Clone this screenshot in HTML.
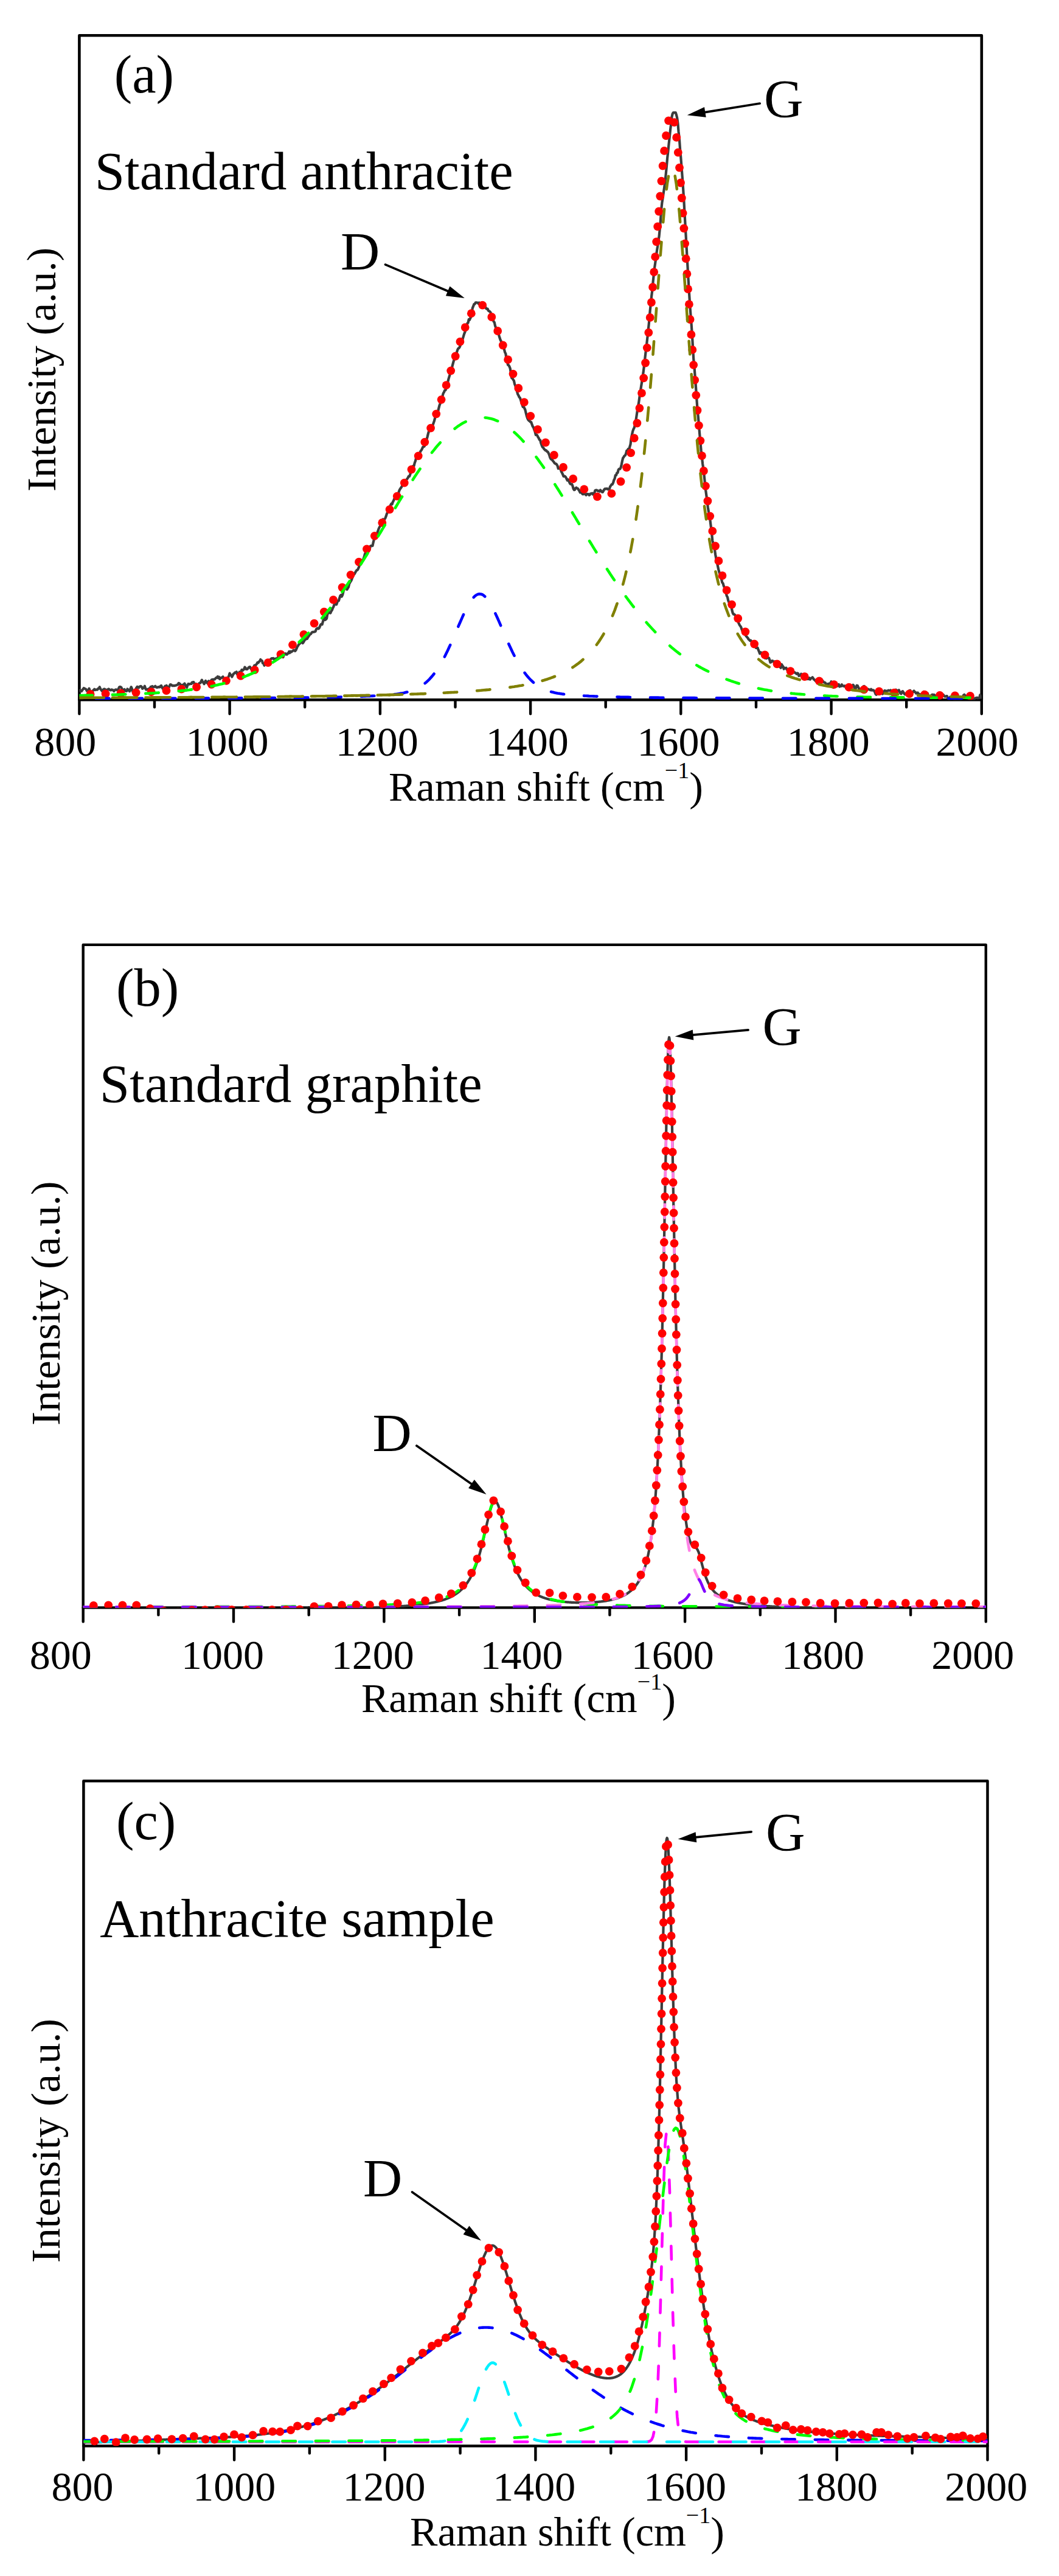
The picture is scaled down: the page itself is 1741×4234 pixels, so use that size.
<!DOCTYPE html><html><head><meta charset="utf-8"><title>Raman spectra</title>
<style>html,body{margin:0;padding:0;background:#fff}svg{display:block}text{font-family:"Liberation Serif", "Times New Roman", serif;fill:#000}</style></head><body>
<svg width="1741" height="4234" viewBox="0 0 1741 4234">
<rect width="1741" height="4234" fill="#fff"/>
<clipPath id="clip1"><rect x="130.4" y="58.3" width="1483.4" height="1092.0"/></clipPath>
<rect x="130.4" y="58.3" width="1483.4" height="1092.0" fill="none" stroke="#000" stroke-width="4.6" stroke-linejoin="round"/>
<path d="M130.4,1150.3 v23 M254.0,1150.3 v12 M377.6,1150.3 v23 M501.2,1150.3 v12 M624.9,1150.3 v23 M748.5,1150.3 v12 M872.1,1150.3 v23 M995.7,1150.3 v12 M1119.3,1150.3 v23 M1243.0,1150.3 v12 M1366.6,1150.3 v23 M1490.2,1150.3 v12 M1613.8,1150.3 v23" stroke="#000" stroke-width="4.4" stroke-linecap="round" fill="none"/>
<g clip-path="url(#clip1)" fill="none" stroke-linejoin="round">
<path d="M130.4,1134.3 L131.6,1134.3 L132.9,1136.2 L134.1,1136.1 L135.3,1134.3 L136.6,1132.5 L137.8,1130.9 L139.1,1132.0 L140.3,1132.0 L141.5,1133.0 L142.8,1135.5 L144.0,1134.8 L145.2,1134.4 L146.5,1131.6 L147.7,1134.8 L148.9,1137.7 L150.2,1139.4 L151.4,1137.8 L152.7,1135.2 L153.9,1134.1 L155.1,1132.8 L156.4,1134.0 L157.6,1133.5 L158.8,1133.6 L160.1,1133.6 L161.3,1131.8 L162.5,1131.6 L163.8,1129.2 L165.0,1132.1 L166.2,1133.7 L167.5,1135.7 L168.7,1135.0 L170.0,1133.2 L171.2,1132.4 L172.4,1132.8 L173.7,1134.8 L174.9,1135.8 L176.1,1133.6 L177.4,1133.4 L178.6,1132.4 L179.8,1133.4 L181.1,1134.2 L182.3,1134.4 L183.6,1133.3 L184.8,1133.9 L186.0,1134.3 L187.3,1136.1 L188.5,1134.5 L189.7,1133.5 L191.0,1133.4 L192.2,1134.2 L193.4,1133.7 L194.7,1132.7 L195.9,1129.6 L197.2,1128.8 L198.4,1129.2 L199.6,1130.2 L200.9,1133.6 L202.1,1133.3 L203.3,1134.1 L204.6,1133.0 L205.8,1135.4 L207.0,1135.8 L208.3,1135.8 L209.5,1132.5 L210.8,1133.9 L212.0,1135.0 L213.2,1136.3 L214.5,1131.8 L215.7,1129.2 L216.9,1131.9 L218.2,1136.8 L219.4,1137.1 L220.6,1135.5 L221.9,1133.7 L223.1,1132.9 L224.3,1130.5 L225.6,1128.8 L226.8,1129.7 L228.1,1130.5 L229.3,1128.6 L230.5,1128.1 L231.8,1127.9 L233.0,1129.2 L234.2,1131.9 L235.5,1130.9 L236.7,1130.3 L237.9,1127.6 L239.2,1131.6 L240.4,1133.6 L241.7,1133.1 L242.9,1132.9 L244.1,1132.2 L245.4,1131.9 L246.6,1131.2 L247.8,1128.9 L249.1,1129.4 L250.3,1127.9 L251.5,1129.4 L252.8,1129.2 L254.0,1128.8 L255.3,1127.7 L256.5,1129.3 L257.7,1129.9 L259.0,1129.9 L260.2,1129.0 L261.4,1129.5 L262.7,1129.5 L263.9,1127.6 L265.1,1127.0 L266.4,1129.8 L267.6,1131.8 L268.9,1131.3 L270.1,1129.8 L271.3,1127.8 L272.6,1128.8 L273.8,1126.7 L275.0,1130.0 L276.3,1129.6 L277.5,1130.3 L278.7,1127.2 L280.0,1125.0 L281.2,1125.2 L282.4,1126.4 L283.7,1127.2 L284.9,1126.8 L286.2,1127.1 L287.4,1126.8 L288.6,1126.7 L289.9,1126.3 L291.1,1125.6 L292.3,1125.5 L293.6,1122.8 L294.8,1123.2 L296.0,1124.3 L297.3,1127.2 L298.5,1127.5 L299.8,1125.7 L301.0,1125.5 L302.2,1124.8 L303.5,1123.5 L304.7,1126.2 L305.9,1128.0 L307.2,1129.8 L308.4,1125.9 L309.6,1124.0 L310.9,1124.7 L312.1,1124.2 L313.4,1124.0 L314.6,1124.0 L315.8,1121.5 L317.1,1121.3 L318.3,1121.1 L319.5,1124.2 L320.8,1124.7 L322.0,1123.9 L323.2,1127.1 L324.5,1127.2 L325.7,1125.6 L327.0,1123.5 L328.2,1122.7 L329.4,1122.6 L330.7,1119.8 L331.9,1117.6 L333.1,1120.8 L334.4,1122.1 L335.6,1124.2 L336.8,1121.0 L338.1,1119.0 L339.3,1121.7 L340.5,1120.9 L341.8,1123.8 L343.0,1119.3 L344.3,1122.4 L345.5,1120.0 L346.7,1119.1 L348.0,1117.2 L349.2,1116.9 L350.4,1117.1 L351.7,1116.5 L352.9,1116.6 L354.1,1115.3 L355.4,1113.9 L356.6,1113.9 L357.9,1112.0 L359.1,1114.5 L360.3,1112.7 L361.6,1116.2 L362.8,1114.3 L364.0,1114.2 L365.3,1113.3 L366.5,1112.3 L367.7,1114.8 L369.0,1116.6 L370.2,1116.3 L371.5,1115.3 L372.7,1114.3 L373.9,1116.6 L375.2,1113.4 L376.4,1110.8 L377.6,1106.6 L378.9,1109.1 L380.1,1109.6 L381.3,1112.5 L382.6,1110.0 L383.8,1107.5 L385.1,1106.8 L386.3,1105.3 L387.5,1105.6 L388.8,1104.3 L390.0,1108.3 L391.2,1107.3 L392.5,1106.7 L393.7,1104.5 L394.9,1105.3 L396.2,1104.1 L397.4,1101.0 L398.6,1102.3 L399.9,1100.8 L401.1,1100.3 L402.4,1096.6 L403.6,1097.8 L404.8,1100.0 L406.1,1100.0 L407.3,1099.1 L408.5,1097.4 L409.8,1096.3 L411.0,1096.2 L412.2,1098.7 L413.5,1100.4 L414.7,1101.9 L416.0,1097.3 L417.2,1095.8 L418.4,1093.6 L419.7,1094.0 L420.9,1092.8 L422.1,1091.2 L423.4,1088.9 L424.6,1089.4 L425.8,1087.5 L427.1,1086.7 L428.3,1084.0 L429.6,1085.7 L430.8,1086.0 L432.0,1090.2 L433.3,1090.4 L434.5,1093.8 L435.7,1089.9 L437.0,1090.0 L438.2,1087.4 L439.4,1088.8 L440.7,1087.1 L441.9,1087.6 L443.2,1086.8 L444.4,1084.2 L445.6,1083.0 L446.9,1082.1 L448.1,1082.5 L449.3,1082.0 L450.6,1083.5 L451.8,1084.8 L453.0,1082.5 L454.3,1082.4 L455.5,1081.9 L456.7,1081.4 L458.0,1077.8 L459.2,1076.5 L460.5,1076.2 L461.7,1076.5 L462.9,1077.4 L464.2,1079.8 L465.4,1080.2 L466.6,1076.8 L467.9,1074.8 L469.1,1074.2 L470.3,1075.5 L471.6,1075.8 L472.8,1074.0 L474.1,1073.8 L475.3,1070.8 L476.5,1073.1 L477.8,1070.7 L479.0,1071.5 L480.2,1070.6 L481.5,1069.6 L482.7,1068.7 L483.9,1068.5 L485.2,1070.0 L486.4,1068.7 L487.7,1065.7 L488.9,1062.8 L490.1,1061.3 L491.4,1058.8 L492.6,1058.2 L493.8,1056.3 L495.1,1055.2 L496.3,1054.0 L497.5,1057.2 L498.8,1055.8 L500.0,1053.7 L501.2,1050.3 L502.5,1051.0 L503.7,1049.1 L505.0,1049.9 L506.2,1047.6 L507.4,1045.9 L508.7,1043.8 L509.9,1042.4 L511.1,1042.0 L512.4,1039.8 L513.6,1038.8 L514.8,1038.9 L516.1,1038.7 L517.3,1038.3 L518.6,1037.9 L519.8,1034.4 L521.0,1033.0 L522.3,1032.3 L523.5,1033.3 L524.7,1032.3 L526.0,1029.5 L527.2,1026.6 L528.4,1025.7 L529.7,1026.3 L530.9,1021.5 L532.2,1017.4 L533.4,1013.9 L534.6,1018.9 L535.9,1017.9 L537.1,1016.4 L538.3,1009.3 L539.6,1007.8 L540.8,1006.8 L542.0,1006.5 L543.3,1007.7 L544.5,1004.6 L545.8,1003.0 L547.0,999.6 L548.2,997.5 L549.5,993.8 L550.7,992.8 L551.9,993.5 L553.2,993.6 L554.4,989.8 L555.6,987.6 L556.9,987.4 L558.1,983.1 L559.3,979.5 L560.6,978.0 L561.8,980.6 L563.1,977.9 L564.3,973.3 L565.5,967.5 L566.8,966.7 L568.0,967.1 L569.2,967.2 L570.5,968.9 L571.7,966.7 L572.9,965.1 L574.2,959.6 L575.4,957.4 L576.7,955.4 L577.9,953.3 L579.1,949.7 L580.4,946.5 L581.6,944.6 L582.8,943.3 L584.1,940.9 L585.3,938.8 L586.5,937.2 L587.8,936.7 L589.0,934.5 L590.3,931.4 L591.5,928.1 L592.7,925.8 L594.0,923.2 L595.2,921.3 L596.4,920.7 L597.7,918.2 L598.9,914.4 L600.1,910.1 L601.4,908.7 L602.6,907.3 L603.9,906.9 L605.1,907.0 L606.3,905.4 L607.6,903.3 L608.8,897.8 L610.0,897.1 L611.3,897.0 L612.5,897.1 L613.7,891.4 L615.0,886.3 L616.2,884.4 L617.4,885.0 L618.7,881.6 L619.9,876.8 L621.2,873.3 L622.4,869.7 L623.6,867.0 L624.9,864.8 L626.1,863.6 L627.3,860.0 L628.6,856.3 L629.8,853.4 L631.0,854.4 L632.3,853.5 L633.5,851.5 L634.8,848.1 L636.0,844.2 L637.2,842.0 L638.5,838.2 L639.7,837.5 L640.9,832.8 L642.2,830.1 L643.4,827.9 L644.6,828.8 L645.9,824.9 L647.1,822.8 L648.4,819.6 L649.6,819.4 L650.8,816.7 L652.1,817.1 L653.3,815.9 L654.5,813.2 L655.8,808.0 L657.0,805.0 L658.2,803.2 L659.5,801.3 L660.7,799.3 L662.0,796.8 L663.2,795.6 L664.4,794.3 L665.7,791.4 L666.9,790.5 L668.1,788.7 L669.4,787.2 L670.6,785.4 L671.8,782.8 L673.1,783.0 L674.3,779.7 L675.5,776.0 L676.8,770.4 L678.0,767.2 L679.3,765.8 L680.5,765.9 L681.7,761.0 L683.0,757.6 L684.2,752.0 L685.4,752.9 L686.7,751.3 L687.9,752.4 L689.1,747.8 L690.4,743.8 L691.6,741.3 L692.9,739.7 L694.1,737.4 L695.3,734.6 L696.6,734.1 L697.8,733.5 L699.0,729.3 L700.3,726.0 L701.5,721.8 L702.7,717.8 L704.0,712.3 L705.2,708.5 L706.5,704.0 L707.7,700.3 L708.9,699.8 L710.2,699.3 L711.4,699.0 L712.6,695.6 L713.9,691.9 L715.1,687.3 L716.3,682.0 L717.6,680.6 L718.8,678.9 L720.1,676.1 L721.3,671.0 L722.5,666.3 L723.8,662.9 L725.0,660.0 L726.2,655.2 L727.5,651.0 L728.7,646.5 L729.9,644.6 L731.2,641.6 L732.4,641.2 L733.6,637.8 L734.9,633.7 L736.1,628.4 L737.4,623.0 L738.6,619.0 L739.8,615.0 L741.1,611.6 L742.3,608.3 L743.5,602.1 L744.8,597.1 L746.0,592.8 L747.2,590.6 L748.5,587.9 L749.7,584.4 L751.0,578.9 L752.2,575.0 L753.4,572.6 L754.7,572.1 L755.9,569.9 L757.1,566.8 L758.4,563.5 L759.6,560.1 L760.8,556.8 L762.1,552.2 L763.3,548.4 L764.6,545.2 L765.8,539.2 L767.0,537.0 L768.3,531.5 L769.5,530.6 L770.7,525.0 L772.0,525.7 L773.2,523.0 L774.4,520.5 L775.7,513.2 L776.9,506.1 L778.2,503.1 L779.4,499.8 L780.6,499.7 L781.9,497.4 L783.1,497.2 L784.3,497.5 L785.6,497.5 L786.8,499.2 L788.0,497.5 L789.3,499.6 L790.5,498.3 L791.7,497.7 L793.0,497.5 L794.2,498.7 L795.5,501.0 L796.7,502.0 L797.9,504.4 L799.2,507.0 L800.4,507.8 L801.6,507.6 L802.9,510.7 L804.1,511.3 L805.3,512.2 L806.6,513.6 L807.8,517.9 L809.1,523.2 L810.3,524.2 L811.5,528.3 L812.8,529.9 L814.0,535.4 L815.2,538.6 L816.5,541.8 L817.7,542.9 L818.9,545.5 L820.2,550.8 L821.4,555.0 L822.7,558.7 L823.9,561.1 L825.1,563.9 L826.4,566.1 L827.6,571.0 L828.8,573.8 L830.1,579.0 L831.3,581.2 L832.5,588.8 L833.8,592.6 L835.0,599.7 L836.3,600.4 L837.5,602.4 L838.7,605.6 L840.0,613.5 L841.2,621.1 L842.4,621.8 L843.7,624.1 L844.9,625.8 L846.1,631.3 L847.4,634.5 L848.6,639.4 L849.8,642.4 L851.1,647.6 L852.3,649.7 L853.6,652.7 L854.8,653.6 L856.0,657.1 L857.3,661.9 L858.5,665.4 L859.7,668.9 L861.0,668.8 L862.2,671.0 L863.4,673.5 L864.7,679.0 L865.9,683.7 L867.2,687.5 L868.4,690.1 L869.6,691.4 L870.9,692.2 L872.1,693.6 L873.3,693.8 L874.6,697.8 L875.8,700.9 L877.0,702.4 L878.3,706.2 L879.5,709.2 L880.8,714.9 L882.0,714.5 L883.2,715.6 L884.5,718.3 L885.7,720.2 L886.9,722.8 L888.2,723.6 L889.4,728.5 L890.6,731.8 L891.9,734.8 L893.1,735.7 L894.4,737.9 L895.6,739.1 L896.8,740.5 L898.1,740.3 L899.3,742.1 L900.5,742.7 L901.8,744.8 L903.0,747.7 L904.2,751.7 L905.5,754.2 L906.7,755.3 L907.9,755.9 L909.2,757.8 L910.4,759.1 L911.7,761.3 L912.9,762.1 L914.1,762.4 L915.4,763.6 L916.6,765.9 L917.8,770.1 L919.1,769.1 L920.3,770.5 L921.5,770.8 L922.8,775.2 L924.0,777.2 L925.3,780.0 L926.5,782.9 L927.7,782.6 L929.0,783.0 L930.2,784.4 L931.4,786.8 L932.7,789.6 L933.9,788.3 L935.1,790.2 L936.4,793.4 L937.6,795.6 L938.9,795.6 L940.1,795.8 L941.3,798.2 L942.6,803.2 L943.8,805.3 L945.0,804.9 L946.3,802.3 L947.5,801.5 L948.7,802.7 L950.0,803.0 L951.2,805.0 L952.5,806.8 L953.7,809.5 L954.9,808.6 L956.2,809.4 L957.4,811.8 L958.6,812.4 L959.9,811.0 L961.1,811.5 L962.3,812.4 L963.6,813.7 L964.8,811.8 L966.0,812.2 L967.3,812.2 L968.5,813.9 L969.8,813.0 L971.0,811.2 L972.2,811.0 L973.5,810.7 L974.7,812.6 L975.9,811.1 L977.2,810.1 L978.4,806.1 L979.6,805.6 L980.9,805.6 L982.1,806.4 L983.4,807.2 L984.6,806.7 L985.8,807.8 L987.1,805.5 L988.3,807.0 L989.5,808.6 L990.8,808.9 L992.0,806.9 L993.2,804.8 L994.5,803.4 L995.7,803.7 L997.0,803.3 L998.2,803.2 L999.4,804.3 L1000.7,803.7 L1001.9,803.6 L1003.1,799.7 L1004.4,798.0 L1005.6,796.1 L1006.8,796.2 L1008.1,793.4 L1009.3,789.2 L1010.6,786.6 L1011.8,781.1 L1013.0,781.1 L1014.3,777.3 L1015.5,777.0 L1016.7,772.0 L1018.0,770.7 L1019.2,770.9 L1020.4,769.0 L1021.7,764.0 L1022.9,758.1 L1024.1,753.1 L1025.4,751.3 L1026.6,749.1 L1027.9,748.6 L1029.1,745.5 L1030.3,740.7 L1031.6,740.3 L1032.8,737.9 L1034.0,740.8 L1035.3,734.4 L1036.5,730.4 L1037.7,720.6 L1039.0,714.3 L1040.2,708.9 L1041.5,705.2 L1042.7,703.0 L1043.9,698.2 L1045.2,692.3 L1046.4,684.2 L1047.6,676.3 L1048.9,668.3 L1050.1,662.0 L1051.3,653.3 L1052.6,644.9 L1053.8,636.8 L1055.1,628.6 L1056.3,620.7 L1057.5,612.9 L1058.8,602.4 L1060.0,591.9 L1061.2,581.5 L1062.5,571.5 L1063.7,560.8 L1064.9,550.3 L1066.2,538.0 L1067.4,526.0 L1068.7,510.5 L1069.9,499.6 L1071.1,487.1 L1072.4,476.7 L1073.6,463.0 L1074.8,451.6 L1076.1,440.0 L1077.3,431.7 L1078.5,423.1 L1079.8,413.3 L1081.0,405.5 L1082.2,396.1 L1083.5,389.0 L1084.7,376.9 L1086.0,361.8 L1087.2,343.9 L1088.4,333.0 L1089.7,325.0 L1090.9,316.5 L1092.1,308.3 L1093.4,298.2 L1094.6,287.6 L1095.8,274.5 L1097.1,260.0 L1098.3,249.4 L1099.6,236.1 L1100.8,225.6 L1102.0,213.6 L1103.3,202.9 L1104.5,192.0 L1105.7,187.0 L1107.0,185.0 L1108.2,185.1 L1109.4,185.1 L1110.7,185.0 L1111.9,188.4 L1113.2,193.7 L1114.4,202.6 L1115.6,216.7 L1116.9,228.6 L1118.1,245.6 L1119.3,258.9 L1120.6,275.8 L1121.8,291.6 L1123.0,308.7 L1124.3,328.5 L1125.5,350.3 L1126.8,373.3 L1128.0,394.2 L1129.2,416.4 L1130.5,438.8 L1131.7,460.4 L1132.9,480.1 L1134.2,500.7 L1135.4,516.9 L1136.6,532.2 L1137.9,550.8 L1139.1,571.7 L1140.3,591.3 L1141.6,604.6 L1142.8,620.4 L1144.1,637.5 L1145.3,655.7 L1146.5,671.6 L1147.8,684.6 L1149.0,698.6 L1150.2,713.4 L1151.5,727.5 L1152.7,740.7 L1153.9,751.2 L1155.2,762.8 L1156.4,770.8 L1157.7,782.3 L1158.9,793.6 L1160.1,805.2 L1161.4,814.7 L1162.6,824.4 L1163.8,833.6 L1165.1,842.0 L1166.3,848.7 L1167.5,855.3 L1168.8,865.7 L1170.0,875.8 L1171.3,888.8 L1172.5,892.8 L1173.7,900.2 L1175.0,903.8 L1176.2,911.9 L1177.4,918.7 L1178.7,923.8 L1179.9,929.8 L1181.1,935.5 L1182.4,940.5 L1183.6,943.7 L1184.9,948.2 L1186.1,952.0 L1187.3,957.5 L1188.6,958.7 L1189.8,963.2 L1191.0,965.7 L1192.3,970.3 L1193.5,973.5 L1194.7,979.2 L1196.0,981.5 L1197.2,987.0 L1198.4,989.9 L1199.7,991.8 L1200.9,993.3 L1202.2,996.4 L1203.4,1002.9 L1204.6,1007.4 L1205.9,1009.7 L1207.1,1009.7 L1208.3,1010.8 L1209.6,1012.9 L1210.8,1016.7 L1212.0,1017.9 L1213.3,1021.5 L1214.5,1024.4 L1215.8,1027.2 L1217.0,1028.9 L1218.2,1030.6 L1219.5,1034.6 L1220.7,1037.0 L1221.9,1037.9 L1223.2,1038.6 L1224.4,1041.7 L1225.6,1043.8 L1226.9,1045.8 L1228.1,1047.3 L1229.4,1048.6 L1230.6,1050.8 L1231.8,1051.6 L1233.1,1053.2 L1234.3,1052.7 L1235.5,1054.7 L1236.8,1056.6 L1238.0,1060.9 L1239.2,1058.5 L1240.5,1061.1 L1241.7,1059.8 L1243.0,1064.9 L1244.2,1064.5 L1245.4,1064.5 L1246.7,1068.1 L1247.9,1070.9 L1249.1,1074.3 L1250.4,1072.3 L1251.6,1073.7 L1252.8,1072.7 L1254.1,1073.6 L1255.3,1075.9 L1256.5,1078.5 L1257.8,1081.8 L1259.0,1079.2 L1260.3,1082.0 L1261.5,1080.6 L1262.7,1081.3 L1264.0,1081.3 L1265.2,1084.2 L1266.4,1088.8 L1267.7,1088.3 L1268.9,1086.4 L1270.1,1086.1 L1271.4,1087.3 L1272.6,1088.4 L1273.9,1087.3 L1275.1,1092.0 L1276.3,1093.7 L1277.6,1094.1 L1278.8,1091.0 L1280.0,1090.2 L1281.3,1095.1 L1282.5,1096.5 L1283.7,1097.7 L1285.0,1092.0 L1286.2,1094.0 L1287.5,1095.7 L1288.7,1099.5 L1289.9,1097.8 L1291.2,1098.5 L1292.4,1097.7 L1293.6,1100.4 L1294.9,1100.0 L1296.1,1102.7 L1297.3,1102.1 L1298.6,1103.8 L1299.8,1105.7 L1301.0,1105.1 L1302.3,1104.3 L1303.5,1103.5 L1304.8,1105.1 L1306.0,1104.8 L1307.2,1105.8 L1308.5,1106.7 L1309.7,1107.7 L1310.9,1106.3 L1312.2,1107.0 L1313.4,1110.9 L1314.6,1110.4 L1315.9,1110.0 L1317.1,1107.7 L1318.4,1110.1 L1319.6,1110.6 L1320.8,1111.6 L1322.1,1113.0 L1323.3,1114.6 L1324.5,1115.3 L1325.8,1115.1 L1327.0,1116.1 L1328.2,1114.9 L1329.5,1116.1 L1330.7,1114.2 L1332.0,1116.7 L1333.2,1114.9 L1334.4,1114.4 L1335.7,1113.2 L1336.9,1114.9 L1338.1,1116.9 L1339.4,1117.4 L1340.6,1119.0 L1341.8,1120.1 L1343.1,1120.5 L1344.3,1119.2 L1345.6,1118.6 L1346.8,1118.2 L1348.0,1117.0 L1349.3,1116.2 L1350.5,1116.7 L1351.7,1118.4 L1353.0,1119.9 L1354.2,1121.3 L1355.4,1121.6 L1356.7,1122.1 L1357.9,1124.2 L1359.1,1124.5 L1360.4,1124.6 L1361.6,1123.9 L1362.9,1123.8 L1364.1,1123.4 L1365.3,1122.7 L1366.6,1120.3 L1367.8,1124.5 L1369.0,1124.8 L1370.3,1130.0 L1371.5,1125.7 L1372.7,1122.4 L1374.0,1123.5 L1375.2,1124.8 L1376.5,1127.7 L1377.7,1125.2 L1378.9,1124.9 L1380.2,1128.6 L1381.4,1127.4 L1382.6,1127.9 L1383.9,1125.2 L1385.1,1127.3 L1386.3,1127.2 L1387.6,1128.0 L1388.8,1127.2 L1390.1,1128.9 L1391.3,1131.3 L1392.5,1131.9 L1393.8,1131.2 L1395.0,1127.6 L1396.2,1128.9 L1397.5,1129.4 L1398.7,1129.7 L1399.9,1128.6 L1401.2,1127.2 L1402.4,1125.7 L1403.7,1127.2 L1404.9,1131.4 L1406.1,1133.0 L1407.4,1130.1 L1408.6,1126.7 L1409.8,1126.9 L1411.1,1129.8 L1412.3,1132.1 L1413.5,1132.1 L1414.8,1132.7 L1416.0,1134.3 L1417.2,1136.8 L1418.5,1132.7 L1419.7,1128.1 L1421.0,1127.8 L1422.2,1132.1 L1423.4,1134.4 L1424.7,1134.6 L1425.9,1132.2 L1427.1,1132.8 L1428.4,1133.3 L1429.6,1133.5 L1430.8,1134.3 L1432.1,1132.8 L1433.3,1134.6 L1434.6,1134.4 L1435.8,1134.4 L1437.0,1135.4 L1438.3,1137.5 L1439.5,1140.8 L1440.7,1141.7 L1442.0,1140.4 L1443.2,1137.8 L1444.4,1136.2 L1445.7,1134.7 L1446.9,1134.6 L1448.2,1135.8 L1449.4,1137.6 L1450.6,1140.5 L1451.9,1139.9 L1453.1,1138.5 L1454.3,1135.2 L1455.6,1135.3 L1456.8,1136.2 L1458.0,1135.8 L1459.3,1135.7 L1460.5,1134.7 L1461.8,1135.2 L1463.0,1135.1 L1464.2,1134.5 L1465.5,1136.1 L1466.7,1136.9 L1467.9,1139.7 L1469.2,1140.0 L1470.4,1137.7 L1471.6,1134.5 L1472.9,1133.6 L1474.1,1134.9 L1475.3,1135.8 L1476.6,1134.9 L1477.8,1134.2 L1479.1,1137.3 L1480.3,1139.3 L1481.5,1140.3 L1482.8,1137.0 L1484.0,1136.1 L1485.2,1137.9 L1486.5,1140.2 L1487.7,1141.3 L1488.9,1141.4 L1490.2,1139.1 L1491.4,1139.1 L1492.7,1138.1 L1493.9,1137.3 L1495.1,1135.1 L1496.4,1134.8 L1497.6,1138.4 L1498.8,1139.5 L1500.1,1138.0 L1501.3,1136.5 L1502.5,1135.5 L1503.8,1137.5 L1505.0,1137.8 L1506.3,1139.7 L1507.5,1139.4 L1508.7,1138.5 L1510.0,1140.2 L1511.2,1140.9 L1512.4,1142.4 L1513.7,1141.4 L1514.9,1141.8 L1516.1,1141.2 L1517.4,1138.1 L1518.6,1137.0 L1519.9,1137.7 L1521.1,1142.3 L1522.3,1140.8 L1523.6,1141.2 L1524.8,1139.4 L1526.0,1143.4 L1527.3,1143.7 L1528.5,1145.1 L1529.7,1143.7 L1531.0,1143.2 L1532.2,1141.9 L1533.4,1141.7 L1534.7,1143.5 L1535.9,1141.9 L1537.2,1143.2 L1538.4,1144.5 L1539.6,1146.7 L1540.9,1147.0 L1542.1,1146.1 L1543.3,1146.4 L1544.6,1145.2 L1545.8,1145.5 L1547.0,1145.3 L1548.3,1144.0 L1549.5,1141.8 L1550.8,1141.9 L1552.0,1143.7 L1553.2,1144.8 L1554.5,1144.8 L1555.7,1144.1 L1556.9,1144.2 L1558.2,1147.3 L1559.4,1148.4 L1560.6,1149.5 L1561.9,1145.7 L1563.1,1146.6 L1564.4,1145.4 L1565.6,1143.5 L1566.8,1144.2 L1568.1,1145.9 L1569.3,1150.6 L1570.5,1152.4 L1571.8,1153.4 L1573.0,1151.3 L1574.2,1149.1 L1575.5,1149.2 L1576.7,1151.7 L1578.0,1150.1 L1579.2,1148.8 L1580.4,1147.5 L1581.7,1148.0 L1582.9,1145.3 L1584.1,1142.5 L1585.4,1141.7 L1586.6,1143.3 L1587.8,1145.6 L1589.1,1144.7 L1590.3,1143.1 L1591.5,1143.8 L1592.8,1145.6 L1594.0,1147.1 L1595.3,1146.7 L1596.5,1148.0 L1597.7,1150.1 L1599.0,1150.9 L1600.2,1152.2 L1601.4,1149.1 L1602.7,1147.7 L1603.9,1147.3 L1605.1,1147.2 L1606.4,1146.7 L1607.6,1147.7 L1608.9,1147.1 L1610.1,1147.3 L1611.3,1142.2 L1612.6,1146.2 L1613.8,1146.5" stroke="#3c3c3c" stroke-width="4.2" stroke-linecap="round"/>
<g fill="#ff0000" stroke="none"><circle cx="148.6" cy="1140.9" r="6.9"/><circle cx="173.6" cy="1140.3" r="6.9"/><circle cx="198.6" cy="1139.5" r="6.9"/><circle cx="223.6" cy="1138.4" r="6.9"/><circle cx="248.6" cy="1137.1" r="6.9"/><circle cx="273.5" cy="1135.2" r="6.9"/><circle cx="298.4" cy="1132.7" r="6.9"/><circle cx="323.1" cy="1129.4" r="6.9"/><circle cx="347.7" cy="1124.8" r="6.9"/><circle cx="372.0" cy="1118.8" r="6.9"/><circle cx="395.7" cy="1110.9" r="6.9"/><circle cx="418.7" cy="1101.1" r="6.9"/><circle cx="440.7" cy="1089.2" r="6.9"/><circle cx="461.5" cy="1075.4" r="6.9"/><circle cx="481.0" cy="1059.8" r="6.9"/><circle cx="499.4" cy="1042.8" r="6.9"/><circle cx="516.6" cy="1024.7" r="6.9"/><circle cx="532.8" cy="1005.6" r="6.9"/><circle cx="548.0" cy="985.9" r="6.9"/><circle cx="562.6" cy="965.5" r="6.9"/><circle cx="576.5" cy="944.8" r="6.9"/><circle cx="590.0" cy="923.7" r="6.9"/><circle cx="603.0" cy="902.4" r="6.9"/><circle cx="615.8" cy="880.8" r="6.9"/><circle cx="628.3" cy="859.2" r="6.9"/><circle cx="640.6" cy="837.4" r="6.9"/><circle cx="652.8" cy="815.6" r="6.9"/><circle cx="664.8" cy="793.7" r="6.9"/><circle cx="676.5" cy="771.6" r="6.9"/><circle cx="687.7" cy="749.3" r="6.9"/><circle cx="698.3" cy="726.6" r="6.9"/><circle cx="708.1" cy="703.6" r="6.9"/><circle cx="717.2" cy="680.3" r="6.9"/><circle cx="725.6" cy="656.8" r="6.9"/><circle cx="733.6" cy="633.1" r="6.9"/><circle cx="741.2" cy="609.3" r="6.9"/><circle cx="748.7" cy="585.5" r="6.9"/><circle cx="756.4" cy="561.7" r="6.9"/><circle cx="764.7" cy="538.1" r="6.9"/><circle cx="774.8" cy="515.2" r="6.9"/><circle cx="793.2" cy="501.7" r="6.9"/><circle cx="808.3" cy="521.0" r="6.9"/><circle cx="818.2" cy="544.0" r="6.9"/><circle cx="826.8" cy="567.5" r="6.9"/><circle cx="835.1" cy="591.1" r="6.9"/><circle cx="843.5" cy="614.6" r="6.9"/><circle cx="852.3" cy="638.0" r="6.9"/><circle cx="861.8" cy="661.1" r="6.9"/><circle cx="872.3" cy="683.8" r="6.9"/><circle cx="884.0" cy="705.9" r="6.9"/><circle cx="896.9" cy="727.3" r="6.9"/><circle cx="910.9" cy="748.0" r="6.9"/><circle cx="926.0" cy="768.0" r="6.9"/><circle cx="942.2" cy="787.0" r="6.9"/><circle cx="960.3" cy="804.2" r="6.9"/><circle cx="981.9" cy="816.3" r="6.9"/><circle cx="1005.4" cy="811.2" r="6.9"/><circle cx="1020.5" cy="791.5" r="6.9"/><circle cx="1030.1" cy="768.4" r="6.9"/><circle cx="1037.1" cy="744.4" r="6.9"/><circle cx="1042.7" cy="720.1" r="6.9"/><circle cx="1047.4" cy="695.5" r="6.9"/><circle cx="1051.4" cy="670.8" r="6.9"/><circle cx="1055.0" cy="646.1" r="6.9"/><circle cx="1058.2" cy="621.3" r="6.9"/><circle cx="1061.1" cy="596.5" r="6.9"/><circle cx="1063.8" cy="571.6" r="6.9"/><circle cx="1066.3" cy="546.7" r="6.9"/><circle cx="1068.7" cy="521.9" r="6.9"/><circle cx="1070.9" cy="497.0" r="6.9"/><circle cx="1073.1" cy="472.0" r="6.9"/><circle cx="1075.2" cy="447.1" r="6.9"/><circle cx="1077.2" cy="422.2" r="6.9"/><circle cx="1079.2" cy="397.3" r="6.9"/><circle cx="1081.2" cy="372.4" r="6.9"/><circle cx="1083.2" cy="347.5" r="6.9"/><circle cx="1085.3" cy="322.5" r="6.9"/><circle cx="1087.4" cy="297.6" r="6.9"/><circle cx="1089.6" cy="272.7" r="6.9"/><circle cx="1092.1" cy="247.9" r="6.9"/><circle cx="1095.0" cy="223.0" r="6.9"/><circle cx="1099.1" cy="198.4" r="6.9"/><circle cx="1108.5" cy="201.1" r="6.9"/><circle cx="1112.2" cy="225.9" r="6.9"/><circle cx="1114.8" cy="250.7" r="6.9"/><circle cx="1117.0" cy="275.6" r="6.9"/><circle cx="1119.0" cy="300.5" r="6.9"/><circle cx="1120.8" cy="325.5" r="6.9"/><circle cx="1122.6" cy="350.4" r="6.9"/><circle cx="1124.4" cy="375.3" r="6.9"/><circle cx="1126.1" cy="400.3" r="6.9"/><circle cx="1127.7" cy="425.2" r="6.9"/><circle cx="1129.4" cy="450.2" r="6.9"/><circle cx="1131.1" cy="475.1" r="6.9"/><circle cx="1132.9" cy="500.1" r="6.9"/><circle cx="1134.6" cy="525.0" r="6.9"/><circle cx="1136.4" cy="549.9" r="6.9"/><circle cx="1138.3" cy="574.9" r="6.9"/><circle cx="1140.2" cy="599.8" r="6.9"/><circle cx="1142.2" cy="624.7" r="6.9"/><circle cx="1144.3" cy="649.6" r="6.9"/><circle cx="1146.5" cy="674.5" r="6.9"/><circle cx="1148.9" cy="699.4" r="6.9"/><circle cx="1151.4" cy="724.3" r="6.9"/><circle cx="1154.0" cy="749.1" r="6.9"/><circle cx="1156.9" cy="774.0" r="6.9"/><circle cx="1160.0" cy="798.8" r="6.9"/><circle cx="1163.4" cy="823.5" r="6.9"/><circle cx="1167.2" cy="848.3" r="6.9"/><circle cx="1171.3" cy="872.9" r="6.9"/><circle cx="1176.0" cy="897.5" r="6.9"/><circle cx="1181.4" cy="921.9" r="6.9"/><circle cx="1187.5" cy="946.1" r="6.9"/><circle cx="1194.6" cy="970.1" r="6.9"/><circle cx="1203.1" cy="993.6" r="6.9"/><circle cx="1213.2" cy="1016.5" r="6.9"/><circle cx="1225.4" cy="1038.3" r="6.9"/><circle cx="1240.1" cy="1058.5" r="6.9"/><circle cx="1257.5" cy="1076.3" r="6.9"/><circle cx="1277.5" cy="1091.3" r="6.9"/><circle cx="1299.5" cy="1103.1" r="6.9"/><circle cx="1322.8" cy="1112.2" r="6.9"/><circle cx="1346.8" cy="1119.3" r="6.9"/><circle cx="1371.1" cy="1125.1" r="6.9"/><circle cx="1395.7" cy="1129.7" r="6.9"/><circle cx="1420.4" cy="1133.4" r="6.9"/><circle cx="1445.2" cy="1136.3" r="6.9"/><circle cx="1470.1" cy="1138.6" r="6.9"/><circle cx="1495.0" cy="1140.4" r="6.9"/><circle cx="1520.0" cy="1141.7" r="6.9"/><circle cx="1545.0" cy="1142.8" r="6.9"/><circle cx="1570.0" cy="1143.5" r="6.9"/><circle cx="1595.0" cy="1144.0" r="6.9"/></g>
<path d="M130.4,1143.1 L132.9,1143.1 L135.3,1143.0 L137.8,1143.0 L140.3,1142.9 L142.8,1142.9 L145.2,1142.8 L147.7,1142.8 L150.2,1142.7 L152.7,1142.7 L155.1,1142.6 L157.6,1142.6 L160.1,1142.5 L162.5,1142.5 L165.0,1142.4 L167.5,1142.4 L170.0,1142.3 L172.4,1142.3 L174.9,1142.2 L177.4,1142.1 L179.8,1142.1 L182.3,1142.0 L184.8,1141.9 L187.3,1141.9 L189.7,1141.8 L192.2,1141.7 L194.7,1141.7 L197.2,1141.6 L199.6,1141.5 L202.1,1141.4 L204.6,1141.3 L207.0,1141.3 L209.5,1141.2 L212.0,1141.1 L214.5,1141.0 L216.9,1140.9 L219.4,1140.8 L221.9,1140.7 L224.3,1140.6 L226.8,1140.5 L229.3,1140.4 L231.8,1140.3 L234.2,1140.2 L236.7,1140.0 L239.2,1139.9 L241.7,1139.8 L244.1,1139.7 L246.6,1139.5 L249.1,1139.4 L251.5,1139.2 L254.0,1139.1 L256.5,1138.9 L259.0,1138.8 L261.4,1138.6 L263.9,1138.4 L266.4,1138.3 L268.9,1138.1 L271.3,1137.9 L273.8,1137.7 L276.3,1137.5 L278.7,1137.3 L281.2,1137.1 L283.7,1136.9 L286.2,1136.7 L288.6,1136.4 L291.1,1136.2 L293.6,1135.9 L296.0,1135.7 L298.5,1135.4 L301.0,1135.1 L303.5,1134.9 L305.9,1134.6 L308.4,1134.3 L310.9,1134.0 L313.4,1133.6 L315.8,1133.3 L318.3,1133.0 L320.8,1132.6 L323.2,1132.2 L325.7,1131.9 L328.2,1131.5 L330.7,1131.1 L333.1,1130.7 L335.6,1130.2 L338.1,1129.8 L340.5,1129.3 L343.0,1128.9 L345.5,1128.4 L348.0,1127.9 L350.4,1127.4 L352.9,1126.8 L355.4,1126.3 L357.9,1125.7 L360.3,1125.1 L362.8,1124.5 L365.3,1123.9 L367.7,1123.3 L370.2,1122.6 L372.7,1121.9 L375.2,1121.2 L377.6,1120.5 L380.1,1119.8 L382.6,1119.0 L385.1,1118.2 L387.5,1117.4 L390.0,1116.6 L392.5,1115.7 L394.9,1114.8 L397.4,1113.9 L399.9,1113.0 L402.4,1112.0 L404.8,1111.0 L407.3,1110.0 L409.8,1109.0 L412.2,1107.9 L414.7,1106.8 L417.2,1105.7 L419.7,1104.5 L422.1,1103.3 L424.6,1102.1 L427.1,1100.9 L429.6,1099.6 L432.0,1098.3 L434.5,1096.9 L437.0,1095.6 L439.4,1094.1 L441.9,1092.7 L444.4,1091.2 L446.9,1089.7 L449.3,1088.1 L451.8,1086.6 L454.3,1084.9 L456.7,1083.3 L459.2,1081.6 L461.7,1079.8 L464.2,1078.0 L466.6,1076.2 L469.1,1074.3 L471.6,1072.4 L474.1,1070.5 L476.5,1068.5 L479.0,1066.5 L481.5,1064.4 L483.9,1062.3 L486.4,1060.2 L488.9,1058.0 L491.4,1055.8 L493.8,1053.5 L496.3,1051.2 L498.8,1048.8 L501.2,1046.4 L503.7,1043.9 L506.2,1041.5 L508.7,1038.9 L511.1,1036.3 L513.6,1033.7 L516.1,1031.0 L518.6,1028.3 L521.0,1025.6 L523.5,1022.8 L526.0,1019.9 L528.4,1017.1 L530.9,1014.1 L533.4,1011.1 L535.9,1008.1 L538.3,1005.1 L540.8,1002.0 L543.3,998.8 L545.8,995.6 L548.2,992.4 L550.7,989.2 L553.2,985.9 L555.6,982.5 L558.1,979.1 L560.6,975.7 L563.1,972.2 L565.5,968.7 L568.0,965.2 L570.5,961.6 L572.9,958.0 L575.4,954.4 L577.9,950.7 L580.4,947.0 L582.8,943.3 L585.3,939.5 L587.8,935.7 L590.3,931.9 L592.7,928.0 L595.2,924.1 L597.7,920.2 L600.1,916.3 L602.6,912.4 L605.1,908.4 L607.6,904.4 L610.0,900.4 L612.5,896.4 L615.0,892.3 L617.4,888.3 L619.9,884.2 L622.4,880.1 L624.9,876.0 L627.3,872.0 L629.8,867.9 L632.3,863.8 L634.8,859.6 L637.2,855.5 L639.7,851.4 L642.2,847.3 L644.6,843.2 L647.1,839.1 L649.6,835.1 L652.1,831.0 L654.5,826.9 L657.0,822.9 L659.5,818.9 L662.0,814.9 L664.4,810.9 L666.9,806.9 L669.4,803.0 L671.8,799.1 L674.3,795.2 L676.8,791.4 L679.3,787.5 L681.7,783.8 L684.2,780.0 L686.7,776.3 L689.1,772.7 L691.6,769.1 L694.1,765.5 L696.6,762.0 L699.0,758.6 L701.5,755.2 L704.0,751.8 L706.5,748.5 L708.9,745.3 L711.4,742.1 L713.9,739.1 L716.3,736.0 L718.8,733.1 L721.3,730.2 L723.8,727.4 L726.2,724.7 L728.7,722.0 L731.2,719.4 L733.6,716.9 L736.1,714.5 L738.6,712.2 L741.1,710.0 L743.5,707.9 L746.0,705.8 L748.5,703.9 L751.0,702.0 L753.4,700.2 L755.9,698.6 L758.4,697.0 L760.8,695.6 L763.3,694.2 L765.8,693.0 L768.3,691.8 L770.7,690.8 L773.2,689.8 L775.7,689.0 L778.2,688.3 L780.6,687.7 L783.1,687.2 L785.6,686.8 L788.0,686.5 L790.5,686.4 L793.0,686.3 L795.5,686.4 L797.9,686.5 L800.4,686.8 L802.9,687.2 L805.3,687.7 L807.8,688.3 L810.3,689.0 L812.8,689.8 L815.2,690.8 L817.7,691.8 L820.2,693.0 L822.7,694.2 L825.1,695.6 L827.6,697.0 L830.1,698.6 L832.5,700.2 L835.0,702.0 L837.5,703.9 L840.0,705.8 L842.4,707.9 L844.9,710.0 L847.4,712.2 L849.8,714.5 L852.3,716.9 L854.8,719.4 L857.3,722.0 L859.7,724.7 L862.2,727.4 L864.7,730.2 L867.2,733.1 L869.6,736.0 L872.1,739.1 L874.6,742.1 L877.0,745.3 L879.5,748.5 L882.0,751.8 L884.5,755.2 L886.9,758.6 L889.4,762.0 L891.9,765.5 L894.4,769.1 L896.8,772.7 L899.3,776.3 L901.8,780.0 L904.2,783.8 L906.7,787.5 L909.2,791.4 L911.7,795.2 L914.1,799.1 L916.6,803.0 L919.1,806.9 L921.5,810.9 L924.0,814.9 L926.5,818.9 L929.0,822.9 L931.4,826.9 L933.9,831.0 L936.4,835.1 L938.9,839.1 L941.3,843.2 L943.8,847.3 L946.3,851.4 L948.7,855.5 L951.2,859.6 L953.7,863.8 L956.2,867.9 L958.6,872.0 L961.1,876.0 L963.6,880.1 L966.0,884.2 L968.5,888.3 L971.0,892.3 L973.5,896.4 L975.9,900.4 L978.4,904.4 L980.9,908.4 L983.4,912.4 L985.8,916.3 L988.3,920.2 L990.8,924.1 L993.2,928.0 L995.7,931.9 L998.2,935.7 L1000.7,939.5 L1003.1,943.3 L1005.6,947.0 L1008.1,950.7 L1010.6,954.4 L1013.0,958.0 L1015.5,961.6 L1018.0,965.2 L1020.4,968.7 L1022.9,972.2 L1025.4,975.7 L1027.9,979.1 L1030.3,982.5 L1032.8,985.9 L1035.3,989.2 L1037.7,992.4 L1040.2,995.6 L1042.7,998.8 L1045.2,1002.0 L1047.6,1005.1 L1050.1,1008.1 L1052.6,1011.1 L1055.1,1014.1 L1057.5,1017.1 L1060.0,1019.9 L1062.5,1022.8 L1064.9,1025.6 L1067.4,1028.3 L1069.9,1031.0 L1072.4,1033.7 L1074.8,1036.3 L1077.3,1038.9 L1079.8,1041.5 L1082.2,1043.9 L1084.7,1046.4 L1087.2,1048.8 L1089.7,1051.2 L1092.1,1053.5 L1094.6,1055.8 L1097.1,1058.0 L1099.6,1060.2 L1102.0,1062.3 L1104.5,1064.4 L1107.0,1066.5 L1109.4,1068.5 L1111.9,1070.5 L1114.4,1072.4 L1116.9,1074.3 L1119.3,1076.2 L1121.8,1078.0 L1124.3,1079.8 L1126.8,1081.6 L1129.2,1083.3 L1131.7,1084.9 L1134.2,1086.6 L1136.6,1088.1 L1139.1,1089.7 L1141.6,1091.2 L1144.1,1092.7 L1146.5,1094.1 L1149.0,1095.6 L1151.5,1096.9 L1153.9,1098.3 L1156.4,1099.6 L1158.9,1100.9 L1161.4,1102.1 L1163.8,1103.3 L1166.3,1104.5 L1168.8,1105.7 L1171.3,1106.9 L1173.7,1108.0 L1176.2,1109.1 L1178.7,1110.2 L1181.1,1111.2 L1183.6,1112.3 L1186.1,1113.3 L1188.6,1114.3 L1191.0,1115.3 L1193.5,1116.2 L1196.0,1117.1 L1198.4,1118.0 L1200.9,1118.9 L1203.4,1119.8 L1205.9,1120.6 L1208.3,1121.4 L1210.8,1122.2 L1213.3,1123.0 L1215.8,1123.8 L1218.2,1124.5 L1220.7,1125.2 L1223.2,1125.9 L1225.6,1126.6 L1228.1,1127.2 L1230.6,1127.9 L1233.1,1128.5 L1235.5,1129.1 L1238.0,1129.7 L1240.5,1130.2 L1243.0,1130.8 L1245.4,1131.3 L1247.9,1131.8 L1250.4,1132.3 L1252.8,1132.8 L1255.3,1133.3 L1257.8,1133.7 L1260.3,1134.1 L1262.7,1134.6 L1265.2,1135.0 L1267.7,1135.4 L1270.1,1135.8 L1272.6,1136.1 L1275.1,1136.5 L1277.6,1136.9 L1280.0,1137.2 L1282.5,1137.5 L1285.0,1137.8 L1287.5,1138.1 L1289.9,1138.4 L1292.4,1138.7 L1294.9,1139.0 L1297.3,1139.3 L1299.8,1139.5 L1302.3,1139.8 L1304.8,1140.0 L1307.2,1140.3 L1309.7,1140.5 L1312.2,1140.7 L1314.6,1140.9 L1317.1,1141.1 L1319.6,1141.3 L1322.1,1141.5 L1324.5,1141.7 L1327.0,1141.9 L1329.5,1142.0 L1332.0,1142.2 L1334.4,1142.4 L1336.9,1142.5 L1339.4,1142.7 L1341.8,1142.8 L1344.3,1143.0 L1346.8,1143.1 L1349.3,1143.2 L1351.7,1143.4 L1354.2,1143.5 L1356.7,1143.6 L1359.1,1143.7 L1361.6,1143.9 L1364.1,1144.0 L1366.6,1144.1 L1369.0,1144.2 L1371.5,1144.3 L1374.0,1144.4 L1376.5,1144.5 L1378.9,1144.5 L1381.4,1144.6 L1383.9,1144.7 L1386.3,1144.8 L1388.8,1144.9 L1391.3,1145.0 L1393.8,1145.0 L1396.2,1145.1 L1398.7,1145.2 L1401.2,1145.2 L1403.7,1145.3 L1406.1,1145.4 L1408.6,1145.4 L1411.1,1145.5 L1413.5,1145.5 L1416.0,1145.6 L1418.5,1145.6 L1421.0,1145.7 L1423.4,1145.7 L1425.9,1145.8 L1428.4,1145.8 L1430.8,1145.9 L1433.3,1145.9 L1435.8,1145.9 L1438.3,1146.0 L1440.7,1146.0 L1443.2,1146.0 L1445.7,1146.1 L1448.2,1146.1 L1450.6,1146.1 L1453.1,1146.2 L1455.6,1146.2 L1458.0,1146.2 L1460.5,1146.2 L1463.0,1146.3 L1465.5,1146.3 L1467.9,1146.3 L1470.4,1146.3 L1472.9,1146.3 L1475.3,1146.3 L1477.8,1146.4 L1480.3,1146.4 L1482.8,1146.4 L1485.2,1146.4 L1487.7,1146.4 L1490.2,1146.4 L1492.7,1146.4 L1495.1,1146.5 L1497.6,1146.5 L1500.1,1146.5 L1502.5,1146.5 L1505.0,1146.5 L1507.5,1146.5 L1510.0,1146.5 L1512.4,1146.5 L1514.9,1146.6 L1517.4,1146.6 L1519.9,1146.6 L1522.3,1146.6 L1524.8,1146.6 L1527.3,1146.6 L1529.7,1146.6 L1532.2,1146.6 L1534.7,1146.6 L1537.2,1146.7 L1539.6,1146.7 L1542.1,1146.7 L1544.6,1146.7 L1547.0,1146.7 L1549.5,1146.7 L1552.0,1146.7 L1554.5,1146.7 L1556.9,1146.7 L1559.4,1146.7 L1561.9,1146.8 L1564.4,1146.8 L1566.8,1146.8 L1569.3,1146.8 L1571.8,1146.8 L1574.2,1146.8 L1576.7,1146.8 L1579.2,1146.8 L1581.7,1146.8 L1584.1,1146.8 L1586.6,1146.8 L1589.1,1146.9 L1591.5,1146.9 L1594.0,1146.9 L1596.5,1146.9 L1599.0,1146.9 L1601.4,1146.9 L1603.9,1146.9 L1606.4,1146.9 L1608.9,1146.9 L1611.3,1146.9 L1613.8,1146.9" stroke="#00ff00" stroke-width="4.6" stroke-dasharray="21.5 33" stroke-linecap="round" stroke-dashoffset="0"/>
<path d="M130.4,1148.0 L132.9,1148.0 L135.3,1148.0 L137.8,1148.0 L140.3,1148.0 L142.8,1147.9 L145.2,1147.9 L147.7,1147.9 L150.2,1147.9 L152.7,1147.9 L155.1,1147.9 L157.6,1147.9 L160.1,1147.9 L162.5,1147.9 L165.0,1147.9 L167.5,1147.9 L170.0,1147.9 L172.4,1147.9 L174.9,1147.9 L177.4,1147.9 L179.8,1147.9 L182.3,1147.9 L184.8,1147.9 L187.3,1147.9 L189.7,1147.9 L192.2,1147.9 L194.7,1147.9 L197.2,1147.9 L199.6,1147.9 L202.1,1147.9 L204.6,1147.9 L207.0,1147.9 L209.5,1147.9 L212.0,1147.9 L214.5,1147.9 L216.9,1147.9 L219.4,1147.8 L221.9,1147.8 L224.3,1147.8 L226.8,1147.8 L229.3,1147.8 L231.8,1147.8 L234.2,1147.8 L236.7,1147.8 L239.2,1147.8 L241.7,1147.8 L244.1,1147.8 L246.6,1147.8 L249.1,1147.8 L251.5,1147.8 L254.0,1147.8 L256.5,1147.8 L259.0,1147.8 L261.4,1147.8 L263.9,1147.8 L266.4,1147.8 L268.9,1147.8 L271.3,1147.8 L273.8,1147.7 L276.3,1147.7 L278.7,1147.7 L281.2,1147.7 L283.7,1147.7 L286.2,1147.7 L288.6,1147.7 L291.1,1147.7 L293.6,1147.7 L296.0,1147.7 L298.5,1147.7 L301.0,1147.7 L303.5,1147.7 L305.9,1147.7 L308.4,1147.7 L310.9,1147.7 L313.4,1147.7 L315.8,1147.6 L318.3,1147.6 L320.8,1147.6 L323.2,1147.6 L325.7,1147.6 L328.2,1147.6 L330.7,1147.6 L333.1,1147.6 L335.6,1147.6 L338.1,1147.6 L340.5,1147.6 L343.0,1147.6 L345.5,1147.6 L348.0,1147.6 L350.4,1147.5 L352.9,1147.5 L355.4,1147.5 L357.9,1147.5 L360.3,1147.5 L362.8,1147.5 L365.3,1147.5 L367.7,1147.5 L370.2,1147.5 L372.7,1147.5 L375.2,1147.5 L377.6,1147.4 L380.1,1147.4 L382.6,1147.4 L385.1,1147.4 L387.5,1147.4 L390.0,1147.4 L392.5,1147.4 L394.9,1147.4 L397.4,1147.4 L399.9,1147.3 L402.4,1147.3 L404.8,1147.3 L407.3,1147.3 L409.8,1147.3 L412.2,1147.3 L414.7,1147.3 L417.2,1147.3 L419.7,1147.2 L422.1,1147.2 L424.6,1147.2 L427.1,1147.2 L429.6,1147.2 L432.0,1147.2 L434.5,1147.1 L437.0,1147.1 L439.4,1147.1 L441.9,1147.1 L444.4,1147.1 L446.9,1147.1 L449.3,1147.0 L451.8,1147.0 L454.3,1147.0 L456.7,1147.0 L459.2,1147.0 L461.7,1147.0 L464.2,1146.9 L466.6,1146.9 L469.1,1146.9 L471.6,1146.9 L474.1,1146.8 L476.5,1146.8 L479.0,1146.8 L481.5,1146.8 L483.9,1146.8 L486.4,1146.7 L488.9,1146.7 L491.4,1146.7 L493.8,1146.7 L496.3,1146.6 L498.8,1146.6 L501.2,1146.6 L503.7,1146.5 L506.2,1146.5 L508.7,1146.5 L511.1,1146.4 L513.6,1146.4 L516.1,1146.4 L518.6,1146.3 L521.0,1146.3 L523.5,1146.3 L526.0,1146.2 L528.4,1146.2 L530.9,1146.2 L533.4,1146.1 L535.9,1146.1 L538.3,1146.0 L540.8,1146.0 L543.3,1146.0 L545.8,1145.9 L548.2,1145.9 L550.7,1145.8 L553.2,1145.8 L555.6,1145.7 L558.1,1145.7 L560.6,1145.6 L563.1,1145.5 L565.5,1145.5 L568.0,1145.4 L570.5,1145.4 L572.9,1145.3 L575.4,1145.2 L577.9,1145.2 L580.4,1145.1 L582.8,1145.0 L585.3,1144.9 L587.8,1144.9 L590.3,1144.8 L592.7,1144.7 L595.2,1144.6 L597.7,1144.5 L600.1,1144.4 L602.6,1144.3 L605.1,1144.2 L607.6,1144.1 L610.0,1144.0 L612.5,1143.9 L615.0,1143.8 L617.4,1143.6 L619.9,1143.5 L622.4,1143.4 L624.9,1143.2 L627.3,1143.1 L629.8,1142.9 L632.3,1142.7 L634.8,1142.5 L637.2,1142.3 L639.7,1142.1 L642.2,1141.9 L644.6,1141.6 L647.1,1141.4 L649.6,1141.1 L652.1,1140.8 L654.5,1140.4 L657.0,1140.0 L659.5,1139.6 L662.0,1139.2 L664.4,1138.7 L666.9,1138.1 L669.4,1137.5 L671.8,1136.8 L674.3,1136.1 L676.8,1135.2 L679.3,1134.3 L681.7,1133.3 L684.2,1132.2 L686.7,1131.0 L689.1,1129.6 L691.6,1128.1 L694.1,1126.5 L696.6,1124.7 L699.0,1122.8 L701.5,1120.7 L704.0,1118.3 L706.5,1115.8 L708.9,1113.1 L711.4,1110.2 L713.9,1107.1 L716.3,1103.7 L718.8,1100.2 L721.3,1096.3 L723.8,1092.3 L726.2,1088.1 L728.7,1083.6 L731.2,1078.9 L733.6,1074.0 L736.1,1068.9 L738.6,1063.6 L741.1,1058.2 L743.5,1052.7 L746.0,1047.0 L748.5,1041.3 L751.0,1035.5 L753.4,1029.7 L755.9,1024.0 L758.4,1018.3 L760.8,1012.8 L763.3,1007.4 L765.8,1002.3 L768.3,997.5 L770.7,993.0 L773.2,989.0 L775.7,985.4 L778.2,982.3 L780.6,979.9 L783.1,978.0 L785.6,976.8 L788.0,976.3 L790.5,976.5 L793.0,977.3 L795.5,978.9 L797.9,981.0 L800.4,983.8 L802.9,987.1 L805.3,990.9 L807.8,995.2 L810.3,999.9 L812.8,1004.8 L815.2,1010.1 L817.7,1015.5 L820.2,1021.1 L822.7,1026.9 L825.1,1032.6 L827.6,1038.4 L830.1,1044.2 L832.5,1049.9 L835.0,1055.5 L837.5,1061.0 L840.0,1066.3 L842.4,1071.5 L844.9,1076.5 L847.4,1081.3 L849.8,1085.8 L852.3,1090.2 L854.8,1094.4 L857.3,1098.3 L859.7,1102.0 L862.2,1105.4 L864.7,1108.7 L867.2,1111.7 L869.6,1114.5 L872.1,1117.1 L874.6,1119.5 L877.0,1121.7 L879.5,1123.8 L882.0,1125.6 L884.5,1127.3 L886.9,1128.9 L889.4,1130.3 L891.9,1131.6 L894.4,1132.8 L896.8,1133.8 L899.3,1134.8 L901.8,1135.7 L904.2,1136.5 L906.7,1137.2 L909.2,1137.8 L911.7,1138.4 L914.1,1138.9 L916.6,1139.4 L919.1,1139.8 L921.5,1140.2 L924.0,1140.6 L926.5,1140.9 L929.0,1141.2 L931.4,1141.5 L933.9,1141.8 L936.4,1142.0 L938.9,1142.2 L941.3,1142.4 L943.8,1142.6 L946.3,1142.8 L948.7,1143.0 L951.2,1143.1 L953.7,1143.3 L956.2,1143.4 L958.6,1143.6 L961.1,1143.7 L963.6,1143.8 L966.0,1143.9 L968.5,1144.1 L971.0,1144.2 L973.5,1144.3 L975.9,1144.4 L978.4,1144.5 L980.9,1144.6 L983.4,1144.6 L985.8,1144.7 L988.3,1144.8 L990.8,1144.9 L993.2,1145.0 L995.7,1145.1 L998.2,1145.1 L1000.7,1145.2 L1003.1,1145.3 L1005.6,1145.3 L1008.1,1145.4 L1010.6,1145.5 L1013.0,1145.5 L1015.5,1145.6 L1018.0,1145.6 L1020.4,1145.7 L1022.9,1145.7 L1025.4,1145.8 L1027.9,1145.8 L1030.3,1145.9 L1032.8,1145.9 L1035.3,1146.0 L1037.7,1146.0 L1040.2,1146.1 L1042.7,1146.1 L1045.2,1146.1 L1047.6,1146.2 L1050.1,1146.2 L1052.6,1146.3 L1055.1,1146.3 L1057.5,1146.3 L1060.0,1146.4 L1062.5,1146.4 L1064.9,1146.4 L1067.4,1146.5 L1069.9,1146.5 L1072.4,1146.5 L1074.8,1146.6 L1077.3,1146.6 L1079.8,1146.6 L1082.2,1146.6 L1084.7,1146.7 L1087.2,1146.7 L1089.7,1146.7 L1092.1,1146.7 L1094.6,1146.8 L1097.1,1146.8 L1099.6,1146.8 L1102.0,1146.8 L1104.5,1146.9 L1107.0,1146.9 L1109.4,1146.9 L1111.9,1146.9 L1114.4,1146.9 L1116.9,1147.0 L1119.3,1147.0 L1121.8,1147.0 L1124.3,1147.0 L1126.8,1147.0 L1129.2,1147.1 L1131.7,1147.1 L1134.2,1147.1 L1136.6,1147.1 L1139.1,1147.1 L1141.6,1147.1 L1144.1,1147.2 L1146.5,1147.2 L1149.0,1147.2 L1151.5,1147.2 L1153.9,1147.2 L1156.4,1147.2 L1158.9,1147.2 L1161.4,1147.3 L1163.8,1147.3 L1166.3,1147.3 L1168.8,1147.3 L1171.3,1147.3 L1173.7,1147.3 L1176.2,1147.3 L1178.7,1147.3 L1181.1,1147.4 L1183.6,1147.4 L1186.1,1147.4 L1188.6,1147.4 L1191.0,1147.4 L1193.5,1147.4 L1196.0,1147.4 L1198.4,1147.4 L1200.9,1147.4 L1203.4,1147.5 L1205.9,1147.5 L1208.3,1147.5 L1210.8,1147.5 L1213.3,1147.5 L1215.8,1147.5 L1218.2,1147.5 L1220.7,1147.5 L1223.2,1147.5 L1225.6,1147.5 L1228.1,1147.5 L1230.6,1147.6 L1233.1,1147.6 L1235.5,1147.6 L1238.0,1147.6 L1240.5,1147.6 L1243.0,1147.6 L1245.4,1147.6 L1247.9,1147.6 L1250.4,1147.6 L1252.8,1147.6 L1255.3,1147.6 L1257.8,1147.6 L1260.3,1147.6 L1262.7,1147.7 L1265.2,1147.7 L1267.7,1147.7 L1270.1,1147.7 L1272.6,1147.7 L1275.1,1147.7 L1277.6,1147.7 L1280.0,1147.7 L1282.5,1147.7 L1285.0,1147.7 L1287.5,1147.7 L1289.9,1147.7 L1292.4,1147.7 L1294.9,1147.7 L1297.3,1147.7 L1299.8,1147.7 L1302.3,1147.7 L1304.8,1147.8 L1307.2,1147.8 L1309.7,1147.8 L1312.2,1147.8 L1314.6,1147.8 L1317.1,1147.8 L1319.6,1147.8 L1322.1,1147.8 L1324.5,1147.8 L1327.0,1147.8 L1329.5,1147.8 L1332.0,1147.8 L1334.4,1147.8 L1336.9,1147.8 L1339.4,1147.8 L1341.8,1147.8 L1344.3,1147.8 L1346.8,1147.8 L1349.3,1147.8 L1351.7,1147.8 L1354.2,1147.8 L1356.7,1147.8 L1359.1,1147.9 L1361.6,1147.9 L1364.1,1147.9 L1366.6,1147.9 L1369.0,1147.9 L1371.5,1147.9 L1374.0,1147.9 L1376.5,1147.9 L1378.9,1147.9 L1381.4,1147.9 L1383.9,1147.9 L1386.3,1147.9 L1388.8,1147.9 L1391.3,1147.9 L1393.8,1147.9 L1396.2,1147.9 L1398.7,1147.9 L1401.2,1147.9 L1403.7,1147.9 L1406.1,1147.9 L1408.6,1147.9 L1411.1,1147.9 L1413.5,1147.9 L1416.0,1147.9 L1418.5,1147.9 L1421.0,1147.9 L1423.4,1147.9 L1425.9,1147.9 L1428.4,1147.9 L1430.8,1147.9 L1433.3,1147.9 L1435.8,1148.0 L1438.3,1148.0 L1440.7,1148.0 L1443.2,1148.0 L1445.7,1148.0 L1448.2,1148.0 L1450.6,1148.0 L1453.1,1148.0 L1455.6,1148.0 L1458.0,1148.0 L1460.5,1148.0 L1463.0,1148.0 L1465.5,1148.0 L1467.9,1148.0 L1470.4,1148.0 L1472.9,1148.0 L1475.3,1148.0 L1477.8,1148.0 L1480.3,1148.0 L1482.8,1148.0 L1485.2,1148.0 L1487.7,1148.0 L1490.2,1148.0 L1492.7,1148.0 L1495.1,1148.0 L1497.6,1148.0 L1500.1,1148.0 L1502.5,1148.0 L1505.0,1148.0 L1507.5,1148.0 L1510.0,1148.0 L1512.4,1148.0 L1514.9,1148.0 L1517.4,1148.0 L1519.9,1148.0 L1522.3,1148.0 L1524.8,1148.0 L1527.3,1148.0 L1529.7,1148.0 L1532.2,1148.0 L1534.7,1148.0 L1537.2,1148.0 L1539.6,1148.0 L1542.1,1148.0 L1544.6,1148.0 L1547.0,1148.0 L1549.5,1148.0 L1552.0,1148.0 L1554.5,1148.1 L1556.9,1148.1 L1559.4,1148.1 L1561.9,1148.1 L1564.4,1148.1 L1566.8,1148.1 L1569.3,1148.1 L1571.8,1148.1 L1574.2,1148.1 L1576.7,1148.1 L1579.2,1148.1 L1581.7,1148.1 L1584.1,1148.1 L1586.6,1148.1 L1589.1,1148.1 L1591.5,1148.1 L1594.0,1148.1 L1596.5,1148.1 L1599.0,1148.1 L1601.4,1148.1 L1603.9,1148.1 L1606.4,1148.1 L1608.9,1148.1 L1611.3,1148.1 L1613.8,1148.1" stroke="#0000ff" stroke-width="4.6" stroke-dasharray="21.5 33" stroke-linecap="round" stroke-dashoffset="27"/>
<path d="M130.4,1146.9 L132.9,1146.9 L135.3,1146.9 L137.8,1146.8 L140.3,1146.8 L142.8,1146.8 L145.2,1146.8 L147.7,1146.8 L150.2,1146.8 L152.7,1146.8 L155.1,1146.8 L157.6,1146.8 L160.1,1146.8 L162.5,1146.8 L165.0,1146.8 L167.5,1146.8 L170.0,1146.7 L172.4,1146.7 L174.9,1146.7 L177.4,1146.7 L179.8,1146.7 L182.3,1146.7 L184.8,1146.7 L187.3,1146.7 L189.7,1146.7 L192.2,1146.7 L194.7,1146.7 L197.2,1146.7 L199.6,1146.6 L202.1,1146.6 L204.6,1146.6 L207.0,1146.6 L209.5,1146.6 L212.0,1146.6 L214.5,1146.6 L216.9,1146.6 L219.4,1146.6 L221.9,1146.6 L224.3,1146.6 L226.8,1146.5 L229.3,1146.5 L231.8,1146.5 L234.2,1146.5 L236.7,1146.5 L239.2,1146.5 L241.7,1146.5 L244.1,1146.5 L246.6,1146.5 L249.1,1146.4 L251.5,1146.4 L254.0,1146.4 L256.5,1146.4 L259.0,1146.4 L261.4,1146.4 L263.9,1146.4 L266.4,1146.4 L268.9,1146.4 L271.3,1146.3 L273.8,1146.3 L276.3,1146.3 L278.7,1146.3 L281.2,1146.3 L283.7,1146.3 L286.2,1146.3 L288.6,1146.3 L291.1,1146.3 L293.6,1146.2 L296.0,1146.2 L298.5,1146.2 L301.0,1146.2 L303.5,1146.2 L305.9,1146.2 L308.4,1146.2 L310.9,1146.1 L313.4,1146.1 L315.8,1146.1 L318.3,1146.1 L320.8,1146.1 L323.2,1146.1 L325.7,1146.1 L328.2,1146.1 L330.7,1146.0 L333.1,1146.0 L335.6,1146.0 L338.1,1146.0 L340.5,1146.0 L343.0,1146.0 L345.5,1145.9 L348.0,1145.9 L350.4,1145.9 L352.9,1145.9 L355.4,1145.9 L357.9,1145.9 L360.3,1145.9 L362.8,1145.8 L365.3,1145.8 L367.7,1145.8 L370.2,1145.8 L372.7,1145.8 L375.2,1145.8 L377.6,1145.7 L380.1,1145.7 L382.6,1145.7 L385.1,1145.7 L387.5,1145.7 L390.0,1145.6 L392.5,1145.6 L394.9,1145.6 L397.4,1145.6 L399.9,1145.6 L402.4,1145.6 L404.8,1145.5 L407.3,1145.5 L409.8,1145.5 L412.2,1145.5 L414.7,1145.5 L417.2,1145.4 L419.7,1145.4 L422.1,1145.4 L424.6,1145.4 L427.1,1145.4 L429.6,1145.3 L432.0,1145.3 L434.5,1145.3 L437.0,1145.3 L439.4,1145.2 L441.9,1145.2 L444.4,1145.2 L446.9,1145.2 L449.3,1145.1 L451.8,1145.1 L454.3,1145.1 L456.7,1145.1 L459.2,1145.1 L461.7,1145.0 L464.2,1145.0 L466.6,1145.0 L469.1,1144.9 L471.6,1144.9 L474.1,1144.9 L476.5,1144.9 L479.0,1144.8 L481.5,1144.8 L483.9,1144.8 L486.4,1144.8 L488.9,1144.7 L491.4,1144.7 L493.8,1144.7 L496.3,1144.6 L498.8,1144.6 L501.2,1144.6 L503.7,1144.6 L506.2,1144.5 L508.7,1144.5 L511.1,1144.5 L513.6,1144.4 L516.1,1144.4 L518.6,1144.4 L521.0,1144.3 L523.5,1144.3 L526.0,1144.3 L528.4,1144.2 L530.9,1144.2 L533.4,1144.2 L535.9,1144.1 L538.3,1144.1 L540.8,1144.0 L543.3,1144.0 L545.8,1144.0 L548.2,1143.9 L550.7,1143.9 L553.2,1143.9 L555.6,1143.8 L558.1,1143.8 L560.6,1143.7 L563.1,1143.7 L565.5,1143.7 L568.0,1143.6 L570.5,1143.6 L572.9,1143.5 L575.4,1143.5 L577.9,1143.4 L580.4,1143.4 L582.8,1143.3 L585.3,1143.3 L587.8,1143.2 L590.3,1143.2 L592.7,1143.1 L595.2,1143.1 L597.7,1143.0 L600.1,1143.0 L602.6,1142.9 L605.1,1142.9 L607.6,1142.8 L610.0,1142.8 L612.5,1142.7 L615.0,1142.7 L617.4,1142.6 L619.9,1142.6 L622.4,1142.5 L624.9,1142.4 L627.3,1142.4 L629.8,1142.3 L632.3,1142.3 L634.8,1142.2 L637.2,1142.1 L639.7,1142.1 L642.2,1142.0 L644.6,1141.9 L647.1,1141.9 L649.6,1141.8 L652.1,1141.7 L654.5,1141.6 L657.0,1141.6 L659.5,1141.5 L662.0,1141.4 L664.4,1141.3 L666.9,1141.3 L669.4,1141.2 L671.8,1141.1 L674.3,1141.0 L676.8,1140.9 L679.3,1140.9 L681.7,1140.8 L684.2,1140.7 L686.7,1140.6 L689.1,1140.5 L691.6,1140.4 L694.1,1140.3 L696.6,1140.2 L699.0,1140.1 L701.5,1140.0 L704.0,1139.9 L706.5,1139.8 L708.9,1139.7 L711.4,1139.6 L713.9,1139.5 L716.3,1139.4 L718.8,1139.3 L721.3,1139.2 L723.8,1139.0 L726.2,1138.9 L728.7,1138.8 L731.2,1138.7 L733.6,1138.5 L736.1,1138.4 L738.6,1138.3 L741.1,1138.1 L743.5,1138.0 L746.0,1137.9 L748.5,1137.7 L751.0,1137.6 L753.4,1137.4 L755.9,1137.3 L758.4,1137.1 L760.8,1137.0 L763.3,1136.8 L765.8,1136.6 L768.3,1136.5 L770.7,1136.3 L773.2,1136.1 L775.7,1135.9 L778.2,1135.8 L780.6,1135.6 L783.1,1135.4 L785.6,1135.2 L788.0,1135.0 L790.5,1134.8 L793.0,1134.5 L795.5,1134.3 L797.9,1134.1 L800.4,1133.9 L802.9,1133.7 L805.3,1133.4 L807.8,1133.2 L810.3,1132.9 L812.8,1132.7 L815.2,1132.4 L817.7,1132.1 L820.2,1131.9 L822.7,1131.6 L825.1,1131.3 L827.6,1131.0 L830.1,1130.7 L832.5,1130.4 L835.0,1130.0 L837.5,1129.7 L840.0,1129.4 L842.4,1129.0 L844.9,1128.7 L847.4,1128.3 L849.8,1127.9 L852.3,1127.5 L854.8,1127.1 L857.3,1126.7 L859.7,1126.2 L862.2,1125.8 L864.7,1125.3 L867.2,1124.8 L869.6,1124.3 L872.1,1123.7 L874.6,1123.2 L877.0,1122.6 L879.5,1122.0 L882.0,1121.4 L884.5,1120.8 L886.9,1120.1 L889.4,1119.5 L891.9,1118.7 L894.4,1118.0 L896.8,1117.2 L899.3,1116.5 L901.8,1115.6 L904.2,1114.8 L906.7,1113.9 L909.2,1113.0 L911.7,1112.0 L914.1,1111.0 L916.6,1110.0 L919.1,1108.9 L921.5,1107.8 L924.0,1106.6 L926.5,1105.4 L929.0,1104.2 L931.4,1102.8 L933.9,1101.5 L936.4,1100.0 L938.9,1098.5 L941.3,1097.0 L943.8,1095.4 L946.3,1093.7 L948.7,1091.9 L951.2,1090.1 L953.7,1088.1 L956.2,1086.1 L958.6,1084.0 L961.1,1081.8 L963.6,1079.4 L966.0,1077.0 L968.5,1074.5 L971.0,1071.8 L973.5,1069.0 L975.9,1066.0 L978.4,1062.9 L980.9,1059.6 L983.4,1056.2 L985.8,1052.6 L988.3,1048.8 L990.8,1044.8 L993.2,1040.5 L995.7,1036.0 L998.2,1031.3 L1000.7,1026.3 L1003.1,1021.0 L1005.6,1015.4 L1008.1,1009.4 L1010.6,1003.1 L1013.0,996.4 L1015.5,989.3 L1018.0,981.7 L1020.4,973.7 L1022.9,965.1 L1025.4,956.0 L1027.9,946.2 L1030.3,935.9 L1032.8,924.8 L1035.3,912.9 L1037.7,900.2 L1040.2,886.6 L1042.7,871.9 L1045.2,856.3 L1047.6,839.5 L1050.1,821.5 L1052.6,802.3 L1055.1,781.7 L1057.5,759.7 L1060.0,736.3 L1062.5,711.3 L1064.9,684.8 L1067.4,656.9 L1069.9,627.5 L1072.4,596.8 L1074.8,565.0 L1077.3,532.2 L1079.8,499.0 L1082.2,465.6 L1084.7,432.8 L1087.2,401.0 L1089.7,371.1 L1092.1,343.9 L1094.6,320.1 L1097.1,300.7 L1099.6,286.2 L1102.0,277.3 L1104.5,274.3 L1107.0,277.6 L1109.4,287.3 L1111.9,302.9 L1114.4,323.9 L1116.9,349.5 L1119.3,378.6 L1121.8,410.4 L1124.3,444.0 L1126.8,478.5 L1129.2,513.3 L1131.7,547.8 L1134.2,581.5 L1136.6,614.1 L1139.1,645.3 L1141.6,675.1 L1144.1,703.2 L1146.5,729.7 L1149.0,754.5 L1151.5,777.8 L1153.9,799.5 L1156.4,819.7 L1158.9,838.6 L1161.4,856.1 L1163.8,872.4 L1166.3,887.6 L1168.8,901.7 L1171.3,914.8 L1173.7,927.1 L1176.2,938.5 L1178.7,949.1 L1181.1,959.0 L1183.6,968.2 L1186.1,976.9 L1188.6,985.0 L1191.0,992.5 L1193.5,999.6 L1196.0,1006.2 L1198.4,1012.5 L1200.9,1018.3 L1203.4,1023.8 L1205.9,1029.0 L1208.3,1033.9 L1210.8,1038.5 L1213.3,1042.8 L1215.8,1046.9 L1218.2,1050.8 L1220.7,1054.5 L1223.2,1057.9 L1225.6,1061.2 L1228.1,1064.3 L1230.6,1067.3 L1233.1,1070.1 L1235.5,1072.8 L1238.0,1075.3 L1240.5,1077.7 L1243.0,1080.0 L1245.4,1082.2 L1247.9,1084.3 L1250.4,1086.3 L1252.8,1088.2 L1255.3,1090.1 L1257.8,1091.8 L1260.3,1093.5 L1262.7,1095.1 L1265.2,1096.6 L1267.7,1098.1 L1270.1,1099.5 L1272.6,1100.8 L1275.1,1102.1 L1277.6,1103.3 L1280.0,1104.5 L1282.5,1105.7 L1285.0,1106.8 L1287.5,1107.9 L1289.9,1108.9 L1292.4,1109.9 L1294.9,1110.8 L1297.3,1111.7 L1299.8,1112.6 L1302.3,1113.5 L1304.8,1114.3 L1307.2,1115.1 L1309.7,1115.8 L1312.2,1116.6 L1314.6,1117.3 L1317.1,1118.0 L1319.6,1118.7 L1322.1,1119.3 L1324.5,1119.9 L1327.0,1120.5 L1329.5,1121.1 L1332.0,1121.7 L1334.4,1122.3 L1336.9,1122.8 L1339.4,1123.4 L1341.8,1123.9 L1344.3,1124.5 L1346.8,1125.0 L1349.3,1125.5 L1351.7,1126.0 L1354.2,1126.5 L1356.7,1126.9 L1359.1,1127.4 L1361.6,1127.9 L1364.1,1128.3 L1366.6,1128.7 L1369.0,1129.2 L1371.5,1129.6 L1374.0,1130.0 L1376.5,1130.4 L1378.9,1130.8 L1381.4,1131.2 L1383.9,1131.6 L1386.3,1132.0 L1388.8,1132.3 L1391.3,1132.7 L1393.8,1133.0 L1396.2,1133.4 L1398.7,1133.7 L1401.2,1134.1 L1403.7,1134.4 L1406.1,1134.7 L1408.6,1135.0 L1411.1,1135.3 L1413.5,1135.6 L1416.0,1135.9 L1418.5,1136.2 L1421.0,1136.5 L1423.4,1136.7 L1425.9,1137.0 L1428.4,1137.3 L1430.8,1137.5 L1433.3,1137.8 L1435.8,1138.0 L1438.3,1138.3 L1440.7,1138.5 L1443.2,1138.7 L1445.7,1139.0 L1448.2,1139.2 L1450.6,1139.4 L1453.1,1139.6 L1455.6,1139.8 L1458.0,1140.0 L1460.5,1140.2 L1463.0,1140.4 L1465.5,1140.6 L1467.9,1140.8 L1470.4,1140.9 L1472.9,1141.1 L1475.3,1141.3 L1477.8,1141.5 L1480.3,1141.6 L1482.8,1141.8 L1485.2,1141.9 L1487.7,1142.1 L1490.2,1142.2 L1492.7,1142.4 L1495.1,1142.5 L1497.6,1142.6 L1500.1,1142.8 L1502.5,1142.9 L1505.0,1143.0 L1507.5,1143.2 L1510.0,1143.3 L1512.4,1143.4 L1514.9,1143.5 L1517.4,1143.6 L1519.9,1143.7 L1522.3,1143.8 L1524.8,1143.9 L1527.3,1144.0 L1529.7,1144.1 L1532.2,1144.2 L1534.7,1144.3 L1537.2,1144.4 L1539.6,1144.5 L1542.1,1144.5 L1544.6,1144.6 L1547.0,1144.7 L1549.5,1144.8 L1552.0,1144.8 L1554.5,1144.9 L1556.9,1145.0 L1559.4,1145.0 L1561.9,1145.1 L1564.4,1145.1 L1566.8,1145.2 L1569.3,1145.2 L1571.8,1145.3 L1574.2,1145.3 L1576.7,1145.4 L1579.2,1145.4 L1581.7,1145.5 L1584.1,1145.5 L1586.6,1145.6 L1589.1,1145.6 L1591.5,1145.6 L1594.0,1145.6 L1596.5,1145.7 L1599.0,1145.7 L1601.4,1145.7 L1603.9,1145.8 L1606.4,1145.8 L1608.9,1145.8 L1611.3,1145.8 L1613.8,1145.9" stroke="#808000" stroke-width="4.6" stroke-dasharray="21.5 33" stroke-linecap="round" stroke-dashoffset="0"/>
<path d="M130.4,1146.9 L132.9,1146.9 L135.3,1146.9 L137.8,1146.8 L140.3,1146.8 L142.8,1146.8 L145.2,1146.8 L147.7,1146.8 L150.2,1146.8 L152.7,1146.8 L155.1,1146.8 L157.6,1146.8 L160.1,1146.8 L162.5,1146.8 L165.0,1146.8 L167.5,1146.8 L170.0,1146.7 L172.4,1146.7 L174.9,1146.7 L177.4,1146.7 L179.8,1146.7 L182.3,1146.7 L184.8,1146.7 L187.3,1146.7 L189.7,1146.7 L192.2,1146.7 L194.7,1146.7 L197.2,1146.7 L199.6,1146.6 L202.1,1146.6 L204.6,1146.6 L207.0,1146.6 L209.5,1146.6 L212.0,1146.6 L214.5,1146.6 L216.9,1146.6 L219.4,1146.6 L221.9,1146.6 L224.3,1146.6 L226.8,1146.5 L229.3,1146.5 L231.8,1146.5 L234.2,1146.5 L236.7,1146.5 L239.2,1146.5 L241.7,1146.5 L244.1,1146.5 L246.6,1146.5 L249.1,1146.4 L251.5,1146.4 L254.0,1146.4 L256.5,1146.4 L259.0,1146.4 L261.4,1146.4 L263.9,1146.4 L266.4,1146.4 L268.9,1146.4 L271.3,1146.3 L273.8,1146.3 L276.3,1146.3 L278.7,1146.3 L281.2,1146.3 L283.7,1146.3 L286.2,1146.3 L288.6,1146.3 L291.1,1146.3 L293.6,1146.2 L296.0,1146.2 L298.5,1146.2 L301.0,1146.2 L303.5,1146.2 L305.9,1146.2 L308.4,1146.2 L310.9,1146.1 L313.4,1146.1 L315.8,1146.1 L318.3,1146.1 L320.8,1146.1 L323.2,1146.1 L325.7,1146.1 L328.2,1146.1 L330.7,1146.0 L333.1,1146.0 L335.6,1146.0 L338.1,1146.0 L340.5,1146.0 L343.0,1146.0 L345.5,1145.9 L348.0,1145.9 L350.4,1145.9 L352.9,1145.9 L355.4,1145.9 L357.9,1145.9 L360.3,1145.9 L362.8,1145.8 L365.3,1145.8 L367.7,1145.8 L370.2,1145.8 L372.7,1145.8 L375.2,1145.8 L377.6,1145.7 L380.1,1145.7 L382.6,1145.7 L385.1,1145.7 L387.5,1145.7 L390.0,1145.6 L392.5,1145.6 L394.9,1145.6 L397.4,1145.6 L399.9,1145.6 L402.4,1145.6 L404.8,1145.5 L407.3,1145.5 L409.8,1145.5 L412.2,1145.5 L414.7,1145.5 L417.2,1145.4 L419.7,1145.4 L422.1,1145.4 L424.6,1145.4 L427.1,1145.4 L429.6,1145.3 L432.0,1145.3 L434.5,1145.3 L437.0,1145.3 L439.4,1145.2 L441.9,1145.2 L444.4,1145.2 L446.9,1145.2 L449.3,1145.1 L451.8,1145.1 L454.3,1145.1 L456.7,1145.1 L459.2,1145.1 L461.7,1145.0 L464.2,1145.0 L466.6,1145.0 L469.1,1144.9 L471.6,1144.9 L474.1,1144.9 L476.5,1144.9 L479.0,1144.8 L481.5,1144.8 L483.9,1144.8 L486.4,1144.8 L488.9,1144.7 L491.4,1144.7 L493.8,1144.7 L496.3,1144.6 L498.8,1144.6 L501.2,1144.6 L503.7,1144.6 L506.2,1144.5 L508.7,1144.5 L511.1,1144.5 L513.6,1144.4 L516.1,1144.4 L518.6,1144.4 L521.0,1144.3 L523.5,1144.3 L526.0,1144.3 L528.4,1144.2 L530.9,1144.2 L533.4,1144.2 L535.9,1144.1 L538.3,1144.1 L540.8,1144.0 L543.3,1144.0 L545.8,1144.0 L548.2,1143.9 L550.7,1143.9 L553.2,1143.9 L555.6,1143.8 L558.1,1143.8 L560.6,1143.7 L563.1,1143.7 L565.5,1143.7 L568.0,1143.6 L570.5,1143.6 L572.9,1143.5 L575.4,1143.5 L577.9,1143.4 L580.4,1143.4 L582.8,1143.3 L585.3,1143.3 L587.8,1143.2 L590.3,1143.2 L592.7,1143.1 L595.2,1143.1 L597.7,1143.0 L600.1,1143.0 L602.6,1142.9 L605.1,1142.9 L607.6,1142.8 L610.0,1142.8 L612.5,1142.7 L615.0,1142.7 L617.4,1142.6 L619.9,1142.6 L622.4,1142.5 L624.9,1142.4 L627.3,1142.4 L629.8,1142.3 L632.3,1142.3 L634.8,1142.2 L637.2,1142.1 L639.7,1142.1 L642.2,1142.0 L644.6,1141.9 L647.1,1141.9 L649.6,1141.8 L652.1,1141.7 L654.5,1141.6 L657.0,1141.6 L659.5,1141.5 L662.0,1141.4 L664.4,1141.3 L666.9,1141.3 L669.4,1141.2 L671.8,1141.1 L674.3,1141.0 L676.8,1140.9 L679.3,1140.9 L681.7,1140.8 L684.2,1140.7 L686.7,1140.6 L689.1,1140.5 L691.6,1140.4 L694.1,1140.3 L696.6,1140.2 L699.0,1140.1" stroke="#808000" stroke-width="4.6" stroke-dasharray="21.5 33" stroke-linecap="round" stroke-dashoffset="-19"/>
</g>
<text x="187.7" y="152.3" font-size="88.6" text-anchor="start" >(a)</text>
<text x="155.7" y="311.0" font-size="88.8" text-anchor="start" >Standard anthracite</text>
<text x="560.0" y="443.4" font-size="89.0" text-anchor="start" >D</text>
<text x="1256.0" y="192.0" font-size="89.5" text-anchor="start" >G</text>
<line x1="633.5" y1="434.9" x2="739.9" y2="480.0" stroke="#000" stroke-width="3.7" stroke-linecap="round"/><polygon points="763.8,490.1 732.9,486.2 739.5,470.6" fill="#000"/>
<line x1="1249.2" y1="170.0" x2="1155.4" y2="185.1" stroke="#000" stroke-width="3.7" stroke-linecap="round"/><polygon points="1129.7,189.2 1158.0,176.0 1160.7,192.8" fill="#000"/>
<clipPath id="clip2"><rect x="136.7" y="1552.9" width="1484.1" height="1089.5"/></clipPath>
<rect x="136.7" y="1552.9" width="1484.1" height="1089.5" fill="none" stroke="#000" stroke-width="4.4" stroke-linejoin="round"/>
<path d="M136.7,2642.4 v23 M260.4,2642.4 v12 M384.0,2642.4 v23 M507.7,2642.4 v12 M631.4,2642.4 v23 M755.1,2642.4 v12 M878.8,2642.4 v23 M1002.4,2642.4 v12 M1126.1,2642.4 v23 M1249.8,2642.4 v12 M1373.5,2642.4 v23 M1497.1,2642.4 v12 M1620.8,2642.4 v23" stroke="#000" stroke-width="4.4" stroke-linecap="round" fill="none"/>
<g clip-path="url(#clip2)" fill="none" stroke-linejoin="round">
<path d="M136.7,2645.1 L137.3,2645.1 L137.9,2645.1 L138.6,2645.1 L139.2,2645.1 L139.8,2645.1 L140.4,2645.1 L141.0,2645.1 L141.6,2645.1 L142.3,2645.1 L142.9,2645.1 L143.5,2645.1 L144.1,2645.1 L144.7,2645.1 L145.4,2645.1 L146.0,2645.1 L146.6,2645.1 L147.2,2645.1 L147.8,2645.1 L148.4,2645.1 L149.1,2645.1 L149.7,2645.1 L150.3,2645.1 L150.9,2645.1 L151.5,2645.1 L152.2,2645.1 L152.8,2645.1 L153.4,2645.1 L154.0,2645.1 L154.6,2645.1 L155.3,2645.1 L155.9,2645.1 L156.5,2645.1 L157.1,2645.1 L157.7,2645.1 L158.3,2645.1 L159.0,2645.1 L159.6,2645.1 L160.2,2645.1 L160.8,2645.1 L161.4,2645.1 L162.1,2645.1 L162.7,2645.1 L163.3,2645.1 L163.9,2645.1 L164.5,2645.1 L165.1,2645.1 L165.8,2645.1 L166.4,2645.1 L167.0,2645.1 L167.6,2645.1 L168.2,2645.1 L168.9,2645.1 L169.5,2645.1 L170.1,2645.1 L170.7,2645.1 L171.3,2645.1 L171.9,2645.1 L172.6,2645.1 L173.2,2645.1 L173.8,2645.1 L174.4,2645.1 L175.0,2645.1 L175.7,2645.1 L176.3,2645.1 L176.9,2645.1 L177.5,2645.1 L178.1,2645.1 L178.7,2645.1 L179.4,2645.1 L180.0,2645.1 L180.6,2645.1 L181.2,2645.1 L181.8,2645.1 L182.5,2645.1 L183.1,2645.1 L183.7,2645.1 L184.3,2645.1 L184.9,2645.1 L185.6,2645.1 L186.2,2645.1 L186.8,2645.1 L187.4,2645.1 L188.0,2645.1 L188.6,2645.1 L189.3,2645.1 L189.9,2645.1 L190.5,2645.1 L191.1,2645.1 L191.7,2645.0 L192.4,2645.0 L193.0,2645.0 L193.6,2645.0 L194.2,2645.0 L194.8,2645.0 L195.4,2645.0 L196.1,2645.0 L196.7,2645.0 L197.3,2645.0 L197.9,2645.0 L198.5,2645.0 L199.2,2645.0 L199.8,2645.0 L200.4,2645.0 L201.0,2645.0 L201.6,2645.0 L202.2,2645.0 L202.9,2645.0 L203.5,2645.0 L204.1,2645.0 L204.7,2645.0 L205.3,2645.0 L206.0,2645.0 L206.6,2645.0 L207.2,2645.0 L207.8,2645.0 L208.4,2645.0 L209.0,2645.0 L209.7,2645.0 L210.3,2645.0 L210.9,2645.0 L211.5,2645.0 L212.1,2645.0 L212.8,2645.0 L213.4,2645.0 L214.0,2645.0 L214.6,2645.0 L215.2,2645.0 L215.9,2645.0 L216.5,2645.0 L217.1,2645.0 L217.7,2645.0 L218.3,2645.0 L218.9,2645.0 L219.6,2645.0 L220.2,2645.0 L220.8,2645.0 L221.4,2645.0 L222.0,2645.0 L222.7,2645.0 L223.3,2645.0 L223.9,2645.0 L224.5,2645.0 L225.1,2645.0 L225.7,2645.0 L226.4,2645.0 L227.0,2645.0 L227.6,2645.0 L228.2,2645.0 L228.8,2645.0 L229.5,2645.0 L230.1,2645.0 L230.7,2645.0 L231.3,2645.0 L231.9,2645.0 L232.5,2645.0 L233.2,2645.0 L233.8,2645.0 L234.4,2645.0 L235.0,2645.0 L235.6,2645.0 L236.3,2645.0 L236.9,2645.0 L237.5,2645.0 L238.1,2645.0 L238.7,2645.0 L239.4,2645.0 L240.0,2645.0 L240.6,2645.0 L241.2,2645.0 L241.8,2645.0 L242.4,2645.0 L243.1,2645.0 L243.7,2645.0 L244.3,2645.0 L244.9,2645.0 L245.5,2645.0 L246.2,2645.0 L246.8,2645.0 L247.4,2645.0 L248.0,2645.0 L248.6,2645.0 L249.2,2645.0 L249.9,2645.0 L250.5,2645.0 L251.1,2645.0 L251.7,2645.0 L252.3,2645.0 L253.0,2645.0 L253.6,2645.0 L254.2,2645.0 L254.8,2645.0 L255.4,2645.0 L256.0,2645.0 L256.7,2645.0 L257.3,2645.0 L257.9,2644.9 L258.5,2644.9 L259.1,2644.9 L259.8,2644.9 L260.4,2644.9 L261.0,2644.9 L261.6,2644.9 L262.2,2644.9 L262.8,2644.9 L263.5,2644.9 L264.1,2644.9 L264.7,2644.9 L265.3,2644.9 L265.9,2644.9 L266.6,2644.9 L267.2,2644.9 L267.8,2644.9 L268.4,2644.9 L269.0,2644.9 L269.7,2644.9 L270.3,2644.9 L270.9,2644.9 L271.5,2644.9 L272.1,2644.9 L272.7,2644.9 L273.4,2644.9 L274.0,2644.9 L274.6,2644.9 L275.2,2644.9 L275.8,2644.9 L276.5,2644.9 L277.1,2644.9 L277.7,2644.9 L278.3,2644.9 L278.9,2644.9 L279.5,2644.9 L280.2,2644.9 L280.8,2644.9 L281.4,2644.9 L282.0,2644.9 L282.6,2644.9 L283.3,2644.9 L283.9,2644.9 L284.5,2644.9 L285.1,2644.9 L285.7,2644.9 L286.3,2644.9 L287.0,2644.9 L287.6,2644.9 L288.2,2644.9 L288.8,2644.9 L289.4,2644.9 L290.1,2644.9 L290.7,2644.9 L291.3,2644.9 L291.9,2644.9 L292.5,2644.9 L293.1,2644.9 L293.8,2644.9 L294.4,2644.9 L295.0,2644.9 L295.6,2644.9 L296.2,2644.9 L296.9,2644.9 L297.5,2644.9 L298.1,2644.9 L298.7,2644.9 L299.3,2644.9 L300.0,2644.9 L300.6,2644.9 L301.2,2644.9 L301.8,2644.9 L302.4,2644.9 L303.0,2644.9 L303.7,2644.9 L304.3,2644.9 L304.9,2644.9 L305.5,2644.9 L306.1,2644.9 L306.8,2644.9 L307.4,2644.8 L308.0,2644.8 L308.6,2644.8 L309.2,2644.8 L309.8,2644.8 L310.5,2644.8 L311.1,2644.8 L311.7,2644.8 L312.3,2644.8 L312.9,2644.8 L313.6,2644.8 L314.2,2644.8 L314.8,2644.8 L315.4,2644.8 L316.0,2644.8 L316.6,2644.8 L317.3,2644.8 L317.9,2644.8 L318.5,2644.8 L319.1,2644.8 L319.7,2644.8 L320.4,2644.8 L321.0,2644.8 L321.6,2644.8 L322.2,2644.8 L322.8,2644.8 L323.4,2644.8 L324.1,2644.8 L324.7,2644.8 L325.3,2644.8 L325.9,2644.8 L326.5,2644.8 L327.2,2644.8 L327.8,2644.8 L328.4,2644.8 L329.0,2644.8 L329.6,2644.8 L330.3,2644.8 L330.9,2644.8 L331.5,2644.8 L332.1,2644.8 L332.7,2644.8 L333.3,2644.8 L334.0,2644.8 L334.6,2644.8 L335.2,2644.8 L335.8,2644.8 L336.4,2644.8 L337.1,2644.8 L337.7,2644.8 L338.3,2644.8 L338.9,2644.8 L339.5,2644.8 L340.1,2644.8 L340.8,2644.8 L341.4,2644.8 L342.0,2644.8 L342.6,2644.8 L343.2,2644.8 L343.9,2644.8 L344.5,2644.8 L345.1,2644.8 L345.7,2644.8 L346.3,2644.7 L346.9,2644.7 L347.6,2644.7 L348.2,2644.7 L348.8,2644.7 L349.4,2644.7 L350.0,2644.7 L350.7,2644.7 L351.3,2644.7 L351.9,2644.7 L352.5,2644.7 L353.1,2644.7 L353.7,2644.7 L354.4,2644.7 L355.0,2644.7 L355.6,2644.7 L356.2,2644.7 L356.8,2644.7 L357.5,2644.7 L358.1,2644.7 L358.7,2644.7 L359.3,2644.7 L359.9,2644.7 L360.6,2644.7 L361.2,2644.7 L361.8,2644.7 L362.4,2644.7 L363.0,2644.7 L363.6,2644.7 L364.3,2644.7 L364.9,2644.7 L365.5,2644.7 L366.1,2644.7 L366.7,2644.7 L367.4,2644.7 L368.0,2644.7 L368.6,2644.7 L369.2,2644.7 L369.8,2644.7 L370.4,2644.7 L371.1,2644.7 L371.7,2644.7 L372.3,2644.7 L372.9,2644.7 L373.5,2644.7 L374.2,2644.7 L374.8,2644.7 L375.4,2644.7 L376.0,2644.7 L376.6,2644.7 L377.2,2644.7 L377.9,2644.7 L378.5,2644.6 L379.1,2644.6 L379.7,2644.6 L380.3,2644.6 L381.0,2644.6 L381.6,2644.6 L382.2,2644.6 L382.8,2644.6 L383.4,2644.6 L384.0,2644.6 L384.7,2644.6 L385.3,2644.6 L385.9,2644.6 L386.5,2644.6 L387.1,2644.6 L387.8,2644.6 L388.4,2644.6 L389.0,2644.6 L389.6,2644.6 L390.2,2644.6 L390.9,2644.6 L391.5,2644.6 L392.1,2644.6 L392.7,2644.6 L393.3,2644.6 L393.9,2644.6 L394.6,2644.6 L395.2,2644.6 L395.8,2644.6 L396.4,2644.6 L397.0,2644.6 L397.7,2644.6 L398.3,2644.6 L398.9,2644.6 L399.5,2644.6 L400.1,2644.6 L400.7,2644.6 L401.4,2644.6 L402.0,2644.6 L402.6,2644.6 L403.2,2644.6 L403.8,2644.6 L404.5,2644.5 L405.1,2644.5 L405.7,2644.5 L406.3,2644.5 L406.9,2644.5 L407.5,2644.5 L408.2,2644.5 L408.8,2644.5 L409.4,2644.5 L410.0,2644.5 L410.6,2644.5 L411.3,2644.5 L411.9,2644.5 L412.5,2644.5 L413.1,2644.5 L413.7,2644.5 L414.4,2644.5 L415.0,2644.5 L415.6,2644.5 L416.2,2644.5 L416.8,2644.5 L417.4,2644.5 L418.1,2644.5 L418.7,2644.5 L419.3,2644.5 L419.9,2644.5 L420.5,2644.5 L421.2,2644.5 L421.8,2644.5 L422.4,2644.5 L423.0,2644.5 L423.6,2644.5 L424.2,2644.5 L424.9,2644.5 L425.5,2644.5 L426.1,2644.5 L426.7,2644.5 L427.3,2644.4 L428.0,2644.4 L428.6,2644.4 L429.2,2644.4 L429.8,2644.4 L430.4,2644.4 L431.0,2644.4 L431.7,2644.4 L432.3,2644.4 L432.9,2644.4 L433.5,2644.4 L434.1,2644.4 L434.8,2644.4 L435.4,2644.4 L436.0,2644.4 L436.6,2644.4 L437.2,2644.4 L437.8,2644.4 L438.5,2644.4 L439.1,2644.4 L439.7,2644.4 L440.3,2644.4 L440.9,2644.4 L441.6,2644.4 L442.2,2644.4 L442.8,2644.4 L443.4,2644.4 L444.0,2644.4 L444.7,2644.4 L445.3,2644.4 L445.9,2644.4 L446.5,2644.3 L447.1,2644.3 L447.7,2644.3 L448.4,2644.3 L449.0,2644.3 L449.6,2644.3 L450.2,2644.3 L450.8,2644.3 L451.5,2644.3 L452.1,2644.3 L452.7,2644.3 L453.3,2644.3 L453.9,2644.3 L454.5,2644.3 L455.2,2644.3 L455.8,2644.3 L456.4,2644.3 L457.0,2644.3 L457.6,2644.3 L458.3,2644.3 L458.9,2644.3 L459.5,2644.3 L460.1,2644.3 L460.7,2644.3 L461.3,2644.3 L462.0,2644.3 L462.6,2644.3 L463.2,2644.2 L463.8,2644.2 L464.4,2644.2 L465.1,2644.2 L465.7,2644.2 L466.3,2644.2 L466.9,2644.2 L467.5,2644.2 L468.1,2644.2 L468.8,2644.2 L469.4,2644.2 L470.0,2644.2 L470.6,2644.2 L471.2,2644.2 L471.9,2644.2 L472.5,2644.2 L473.1,2644.2 L473.7,2644.2 L474.3,2644.2 L475.0,2644.2 L475.6,2644.2 L476.2,2644.2 L476.8,2644.2 L477.4,2644.2 L478.0,2644.1 L478.7,2644.1 L479.3,2644.1 L479.9,2644.1 L480.5,2644.1 L481.1,2644.1 L481.8,2644.1 L482.4,2644.1 L483.0,2644.1 L483.6,2644.1 L484.2,2644.1 L484.8,2644.1 L485.5,2644.1 L486.1,2644.1 L486.7,2644.1 L487.3,2644.1 L487.9,2644.1 L488.6,2644.1 L489.2,2644.1 L489.8,2644.1 L490.4,2644.1 L491.0,2644.1 L491.6,2644.0 L492.3,2644.0 L492.9,2644.0 L493.5,2644.0 L494.1,2644.0 L494.7,2644.0 L495.4,2644.0 L496.0,2644.0 L496.6,2644.0 L497.2,2644.0 L497.8,2644.0 L498.4,2644.0 L499.1,2644.0 L499.7,2644.0 L500.3,2644.0 L500.9,2644.0 L501.5,2644.0 L502.2,2644.0 L502.8,2644.0 L503.4,2643.9 L504.0,2643.9 L504.6,2643.9 L505.3,2643.9 L505.9,2643.9 L506.5,2643.9 L507.1,2643.9 L507.7,2643.9 L508.3,2643.9 L509.0,2643.9 L509.6,2643.9 L510.2,2643.9 L510.8,2643.9 L511.4,2643.9 L512.1,2643.9 L512.7,2643.9 L513.3,2643.9 L513.9,2643.8 L514.5,2643.8 L515.1,2643.8 L515.8,2643.8 L516.4,2643.8 L517.0,2643.8 L517.6,2643.8 L518.2,2643.8 L518.9,2643.8 L519.5,2643.8 L520.1,2643.8 L520.7,2643.8 L521.3,2643.8 L521.9,2643.8 L522.6,2643.8 L523.2,2643.8 L523.8,2643.7 L524.4,2643.7 L525.0,2643.7 L525.7,2643.7 L526.3,2643.7 L526.9,2643.7 L527.5,2643.7 L528.1,2643.7 L528.7,2643.7 L529.4,2643.7 L530.0,2643.7 L530.6,2643.7 L531.2,2643.7 L531.8,2643.7 L532.5,2643.6 L533.1,2643.6 L533.7,2643.6 L534.3,2643.6 L534.9,2643.6 L535.6,2643.6 L536.2,2643.6 L536.8,2643.6 L537.4,2643.6 L538.0,2643.6 L538.6,2643.6 L539.3,2643.6 L539.9,2643.6 L540.5,2643.6 L541.1,2643.5 L541.7,2643.5 L542.4,2643.5 L543.0,2643.5 L543.6,2643.5 L544.2,2643.5 L544.8,2643.5 L545.4,2643.5 L546.1,2643.5 L546.7,2643.5 L547.3,2643.5 L547.9,2643.5 L548.5,2643.4 L549.2,2643.4 L549.8,2643.4 L550.4,2643.4 L551.0,2643.4 L551.6,2643.4 L552.2,2643.4 L552.9,2643.4 L553.5,2643.4 L554.1,2643.4 L554.7,2643.4 L555.3,2643.3 L556.0,2643.3 L556.6,2643.3 L557.2,2643.3 L557.8,2643.3 L558.4,2643.3 L559.1,2643.3 L559.7,2643.3 L560.3,2643.3 L560.9,2643.3 L561.5,2643.3 L562.1,2643.2 L562.8,2643.2 L563.4,2643.2 L564.0,2643.2 L564.6,2643.2 L565.2,2643.2 L565.9,2643.2 L566.5,2643.2 L567.1,2643.2 L567.7,2643.1 L568.3,2643.1 L568.9,2643.1 L569.6,2643.1 L570.2,2643.1 L570.8,2643.1 L571.4,2643.1 L572.0,2643.1 L572.7,2643.1 L573.3,2643.1 L573.9,2643.0 L574.5,2643.0 L575.1,2643.0 L575.7,2643.0 L576.4,2643.0 L577.0,2643.0 L577.6,2643.0 L578.2,2643.0 L578.8,2642.9 L579.5,2642.9 L580.1,2642.9 L580.7,2642.9 L581.3,2642.9 L581.9,2642.9 L582.5,2642.9 L583.2,2642.9 L583.8,2642.8 L584.4,2642.8 L585.0,2642.8 L585.6,2642.8 L586.3,2642.8 L586.9,2642.8 L587.5,2642.8 L588.1,2642.8 L588.7,2642.7 L589.4,2642.7 L590.0,2642.7 L590.6,2642.7 L591.2,2642.7 L591.8,2642.7 L592.4,2642.7 L593.1,2642.6 L593.7,2642.6 L594.3,2642.6 L594.9,2642.6 L595.5,2642.6 L596.2,2642.6 L596.8,2642.6 L597.4,2642.5 L598.0,2642.5 L598.6,2642.5 L599.2,2642.5 L599.9,2642.5 L600.5,2642.5 L601.1,2642.4 L601.7,2642.4 L602.3,2642.4 L603.0,2642.4 L603.6,2642.4 L604.2,2642.4 L604.8,2642.3 L605.4,2642.3 L606.0,2642.3 L606.7,2642.3 L607.3,2642.3 L607.9,2642.3 L608.5,2642.2 L609.1,2642.2 L609.8,2642.2 L610.4,2642.2 L611.0,2642.2 L611.6,2642.2 L612.2,2642.1 L612.8,2642.1 L613.5,2642.1 L614.1,2642.1 L614.7,2642.1 L615.3,2642.0 L615.9,2642.0 L616.6,2642.0 L617.2,2642.0 L617.8,2642.0 L618.4,2641.9 L619.0,2641.9 L619.7,2641.9 L620.3,2641.9 L620.9,2641.9 L621.5,2641.8 L622.1,2641.8 L622.7,2641.8 L623.4,2641.8 L624.0,2641.8 L624.6,2641.7 L625.2,2641.7 L625.8,2641.7 L626.5,2641.7 L627.1,2641.6 L627.7,2641.6 L628.3,2641.6 L628.9,2641.6 L629.5,2641.5 L630.2,2641.5 L630.8,2641.5 L631.4,2641.5 L632.0,2641.5 L632.6,2641.4 L633.3,2641.4 L633.9,2641.4 L634.5,2641.4 L635.1,2641.3 L635.7,2641.3 L636.3,2641.3 L637.0,2641.2 L637.6,2641.2 L638.2,2641.2 L638.8,2641.2 L639.4,2641.1 L640.1,2641.1 L640.7,2641.1 L641.3,2641.1 L641.9,2641.0 L642.5,2641.0 L643.1,2641.0 L643.8,2640.9 L644.4,2640.9 L645.0,2640.9 L645.6,2640.8 L646.2,2640.8 L646.9,2640.8 L647.5,2640.7 L648.1,2640.7 L648.7,2640.7 L649.3,2640.7 L650.0,2640.6 L650.6,2640.6 L651.2,2640.6 L651.8,2640.5 L652.4,2640.5 L653.0,2640.4 L653.7,2640.4 L654.3,2640.4 L654.9,2640.3 L655.5,2640.3 L656.1,2640.3 L656.8,2640.2 L657.4,2640.2 L658.0,2640.2 L658.6,2640.1 L659.2,2640.1 L659.8,2640.0 L660.5,2640.0 L661.1,2640.0 L661.7,2639.9 L662.3,2639.9 L662.9,2639.8 L663.6,2639.8 L664.2,2639.8 L664.8,2639.7 L665.4,2639.7 L666.0,2639.6 L666.6,2639.6 L667.3,2639.5 L667.9,2639.5 L668.5,2639.4 L669.1,2639.4 L669.7,2639.3 L670.4,2639.3 L671.0,2639.2 L671.6,2639.2 L672.2,2639.1 L672.8,2639.1 L673.4,2639.0 L674.1,2639.0 L674.7,2638.9 L675.3,2638.9 L675.9,2638.8 L676.5,2638.8 L677.2,2638.7 L677.8,2638.7 L678.4,2638.6 L679.0,2638.6 L679.6,2638.5 L680.3,2638.4 L680.9,2638.4 L681.5,2638.3 L682.1,2638.3 L682.7,2638.2 L683.3,2638.1 L684.0,2638.1 L684.6,2638.0 L685.2,2637.9 L685.8,2637.9 L686.4,2637.8 L687.1,2637.7 L687.7,2637.7 L688.3,2637.6 L688.9,2637.5 L689.5,2637.5 L690.1,2637.4 L690.8,2637.3 L691.4,2637.2 L692.0,2637.2 L692.6,2637.1 L693.2,2637.0 L693.9,2636.9 L694.5,2636.9 L695.1,2636.8 L695.7,2636.7 L696.3,2636.6 L696.9,2636.5 L697.6,2636.4 L698.2,2636.3 L698.8,2636.3 L699.4,2636.2 L700.0,2636.1 L700.7,2636.0 L701.3,2635.9 L701.9,2635.8 L702.5,2635.7 L703.1,2635.6 L703.7,2635.5 L704.4,2635.4 L705.0,2635.3 L705.6,2635.2 L706.2,2635.1 L706.8,2635.0 L707.5,2634.9 L708.1,2634.8 L708.7,2634.6 L709.3,2634.5 L709.9,2634.4 L710.6,2634.3 L711.2,2634.2 L711.8,2634.0 L712.4,2633.9 L713.0,2633.8 L713.6,2633.7 L714.3,2633.5 L714.9,2633.4 L715.5,2633.3 L716.1,2633.1 L716.7,2633.0 L717.4,2632.8 L718.0,2632.7 L718.6,2632.6 L719.2,2632.4 L719.8,2632.2 L720.4,2632.1 L721.1,2631.9 L721.7,2631.8 L722.3,2631.6 L722.9,2631.4 L723.5,2631.3 L724.2,2631.1 L724.8,2630.9 L725.4,2630.7 L726.0,2630.6 L726.6,2630.4 L727.2,2630.2 L727.9,2630.0 L728.5,2629.8 L729.1,2629.6 L729.7,2629.4 L730.3,2629.2 L731.0,2628.9 L731.6,2628.7 L732.2,2628.5 L732.8,2628.3 L733.4,2628.0 L734.1,2627.8 L734.7,2627.6 L735.3,2627.3 L735.9,2627.1 L736.5,2626.8 L737.1,2626.6 L737.8,2626.3 L738.4,2626.0 L739.0,2625.7 L739.6,2625.5 L740.2,2625.2 L740.9,2624.9 L741.5,2624.6 L742.1,2624.3 L742.7,2623.9 L743.3,2623.6 L743.9,2623.3 L744.6,2622.9 L745.2,2622.6 L745.8,2622.2 L746.4,2621.9 L747.0,2621.5 L747.7,2621.1 L748.3,2620.7 L748.9,2620.3 L749.5,2619.9 L750.1,2619.5 L750.7,2619.1 L751.4,2618.7 L752.0,2618.2 L752.6,2617.8 L753.2,2617.3 L753.8,2616.8 L754.5,2616.3 L755.1,2615.8 L755.7,2615.3 L756.3,2614.8 L756.9,2614.2 L757.5,2613.7 L758.2,2613.1 L758.8,2612.5 L759.4,2611.9 L760.0,2611.3 L760.6,2610.7 L761.3,2610.0 L761.9,2609.4 L762.5,2608.7 L763.1,2608.0 L763.7,2607.3 L764.4,2606.5 L765.0,2605.8 L765.6,2605.0 L766.2,2604.2 L766.8,2603.4 L767.4,2602.5 L768.1,2601.6 L768.7,2600.8 L769.3,2599.8 L769.9,2598.9 L770.5,2597.9 L771.2,2596.9 L771.8,2595.9 L772.4,2594.8 L773.0,2593.8 L773.6,2592.6 L774.2,2591.5 L774.9,2590.3 L775.5,2589.1 L776.1,2587.9 L776.7,2586.6 L777.3,2585.3 L778.0,2583.9 L778.6,2582.5 L779.2,2581.1 L779.8,2579.6 L780.4,2578.1 L781.0,2576.5 L781.7,2574.9 L782.3,2573.3 L782.9,2571.6 L783.5,2569.8 L784.1,2568.0 L784.8,2566.2 L785.4,2564.3 L786.0,2562.4 L786.6,2560.4 L787.2,2558.4 L787.8,2556.3 L788.5,2554.1 L789.1,2552.0 L789.7,2549.7 L790.3,2547.4 L790.9,2545.1 L791.6,2542.7 L792.2,2540.3 L792.8,2537.8 L793.4,2535.3 L794.0,2532.7 L794.7,2530.1 L795.3,2527.5 L795.9,2524.8 L796.5,2522.2 L797.1,2519.4 L797.7,2516.7 L798.4,2514.0 L799.0,2511.2 L799.6,2508.5 L800.2,2505.7 L800.8,2503.0 L801.5,2500.3 L802.1,2497.7 L802.7,2495.1 L803.3,2492.5 L803.9,2490.0 L804.5,2487.6 L805.2,2485.2 L805.8,2483.0 L806.4,2480.9 L807.0,2478.9 L807.6,2477.0 L808.3,2475.3 L808.9,2473.7 L809.5,2472.2 L810.1,2471.0 L810.7,2469.9 L811.3,2469.0 L812.0,2468.3 L812.6,2467.8 L813.2,2467.5 L813.8,2467.4 L814.4,2467.5 L815.1,2467.8 L815.7,2468.3 L816.3,2469.0 L816.9,2469.8 L817.5,2470.9 L818.1,2472.2 L818.8,2473.6 L819.4,2475.1 L820.0,2476.9 L820.6,2478.7 L821.2,2480.7 L821.9,2482.8 L822.5,2485.1 L823.1,2487.4 L823.7,2489.8 L824.3,2492.3 L825.0,2494.8 L825.6,2497.4 L826.2,2500.1 L826.8,2502.8 L827.4,2505.5 L828.0,2508.2 L828.7,2510.9 L829.3,2513.7 L829.9,2516.4 L830.5,2519.1 L831.1,2521.8 L831.8,2524.5 L832.4,2527.1 L833.0,2529.7 L833.6,2532.3 L834.2,2534.9 L834.8,2537.4 L835.5,2539.8 L836.1,2542.3 L836.7,2544.6 L837.3,2546.9 L837.9,2549.2 L838.6,2551.4 L839.2,2553.6 L839.8,2555.7 L840.4,2557.8 L841.0,2559.8 L841.6,2561.8 L842.3,2563.7 L842.9,2565.6 L843.5,2567.4 L844.1,2569.2 L844.7,2570.9 L845.4,2572.6 L846.0,2574.2 L846.6,2575.8 L847.2,2577.4 L847.8,2578.9 L848.4,2580.3 L849.1,2581.8 L849.7,2583.1 L850.3,2584.5 L850.9,2585.8 L851.5,2587.1 L852.2,2588.3 L852.8,2589.5 L853.4,2590.7 L854.0,2591.8 L854.6,2592.9 L855.3,2594.0 L855.9,2595.0 L856.5,2596.0 L857.1,2597.0 L857.7,2598.0 L858.3,2598.9 L859.0,2599.8 L859.6,2600.7 L860.2,2601.5 L860.8,2602.4 L861.4,2603.2 L862.1,2604.0 L862.7,2604.7 L863.3,2605.5 L863.9,2606.2 L864.5,2606.9 L865.1,2607.6 L865.8,2608.2 L866.4,2608.9 L867.0,2609.5 L867.6,2610.1 L868.2,2610.7 L868.9,2611.3 L869.5,2611.9 L870.1,2612.4 L870.7,2613.0 L871.3,2613.5 L871.9,2614.0 L872.6,2614.5 L873.2,2615.0 L873.8,2615.5 L874.4,2616.0 L875.0,2616.4 L875.7,2616.8 L876.3,2617.3 L876.9,2617.7 L877.5,2618.1 L878.1,2618.5 L878.8,2618.9 L879.4,2619.3 L880.0,2619.6 L880.6,2620.0 L881.2,2620.4 L881.8,2620.7 L882.5,2621.0 L883.1,2621.4 L883.7,2621.7 L884.3,2622.0 L884.9,2622.3 L885.6,2622.6 L886.2,2622.9 L886.8,2623.2 L887.4,2623.5 L888.0,2623.7 L888.6,2624.0 L889.3,2624.3 L889.9,2624.5 L890.5,2624.8 L891.1,2625.0 L891.7,2625.2 L892.4,2625.5 L893.0,2625.7 L893.6,2625.9 L894.2,2626.1 L894.8,2626.4 L895.4,2626.6 L896.1,2626.8 L896.7,2627.0 L897.3,2627.2 L897.9,2627.3 L898.5,2627.5 L899.2,2627.7 L899.8,2627.9 L900.4,2628.1 L901.0,2628.2 L901.6,2628.4 L902.2,2628.6 L902.9,2628.7 L903.5,2628.9 L904.1,2629.0 L904.7,2629.2 L905.3,2629.3 L906.0,2629.5 L906.6,2629.6 L907.2,2629.7 L907.8,2629.9 L908.4,2630.0 L909.1,2630.1 L909.7,2630.3 L910.3,2630.4 L910.9,2630.5 L911.5,2630.6 L912.1,2630.7 L912.8,2630.8 L913.4,2630.9 L914.0,2631.1 L914.6,2631.2 L915.2,2631.3 L915.9,2631.4 L916.5,2631.5 L917.1,2631.6 L917.7,2631.6 L918.3,2631.7 L918.9,2631.8 L919.6,2631.9 L920.2,2632.0 L920.8,2632.1 L921.4,2632.2 L922.0,2632.2 L922.7,2632.3 L923.3,2632.4 L923.9,2632.5 L924.5,2632.5 L925.1,2632.6 L925.7,2632.7 L926.4,2632.7 L927.0,2632.8 L927.6,2632.9 L928.2,2632.9 L928.8,2633.0 L929.5,2633.0 L930.1,2633.1 L930.7,2633.1 L931.3,2633.2 L931.9,2633.3 L932.5,2633.3 L933.2,2633.4 L933.8,2633.4 L934.4,2633.4 L935.0,2633.5 L935.6,2633.5 L936.3,2633.6 L936.9,2633.6 L937.5,2633.6 L938.1,2633.7 L938.7,2633.7 L939.4,2633.8 L940.0,2633.8 L940.6,2633.8 L941.2,2633.8 L941.8,2633.9 L942.4,2633.9 L943.1,2633.9 L943.7,2634.0 L944.3,2634.0 L944.9,2634.0 L945.5,2634.0 L946.2,2634.0 L946.8,2634.1 L947.4,2634.1 L948.0,2634.1 L948.6,2634.1 L949.2,2634.1 L949.9,2634.1 L950.5,2634.1 L951.1,2634.2 L951.7,2634.2 L952.3,2634.2 L953.0,2634.2 L953.6,2634.2 L954.2,2634.2 L954.8,2634.2 L955.4,2634.2 L956.0,2634.2 L956.7,2634.2 L957.3,2634.2 L957.9,2634.2 L958.5,2634.2 L959.1,2634.2 L959.8,2634.2 L960.4,2634.2 L961.0,2634.2 L961.6,2634.1 L962.2,2634.1 L962.8,2634.1 L963.5,2634.1 L964.1,2634.1 L964.7,2634.1 L965.3,2634.1 L965.9,2634.0 L966.6,2634.0 L967.2,2634.0 L967.8,2634.0 L968.4,2633.9 L969.0,2633.9 L969.7,2633.9 L970.3,2633.9 L970.9,2633.8 L971.5,2633.8 L972.1,2633.8 L972.7,2633.7 L973.4,2633.7 L974.0,2633.7 L974.6,2633.6 L975.2,2633.6 L975.8,2633.5 L976.5,2633.5 L977.1,2633.5 L977.7,2633.4 L978.3,2633.4 L978.9,2633.3 L979.5,2633.3 L980.2,2633.2 L980.8,2633.2 L981.4,2633.1 L982.0,2633.1 L982.6,2633.0 L983.3,2632.9 L983.9,2632.9 L984.5,2632.8 L985.1,2632.7 L985.7,2632.7 L986.3,2632.6 L987.0,2632.5 L987.6,2632.5 L988.2,2632.4 L988.8,2632.3 L989.4,2632.2 L990.1,2632.2 L990.7,2632.1 L991.3,2632.0 L991.9,2631.9 L992.5,2631.8 L993.1,2631.7 L993.8,2631.6 L994.4,2631.6 L995.0,2631.5 L995.6,2631.4 L996.2,2631.3 L996.9,2631.2 L997.5,2631.0 L998.1,2630.9 L998.7,2630.8 L999.3,2630.7 L1000.0,2630.6 L1000.6,2630.5 L1001.2,2630.4 L1001.8,2630.2 L1002.4,2630.1 L1003.0,2630.0 L1003.7,2629.8 L1004.3,2629.7 L1004.9,2629.6 L1005.5,2629.4 L1006.1,2629.3 L1006.8,2629.1 L1007.4,2629.0 L1008.0,2628.8 L1008.6,2628.6 L1009.2,2628.5 L1009.8,2628.3 L1010.5,2628.1 L1011.1,2628.0 L1011.7,2627.8 L1012.3,2627.6 L1012.9,2627.4 L1013.6,2627.2 L1014.2,2627.0 L1014.8,2626.8 L1015.4,2626.6 L1016.0,2626.4 L1016.6,2626.2 L1017.3,2625.9 L1017.9,2625.7 L1018.5,2625.5 L1019.1,2625.2 L1019.7,2625.0 L1020.4,2624.7 L1021.0,2624.5 L1021.6,2624.2 L1022.2,2623.9 L1022.8,2623.7 L1023.4,2623.4 L1024.1,2623.1 L1024.7,2622.8 L1025.3,2622.5 L1025.9,2622.1 L1026.5,2621.8 L1027.2,2621.5 L1027.8,2621.1 L1028.4,2620.8 L1029.0,2620.4 L1029.6,2620.1 L1030.3,2619.7 L1030.9,2619.3 L1031.5,2618.9 L1032.1,2618.5 L1032.7,2618.1 L1033.3,2617.6 L1034.0,2617.2 L1034.6,2616.7 L1035.2,2616.2 L1035.8,2615.7 L1036.4,2615.2 L1037.1,2614.7 L1037.7,2614.2 L1038.3,2613.6 L1038.9,2613.1 L1039.5,2612.5 L1040.1,2611.9 L1040.8,2611.3 L1041.4,2610.6 L1042.0,2610.0 L1042.6,2609.3 L1043.2,2608.6 L1043.9,2607.9 L1044.5,2607.1 L1045.1,2606.4 L1045.7,2605.6 L1046.3,2604.8 L1046.9,2603.9 L1047.6,2603.0 L1048.2,2602.1 L1048.8,2601.2 L1049.4,2600.2 L1050.0,2599.2 L1050.7,2598.2 L1051.3,2597.1 L1051.9,2596.0 L1052.5,2594.8 L1053.1,2593.6 L1053.8,2592.3 L1054.4,2591.1 L1055.0,2589.7 L1055.6,2588.3 L1056.2,2586.8 L1056.8,2585.3 L1057.5,2583.8 L1058.1,2582.1 L1058.7,2580.4 L1059.3,2578.6 L1059.9,2576.8 L1060.6,2574.8 L1061.2,2572.8 L1061.8,2570.7 L1062.4,2568.5 L1063.0,2566.2 L1063.6,2563.8 L1064.3,2561.3 L1064.9,2558.6 L1065.5,2555.9 L1066.1,2553.0 L1066.7,2549.9 L1067.4,2546.7 L1068.0,2543.4 L1068.6,2539.9 L1069.2,2536.2 L1069.8,2532.3 L1070.4,2528.2 L1071.1,2523.8 L1071.7,2519.3 L1072.3,2514.4 L1072.9,2509.3 L1073.5,2504.0 L1074.2,2498.3 L1074.8,2492.2 L1075.4,2485.8 L1076.0,2479.1 L1076.6,2471.9 L1077.2,2464.3 L1077.9,2456.1 L1078.5,2447.5 L1079.1,2438.4 L1079.7,2428.6 L1080.3,2418.2 L1081.0,2407.1 L1081.6,2395.3 L1082.2,2382.7 L1082.8,2369.2 L1083.4,2354.8 L1084.1,2339.5 L1084.7,2323.2 L1085.3,2305.7 L1085.9,2287.1 L1086.5,2267.4 L1087.1,2246.3 L1087.8,2224.0 L1088.4,2200.2 L1089.0,2175.0 L1089.6,2148.4 L1090.2,2120.3 L1090.9,2090.8 L1091.5,2060.0 L1092.1,2028.0 L1092.7,1995.1 L1093.3,1961.5 L1093.9,1927.7 L1094.6,1894.0 L1095.2,1861.0 L1095.8,1829.3 L1096.4,1799.7 L1097.0,1772.9 L1097.7,1749.7 L1098.3,1730.7 L1098.9,1716.7 L1099.5,1708.0 L1100.1,1705.0 L1100.7,1707.9 L1101.4,1716.4 L1102.0,1730.3 L1102.6,1749.2 L1103.2,1772.2 L1103.8,1798.9 L1104.5,1828.3 L1105.1,1859.8 L1105.7,1892.7 L1106.3,1926.2 L1106.9,1960.0 L1107.5,1993.4 L1108.2,2026.1 L1108.8,2057.9 L1109.4,2088.6 L1110.0,2117.9 L1110.6,2145.8 L1111.3,2172.3 L1111.9,2197.3 L1112.5,2220.9 L1113.1,2243.0 L1113.7,2263.8 L1114.4,2283.4 L1115.0,2301.7 L1115.6,2318.9 L1116.2,2335.0 L1116.8,2350.1 L1117.4,2364.2 L1118.1,2377.4 L1118.7,2389.7 L1119.3,2401.2 L1119.9,2412.0 L1120.5,2422.1 L1121.2,2431.5 L1121.8,2440.3 L1122.4,2448.5 L1123.0,2456.2 L1123.6,2463.4 L1124.2,2470.2 L1124.9,2476.5 L1125.5,2482.4 L1126.1,2487.9 L1126.7,2493.0 L1127.3,2497.8 L1128.0,2502.3 L1128.6,2506.4 L1129.2,2510.3 L1129.8,2513.9 L1130.4,2517.2 L1131.0,2520.3 L1131.7,2523.1 L1132.3,2525.7 L1132.9,2528.1 L1133.5,2530.2 L1134.1,2532.1 L1134.8,2533.9 L1135.4,2535.4 L1136.0,2536.8 L1136.6,2538.0 L1137.2,2539.0 L1137.8,2539.9 L1138.5,2540.6 L1139.1,2541.2 L1139.7,2541.7 L1140.3,2542.1 L1140.9,2542.4 L1141.6,2542.7 L1142.2,2543.0 L1142.8,2543.3 L1143.4,2543.6 L1144.0,2544.0 L1144.7,2544.5 L1145.3,2545.1 L1145.9,2545.9 L1146.5,2546.8 L1147.1,2548.0 L1147.7,2549.3 L1148.4,2550.8 L1149.0,2552.5 L1149.6,2554.4 L1150.2,2556.4 L1150.8,2558.6 L1151.5,2560.8 L1152.1,2563.1 L1152.7,2565.5 L1153.3,2567.9 L1153.9,2570.3 L1154.5,2572.6 L1155.2,2575.0 L1155.8,2577.3 L1156.4,2579.5 L1157.0,2581.7 L1157.6,2583.7 L1158.3,2585.8 L1158.9,2587.7 L1159.5,2589.6 L1160.1,2591.3 L1160.7,2593.0 L1161.3,2594.7 L1162.0,2596.2 L1162.6,2597.7 L1163.2,2599.1 L1163.8,2600.5 L1164.4,2601.8 L1165.1,2603.0 L1165.7,2604.2 L1166.3,2605.3 L1166.9,2606.4 L1167.5,2607.4 L1168.1,2608.4 L1168.8,2609.3 L1169.4,2610.2 L1170.0,2611.1 L1170.6,2611.9 L1171.2,2612.7 L1171.9,2613.5 L1172.5,2614.2 L1173.1,2614.9 L1173.7,2615.6 L1174.3,2616.2 L1175.0,2616.9 L1175.6,2617.5 L1176.2,2618.1 L1176.8,2618.6 L1177.4,2619.2 L1178.0,2619.7 L1178.7,2620.2 L1179.3,2620.7 L1179.9,2621.2 L1180.5,2621.6 L1181.1,2622.1 L1181.8,2622.5 L1182.4,2622.9 L1183.0,2623.3 L1183.6,2623.7 L1184.2,2624.1 L1184.8,2624.4 L1185.5,2624.8 L1186.1,2625.1 L1186.7,2625.5 L1187.3,2625.8 L1187.9,2626.1 L1188.6,2626.4 L1189.2,2626.7 L1189.8,2627.0 L1190.4,2627.3 L1191.0,2627.6 L1191.6,2627.9 L1192.3,2628.1 L1192.9,2628.4 L1193.5,2628.7 L1194.1,2628.9 L1194.7,2629.1 L1195.4,2629.4 L1196.0,2629.6 L1196.6,2629.8 L1197.2,2630.0 L1197.8,2630.3 L1198.4,2630.5 L1199.1,2630.7 L1199.7,2630.9 L1200.3,2631.1 L1200.9,2631.3 L1201.5,2631.4 L1202.2,2631.6 L1202.8,2631.8 L1203.4,2632.0 L1204.0,2632.2 L1204.6,2632.3 L1205.3,2632.5 L1205.9,2632.6 L1206.5,2632.8 L1207.1,2633.0 L1207.7,2633.1 L1208.3,2633.3 L1209.0,2633.4 L1209.6,2633.6 L1210.2,2633.7 L1210.8,2633.8 L1211.4,2634.0 L1212.1,2634.1 L1212.7,2634.2 L1213.3,2634.4 L1213.9,2634.5 L1214.5,2634.6 L1215.1,2634.7 L1215.8,2634.8 L1216.4,2635.0 L1217.0,2635.1 L1217.6,2635.2 L1218.2,2635.3 L1218.9,2635.4 L1219.5,2635.5 L1220.1,2635.6 L1220.7,2635.7 L1221.3,2635.8 L1221.9,2635.9 L1222.6,2636.0 L1223.2,2636.1 L1223.8,2636.2 L1224.4,2636.3 L1225.0,2636.4 L1225.7,2636.5 L1226.3,2636.6 L1226.9,2636.7 L1227.5,2636.8 L1228.1,2636.8 L1228.8,2636.9 L1229.4,2637.0 L1230.0,2637.1 L1230.6,2637.2 L1231.2,2637.2 L1231.8,2637.3 L1232.5,2637.4 L1233.1,2637.5 L1233.7,2637.5 L1234.3,2637.6 L1234.9,2637.7 L1235.6,2637.8 L1236.2,2637.8 L1236.8,2637.9 L1237.4,2638.0 L1238.0,2638.0 L1238.6,2638.1 L1239.3,2638.2 L1239.9,2638.2 L1240.5,2638.3 L1241.1,2638.4 L1241.7,2638.4 L1242.4,2638.5 L1243.0,2638.5 L1243.6,2638.6 L1244.2,2638.7 L1244.8,2638.7 L1245.4,2638.8 L1246.1,2638.8 L1246.7,2638.9 L1247.3,2638.9 L1247.9,2639.0 L1248.5,2639.0 L1249.2,2639.1 L1249.8,2639.1 L1250.4,2639.2 L1251.0,2639.2 L1251.6,2639.3 L1252.2,2639.3 L1252.9,2639.4 L1253.5,2639.4 L1254.1,2639.5 L1254.7,2639.5 L1255.3,2639.6 L1256.0,2639.6 L1256.6,2639.7 L1257.2,2639.7 L1257.8,2639.8 L1258.4,2639.8 L1259.1,2639.8 L1259.7,2639.9 L1260.3,2639.9 L1260.9,2640.0 L1261.5,2640.0 L1262.1,2640.1 L1262.8,2640.1 L1263.4,2640.1 L1264.0,2640.2 L1264.6,2640.2 L1265.2,2640.2 L1265.9,2640.3 L1266.5,2640.3 L1267.1,2640.4 L1267.7,2640.4 L1268.3,2640.4 L1268.9,2640.5 L1269.6,2640.5 L1270.2,2640.5 L1270.8,2640.6 L1271.4,2640.6 L1272.0,2640.6 L1272.7,2640.7 L1273.3,2640.7 L1273.9,2640.7 L1274.5,2640.8 L1275.1,2640.8 L1275.7,2640.8 L1276.4,2640.9 L1277.0,2640.9 L1277.6,2640.9 L1278.2,2641.0 L1278.8,2641.0 L1279.5,2641.0 L1280.1,2641.0 L1280.7,2641.1 L1281.3,2641.1 L1281.9,2641.1 L1282.5,2641.2 L1283.2,2641.2 L1283.8,2641.2 L1284.4,2641.2 L1285.0,2641.3 L1285.6,2641.3 L1286.3,2641.3 L1286.9,2641.4 L1287.5,2641.4 L1288.1,2641.4 L1288.7,2641.4 L1289.4,2641.5 L1290.0,2641.5 L1290.6,2641.5 L1291.2,2641.5 L1291.8,2641.6 L1292.4,2641.6 L1293.1,2641.6 L1293.7,2641.6 L1294.3,2641.6 L1294.9,2641.7 L1295.5,2641.7 L1296.2,2641.7 L1296.8,2641.7 L1297.4,2641.8 L1298.0,2641.8 L1298.6,2641.8 L1299.2,2641.8 L1299.9,2641.8 L1300.5,2641.9 L1301.1,2641.9 L1301.7,2641.9 L1302.3,2641.9 L1303.0,2642.0 L1303.6,2642.0 L1304.2,2642.0 L1304.8,2642.0 L1305.4,2642.0 L1306.0,2642.1 L1306.7,2642.1 L1307.3,2642.1 L1307.9,2642.1 L1308.5,2642.1 L1309.1,2642.1 L1309.8,2642.2 L1310.4,2642.2 L1311.0,2642.2 L1311.6,2642.2 L1312.2,2642.2 L1312.8,2642.3 L1313.5,2642.3 L1314.1,2642.3 L1314.7,2642.3 L1315.3,2642.3 L1315.9,2642.3 L1316.6,2642.4 L1317.2,2642.4 L1317.8,2642.4 L1318.4,2642.4 L1319.0,2642.4 L1319.7,2642.4 L1320.3,2642.5 L1320.9,2642.5 L1321.5,2642.5 L1322.1,2642.5 L1322.7,2642.5 L1323.4,2642.5 L1324.0,2642.6 L1324.6,2642.6 L1325.2,2642.6 L1325.8,2642.6 L1326.5,2642.6 L1327.1,2642.6 L1327.7,2642.6 L1328.3,2642.7 L1328.9,2642.7 L1329.5,2642.7 L1330.2,2642.7 L1330.8,2642.7 L1331.4,2642.7 L1332.0,2642.7 L1332.6,2642.8 L1333.3,2642.8 L1333.9,2642.8 L1334.5,2642.8 L1335.1,2642.8 L1335.7,2642.8 L1336.3,2642.8 L1337.0,2642.8 L1337.6,2642.9 L1338.2,2642.9 L1338.8,2642.9 L1339.4,2642.9 L1340.1,2642.9 L1340.7,2642.9 L1341.3,2642.9 L1341.9,2642.9 L1342.5,2643.0 L1343.1,2643.0 L1343.8,2643.0 L1344.4,2643.0 L1345.0,2643.0 L1345.6,2643.0 L1346.2,2643.0 L1346.9,2643.0 L1347.5,2643.0 L1348.1,2643.1 L1348.7,2643.1 L1349.3,2643.1 L1350.0,2643.1 L1350.6,2643.1 L1351.2,2643.1 L1351.8,2643.1 L1352.4,2643.1 L1353.0,2643.1 L1353.7,2643.2 L1354.3,2643.2 L1354.9,2643.2 L1355.5,2643.2 L1356.1,2643.2 L1356.8,2643.2 L1357.4,2643.2 L1358.0,2643.2 L1358.6,2643.2 L1359.2,2643.3 L1359.8,2643.3 L1360.5,2643.3 L1361.1,2643.3 L1361.7,2643.3 L1362.3,2643.3 L1362.9,2643.3 L1363.6,2643.3 L1364.2,2643.3 L1364.8,2643.3 L1365.4,2643.3 L1366.0,2643.4 L1366.6,2643.4 L1367.3,2643.4 L1367.9,2643.4 L1368.5,2643.4 L1369.1,2643.4 L1369.7,2643.4 L1370.4,2643.4 L1371.0,2643.4 L1371.6,2643.4 L1372.2,2643.4 L1372.8,2643.5 L1373.5,2643.5 L1374.1,2643.5 L1374.7,2643.5 L1375.3,2643.5 L1375.9,2643.5 L1376.5,2643.5 L1377.2,2643.5 L1377.8,2643.5 L1378.4,2643.5 L1379.0,2643.5 L1379.6,2643.5 L1380.3,2643.6 L1380.9,2643.6 L1381.5,2643.6 L1382.1,2643.6 L1382.7,2643.6 L1383.3,2643.6 L1384.0,2643.6 L1384.6,2643.6 L1385.2,2643.6 L1385.8,2643.6 L1386.4,2643.6 L1387.1,2643.6 L1387.7,2643.6 L1388.3,2643.6 L1388.9,2643.7 L1389.5,2643.7 L1390.1,2643.7 L1390.8,2643.7 L1391.4,2643.7 L1392.0,2643.7 L1392.6,2643.7 L1393.2,2643.7 L1393.9,2643.7 L1394.5,2643.7 L1395.1,2643.7 L1395.7,2643.7 L1396.3,2643.7 L1396.9,2643.7 L1397.6,2643.8 L1398.2,2643.8 L1398.8,2643.8 L1399.4,2643.8 L1400.0,2643.8 L1400.7,2643.8 L1401.3,2643.8 L1401.9,2643.8 L1402.5,2643.8 L1403.1,2643.8 L1403.8,2643.8 L1404.4,2643.8 L1405.0,2643.8 L1405.6,2643.8 L1406.2,2643.8 L1406.8,2643.8 L1407.5,2643.9 L1408.1,2643.9 L1408.7,2643.9 L1409.3,2643.9 L1409.9,2643.9 L1410.6,2643.9 L1411.2,2643.9 L1411.8,2643.9 L1412.4,2643.9 L1413.0,2643.9 L1413.6,2643.9 L1414.3,2643.9 L1414.9,2643.9 L1415.5,2643.9 L1416.1,2643.9 L1416.7,2643.9 L1417.4,2643.9 L1418.0,2644.0 L1418.6,2644.0 L1419.2,2644.0 L1419.8,2644.0 L1420.4,2644.0 L1421.1,2644.0 L1421.7,2644.0 L1422.3,2644.0 L1422.9,2644.0 L1423.5,2644.0 L1424.2,2644.0 L1424.8,2644.0 L1425.4,2644.0 L1426.0,2644.0 L1426.6,2644.0 L1427.2,2644.0 L1427.9,2644.0 L1428.5,2644.0 L1429.1,2644.0 L1429.7,2644.1 L1430.3,2644.1 L1431.0,2644.1 L1431.6,2644.1 L1432.2,2644.1 L1432.8,2644.1 L1433.4,2644.1 L1434.1,2644.1 L1434.7,2644.1 L1435.3,2644.1 L1435.9,2644.1 L1436.5,2644.1 L1437.1,2644.1 L1437.8,2644.1 L1438.4,2644.1 L1439.0,2644.1 L1439.6,2644.1 L1440.2,2644.1 L1440.9,2644.1 L1441.5,2644.1 L1442.1,2644.1 L1442.7,2644.1 L1443.3,2644.2 L1443.9,2644.2 L1444.6,2644.2 L1445.2,2644.2 L1445.8,2644.2 L1446.4,2644.2 L1447.0,2644.2 L1447.7,2644.2 L1448.3,2644.2 L1448.9,2644.2 L1449.5,2644.2 L1450.1,2644.2 L1450.7,2644.2 L1451.4,2644.2 L1452.0,2644.2 L1452.6,2644.2 L1453.2,2644.2 L1453.8,2644.2 L1454.5,2644.2 L1455.1,2644.2 L1455.7,2644.2 L1456.3,2644.2 L1456.9,2644.2 L1457.5,2644.2 L1458.2,2644.3 L1458.8,2644.3 L1459.4,2644.3 L1460.0,2644.3 L1460.6,2644.3 L1461.3,2644.3 L1461.9,2644.3 L1462.5,2644.3 L1463.1,2644.3 L1463.7,2644.3 L1464.4,2644.3 L1465.0,2644.3 L1465.6,2644.3 L1466.2,2644.3 L1466.8,2644.3 L1467.4,2644.3 L1468.1,2644.3 L1468.7,2644.3 L1469.3,2644.3 L1469.9,2644.3 L1470.5,2644.3 L1471.2,2644.3 L1471.8,2644.3 L1472.4,2644.3 L1473.0,2644.3 L1473.6,2644.3 L1474.2,2644.3 L1474.9,2644.4 L1475.5,2644.4 L1476.1,2644.4 L1476.7,2644.4 L1477.3,2644.4 L1478.0,2644.4 L1478.6,2644.4 L1479.2,2644.4 L1479.8,2644.4 L1480.4,2644.4 L1481.0,2644.4 L1481.7,2644.4 L1482.3,2644.4 L1482.9,2644.4 L1483.5,2644.4 L1484.1,2644.4 L1484.8,2644.4 L1485.4,2644.4 L1486.0,2644.4 L1486.6,2644.4 L1487.2,2644.4 L1487.8,2644.4 L1488.5,2644.4 L1489.1,2644.4 L1489.7,2644.4 L1490.3,2644.4 L1490.9,2644.4 L1491.6,2644.4 L1492.2,2644.4 L1492.8,2644.4 L1493.4,2644.4 L1494.0,2644.5 L1494.7,2644.5 L1495.3,2644.5 L1495.9,2644.5 L1496.5,2644.5 L1497.1,2644.5 L1497.7,2644.5 L1498.4,2644.5 L1499.0,2644.5 L1499.6,2644.5 L1500.2,2644.5 L1500.8,2644.5 L1501.5,2644.5 L1502.1,2644.5 L1502.7,2644.5 L1503.3,2644.5 L1503.9,2644.5 L1504.5,2644.5 L1505.2,2644.5 L1505.8,2644.5 L1506.4,2644.5 L1507.0,2644.5 L1507.6,2644.5 L1508.3,2644.5 L1508.9,2644.5 L1509.5,2644.5 L1510.1,2644.5 L1510.7,2644.5 L1511.3,2644.5 L1512.0,2644.5 L1512.6,2644.5 L1513.2,2644.5 L1513.8,2644.5 L1514.4,2644.5 L1515.1,2644.5 L1515.7,2644.5 L1516.3,2644.6 L1516.9,2644.6 L1517.5,2644.6 L1518.1,2644.6 L1518.8,2644.6 L1519.4,2644.6 L1520.0,2644.6 L1520.6,2644.6 L1521.2,2644.6 L1521.9,2644.6 L1522.5,2644.6 L1523.1,2644.6 L1523.7,2644.6 L1524.3,2644.6 L1525.0,2644.6 L1525.6,2644.6 L1526.2,2644.6 L1526.8,2644.6 L1527.4,2644.6 L1528.0,2644.6 L1528.7,2644.6 L1529.3,2644.6 L1529.9,2644.6 L1530.5,2644.6 L1531.1,2644.6 L1531.8,2644.6 L1532.4,2644.6 L1533.0,2644.6 L1533.6,2644.6 L1534.2,2644.6 L1534.8,2644.6 L1535.5,2644.6 L1536.1,2644.6 L1536.7,2644.6 L1537.3,2644.6 L1537.9,2644.6 L1538.6,2644.6 L1539.2,2644.6 L1539.8,2644.6 L1540.4,2644.6 L1541.0,2644.6 L1541.6,2644.6 L1542.3,2644.6 L1542.9,2644.7 L1543.5,2644.7 L1544.1,2644.7 L1544.7,2644.7 L1545.4,2644.7 L1546.0,2644.7 L1546.6,2644.7 L1547.2,2644.7 L1547.8,2644.7 L1548.5,2644.7 L1549.1,2644.7 L1549.7,2644.7 L1550.3,2644.7 L1550.9,2644.7 L1551.5,2644.7 L1552.2,2644.7 L1552.8,2644.7 L1553.4,2644.7 L1554.0,2644.7 L1554.6,2644.7 L1555.3,2644.7 L1555.9,2644.7 L1556.5,2644.7 L1557.1,2644.7 L1557.7,2644.7 L1558.3,2644.7 L1559.0,2644.7 L1559.6,2644.7 L1560.2,2644.7 L1560.8,2644.7 L1561.4,2644.7 L1562.1,2644.7 L1562.7,2644.7 L1563.3,2644.7 L1563.9,2644.7 L1564.5,2644.7 L1565.1,2644.7 L1565.8,2644.7 L1566.4,2644.7 L1567.0,2644.7 L1567.6,2644.7 L1568.2,2644.7 L1568.9,2644.7 L1569.5,2644.7 L1570.1,2644.7 L1570.7,2644.7 L1571.3,2644.7 L1571.9,2644.7 L1572.6,2644.7 L1573.2,2644.7 L1573.8,2644.7 L1574.4,2644.8 L1575.0,2644.8 L1575.7,2644.8 L1576.3,2644.8 L1576.9,2644.8 L1577.5,2644.8 L1578.1,2644.8 L1578.8,2644.8 L1579.4,2644.8 L1580.0,2644.8 L1580.6,2644.8 L1581.2,2644.8 L1581.8,2644.8 L1582.5,2644.8 L1583.1,2644.8 L1583.7,2644.8 L1584.3,2644.8 L1584.9,2644.8 L1585.6,2644.8 L1586.2,2644.8 L1586.8,2644.8 L1587.4,2644.8 L1588.0,2644.8 L1588.6,2644.8 L1589.3,2644.8 L1589.9,2644.8 L1590.5,2644.8 L1591.1,2644.8 L1591.7,2644.8 L1592.4,2644.8 L1593.0,2644.8 L1593.6,2644.8 L1594.2,2644.8 L1594.8,2644.8 L1595.4,2644.8 L1596.1,2644.8 L1596.7,2644.8 L1597.3,2644.8 L1597.9,2644.8 L1598.5,2644.8 L1599.2,2644.8 L1599.8,2644.8 L1600.4,2644.8 L1601.0,2644.8 L1601.6,2644.8 L1602.2,2644.8 L1602.9,2644.8 L1603.5,2644.8 L1604.1,2644.8 L1604.7,2644.8 L1605.3,2644.8 L1606.0,2644.8 L1606.6,2644.8 L1607.2,2644.8 L1607.8,2644.8 L1608.4,2644.8 L1609.1,2644.8 L1609.7,2644.8 L1610.3,2644.8 L1610.9,2644.8 L1611.5,2644.8 L1612.1,2644.8 L1612.8,2644.8 L1613.4,2644.9 L1614.0,2644.9 L1614.6,2644.9 L1615.2,2644.9 L1615.9,2644.9 L1616.5,2644.9 L1617.1,2644.9 L1617.7,2644.9 L1618.3,2644.9 L1618.9,2644.9 L1619.6,2644.9 L1620.2,2644.9 L1620.8,2644.9" stroke="#3c3c3c" stroke-width="4.2" stroke-linecap="round"/>
<path d="M136.7,2641.2 L139.2,2641.2 L141.6,2641.2 L144.1,2641.2 L146.6,2641.2 L149.1,2641.2 L151.5,2641.2 L154.0,2641.2 L156.5,2641.2 L159.0,2641.2 L161.4,2641.2 L163.9,2641.2 L166.4,2641.2 L168.9,2641.2 L171.3,2641.2 L173.8,2641.2 L176.3,2641.2 L178.7,2641.2 L181.2,2641.2 L183.7,2641.2 L186.2,2641.2 L188.6,2641.2 L191.1,2641.2 L193.6,2641.2 L196.1,2641.2 L198.5,2641.2 L201.0,2641.2 L203.5,2641.2 L206.0,2641.2 L208.4,2641.2 L210.9,2641.2 L213.4,2641.2 L215.9,2641.2 L218.3,2641.2 L220.8,2641.2 L223.3,2641.2 L225.7,2641.2 L228.2,2641.2 L230.7,2641.2 L233.2,2641.2 L235.6,2641.1 L238.1,2641.1 L240.6,2641.1 L243.1,2641.1 L245.5,2641.1 L248.0,2641.1 L250.5,2641.1 L253.0,2641.1 L255.4,2641.1 L257.9,2641.1 L260.4,2641.1 L262.8,2641.1 L265.3,2641.1 L267.8,2641.1 L270.3,2641.1 L272.7,2641.1 L275.2,2641.1 L277.7,2641.1 L280.2,2641.1 L282.6,2641.1 L285.1,2641.1 L287.6,2641.1 L290.1,2641.1 L292.5,2641.1 L295.0,2641.1 L297.5,2641.1 L300.0,2641.1 L302.4,2641.0 L304.9,2641.0 L307.4,2641.0 L309.8,2641.0 L312.3,2641.0 L314.8,2641.0 L317.3,2641.0 L319.7,2641.0 L322.2,2641.0 L324.7,2641.0 L327.2,2641.0 L329.6,2641.0 L332.1,2641.0 L334.6,2641.0 L337.1,2641.0 L339.5,2641.0 L342.0,2641.0 L344.5,2641.0 L346.9,2641.0 L349.4,2641.0 L351.9,2640.9 L354.4,2640.9 L356.8,2640.9 L359.3,2640.9 L361.8,2640.9 L364.3,2640.9 L366.7,2640.9 L369.2,2640.9 L371.7,2640.9 L374.2,2640.9 L376.6,2640.9 L379.1,2640.9 L381.6,2640.9 L384.0,2640.9 L386.5,2640.9 L389.0,2640.8 L391.5,2640.8 L393.9,2640.8 L396.4,2640.8 L398.9,2640.8 L401.4,2640.8 L403.8,2640.8 L406.3,2640.8 L408.8,2640.8 L411.3,2640.8 L413.7,2640.8 L416.2,2640.8 L418.7,2640.7 L421.2,2640.7 L423.6,2640.7 L426.1,2640.7 L428.6,2640.7 L431.0,2640.7 L433.5,2640.7 L436.0,2640.7 L438.5,2640.7 L440.9,2640.7 L443.4,2640.6 L445.9,2640.6 L448.4,2640.6 L450.8,2640.6 L453.3,2640.6 L455.8,2640.6 L458.3,2640.6 L460.7,2640.6 L463.2,2640.5 L465.7,2640.5 L468.1,2640.5 L470.6,2640.5 L473.1,2640.5 L475.6,2640.5 L478.0,2640.5 L480.5,2640.4 L483.0,2640.4 L485.5,2640.4 L487.9,2640.4 L490.4,2640.4 L492.9,2640.4 L495.4,2640.3 L497.8,2640.3 L500.3,2640.3 L502.8,2640.3 L505.3,2640.3 L507.7,2640.2 L510.2,2640.2 L512.7,2640.2 L515.1,2640.2 L517.6,2640.2 L520.1,2640.1 L522.6,2640.1 L525.0,2640.1 L527.5,2640.1 L530.0,2640.0 L532.5,2640.0 L534.9,2640.0 L537.4,2640.0 L539.9,2639.9 L542.4,2639.9 L544.8,2639.9 L547.3,2639.9 L549.8,2639.8 L552.2,2639.8 L554.7,2639.8 L557.2,2639.7 L559.7,2639.7 L562.1,2639.7 L564.6,2639.6 L567.1,2639.6 L569.6,2639.5 L572.0,2639.5 L574.5,2639.5 L577.0,2639.4 L579.5,2639.4 L581.9,2639.3 L584.4,2639.3 L586.9,2639.2 L589.4,2639.2 L591.8,2639.1 L594.3,2639.1 L596.8,2639.0 L599.2,2639.0 L601.7,2638.9 L604.2,2638.9 L606.7,2638.8 L609.1,2638.7 L611.6,2638.7 L614.1,2638.6 L616.6,2638.5 L619.0,2638.4 L621.5,2638.4 L624.0,2638.3 L626.5,2638.2 L628.9,2638.1 L631.4,2638.0 L633.9,2637.9 L636.3,2637.8 L638.8,2637.7 L641.3,2637.6 L643.8,2637.5 L646.2,2637.4 L648.7,2637.3 L651.2,2637.1 L653.7,2637.0 L656.1,2636.9 L658.6,2636.7 L661.1,2636.6 L663.6,2636.4 L666.0,2636.3 L668.5,2636.1 L671.0,2635.9 L673.4,2635.7 L675.9,2635.5 L678.4,2635.3 L680.9,2635.1 L683.3,2634.8 L685.8,2634.6 L688.3,2634.3 L690.8,2634.0 L693.2,2633.7 L695.7,2633.4 L698.2,2633.1 L700.7,2632.7 L703.1,2632.4 L705.6,2632.0 L708.1,2631.5 L710.6,2631.1 L713.0,2630.6 L715.5,2630.1 L718.0,2629.5 L720.4,2628.9 L722.9,2628.3 L725.4,2627.6 L727.9,2626.9 L730.3,2626.1 L732.8,2625.2 L735.3,2624.2 L737.8,2623.2 L740.2,2622.1 L742.7,2620.9 L745.2,2619.6 L747.7,2618.1 L750.1,2616.6 L752.6,2614.8 L755.1,2612.9 L757.5,2610.8 L760.0,2608.4 L762.5,2605.8 L765.0,2602.9 L767.4,2599.7 L769.9,2596.1 L772.4,2592.1 L774.9,2587.7 L777.3,2582.6 L779.8,2577.0 L782.3,2570.8 L784.8,2563.8 L787.2,2556.1 L789.7,2547.5 L792.2,2538.2 L794.7,2528.2 L797.1,2517.7 L799.6,2506.9 L802.1,2496.2 L804.5,2486.3 L807.0,2477.7 L809.5,2471.2 L812.0,2467.4 L814.4,2466.6 L816.9,2468.9 L819.4,2474.2 L821.9,2481.8 L824.3,2491.1 L826.8,2501.5 L829.3,2512.3 L831.8,2523.0 L834.2,2533.3 L836.7,2543.0 L839.2,2551.9 L841.6,2560.0 L844.1,2567.4 L846.6,2574.0 L849.1,2579.9 L851.5,2585.2 L854.0,2590.0 L856.5,2594.2 L859.0,2598.0 L861.4,2601.4 L863.9,2604.4 L866.4,2607.2 L868.9,2609.6 L871.3,2611.9 L873.8,2613.9 L876.3,2615.7 L878.8,2617.4 L881.2,2618.9 L883.7,2620.3 L886.2,2621.5 L888.6,2622.7 L891.1,2623.7 L893.6,2624.7 L896.1,2625.6 L898.5,2626.5 L901.0,2627.2 L903.5,2628.0 L906.0,2628.6 L908.4,2629.2 L910.9,2629.8 L913.4,2630.3 L915.9,2630.9 L918.3,2631.3 L920.8,2631.8 L923.3,2632.2 L925.7,2632.6 L928.2,2632.9 L930.7,2633.3 L933.2,2633.6 L935.6,2633.9 L938.1,2634.2 L940.6,2634.5 L943.1,2634.7 L945.5,2635.0 L948.0,2635.2 L950.5,2635.4 L953.0,2635.6 L955.4,2635.8 L957.9,2636.0 L960.4,2636.2 L962.8,2636.3 L965.3,2636.5 L967.8,2636.7 L970.3,2636.8 L972.7,2636.9 L975.2,2637.1 L977.7,2637.2 L980.2,2637.3 L982.6,2637.5 L985.1,2637.6 L987.6,2637.7 L990.1,2637.8 L992.5,2637.9 L995.0,2638.0 L997.5,2638.1 L1000.0,2638.2 L1002.4,2638.2 L1004.9,2638.3 L1007.4,2638.4 L1009.8,2638.5 L1012.3,2638.6 L1014.8,2638.6 L1017.3,2638.7 L1019.7,2638.8 L1022.2,2638.8 L1024.7,2638.9 L1027.2,2638.9 L1029.6,2639.0 L1032.1,2639.1 L1034.6,2639.1 L1037.1,2639.2 L1039.5,2639.2 L1042.0,2639.3 L1044.5,2639.3 L1046.9,2639.4 L1049.4,2639.4 L1051.9,2639.4 L1054.4,2639.5 L1056.8,2639.5 L1059.3,2639.6 L1061.8,2639.6 L1064.3,2639.6 L1066.7,2639.7 L1069.2,2639.7 L1071.7,2639.7 L1074.2,2639.8 L1076.6,2639.8 L1079.1,2639.8 L1081.6,2639.9 L1084.1,2639.9 L1086.5,2639.9 L1089.0,2640.0 L1091.5,2640.0 L1093.9,2640.0 L1096.4,2640.0 L1098.9,2640.1 L1101.4,2640.1 L1103.8,2640.1 L1106.3,2640.1 L1108.8,2640.2 L1111.3,2640.2 L1113.7,2640.2 L1116.2,2640.2 L1118.7,2640.2 L1121.2,2640.3 L1123.6,2640.3 L1126.1,2640.3 L1128.6,2640.3 L1131.0,2640.3 L1133.5,2640.4 L1136.0,2640.4 L1138.5,2640.4 L1140.9,2640.4 L1143.4,2640.4 L1145.9,2640.4 L1148.4,2640.5 L1150.8,2640.5 L1153.3,2640.5 L1155.8,2640.5 L1158.3,2640.5 L1160.7,2640.5 L1163.2,2640.5 L1165.7,2640.6 L1168.1,2640.6 L1170.6,2640.6 L1173.1,2640.6 L1175.6,2640.6 L1178.0,2640.6 L1180.5,2640.6 L1183.0,2640.6 L1185.5,2640.6 L1187.9,2640.7 L1190.4,2640.7 L1192.9,2640.7 L1195.4,2640.7 L1197.8,2640.7 L1200.3,2640.7 L1202.8,2640.7 L1205.3,2640.7 L1207.7,2640.7 L1210.2,2640.8 L1212.7,2640.8 L1215.1,2640.8 L1217.6,2640.8 L1220.1,2640.8 L1222.6,2640.8 L1225.0,2640.8 L1227.5,2640.8 L1230.0,2640.8 L1232.5,2640.8 L1234.9,2640.8 L1237.4,2640.8 L1239.9,2640.9 L1242.4,2640.9 L1244.8,2640.9 L1247.3,2640.9 L1249.8,2640.9 L1252.2,2640.9 L1254.7,2640.9 L1257.2,2640.9 L1259.7,2640.9 L1262.1,2640.9 L1264.6,2640.9 L1267.1,2640.9 L1269.6,2640.9 L1272.0,2640.9 L1274.5,2640.9 L1277.0,2641.0 L1279.5,2641.0 L1281.9,2641.0 L1284.4,2641.0 L1286.9,2641.0 L1289.4,2641.0 L1291.8,2641.0 L1294.3,2641.0 L1296.8,2641.0 L1299.2,2641.0 L1301.7,2641.0 L1304.2,2641.0 L1306.7,2641.0 L1309.1,2641.0 L1311.6,2641.0 L1314.1,2641.0 L1316.6,2641.0 L1319.0,2641.0 L1321.5,2641.0 L1324.0,2641.0 L1326.5,2641.1 L1328.9,2641.1 L1331.4,2641.1 L1333.9,2641.1 L1336.3,2641.1 L1338.8,2641.1 L1341.3,2641.1 L1343.8,2641.1 L1346.2,2641.1 L1348.7,2641.1 L1351.2,2641.1 L1353.7,2641.1 L1356.1,2641.1 L1358.6,2641.1 L1361.1,2641.1 L1363.6,2641.1 L1366.0,2641.1 L1368.5,2641.1 L1371.0,2641.1 L1373.5,2641.1 L1375.9,2641.1 L1378.4,2641.1 L1380.9,2641.1 L1383.3,2641.1 L1385.8,2641.1 L1388.3,2641.1 L1390.8,2641.1 L1393.2,2641.1 L1395.7,2641.2 L1398.2,2641.2 L1400.7,2641.2 L1403.1,2641.2 L1405.6,2641.2 L1408.1,2641.2 L1410.6,2641.2 L1413.0,2641.2 L1415.5,2641.2 L1418.0,2641.2 L1420.4,2641.2 L1422.9,2641.2 L1425.4,2641.2 L1427.9,2641.2 L1430.3,2641.2 L1432.8,2641.2 L1435.3,2641.2 L1437.8,2641.2 L1440.2,2641.2 L1442.7,2641.2 L1445.2,2641.2 L1447.7,2641.2 L1450.1,2641.2 L1452.6,2641.2 L1455.1,2641.2 L1457.5,2641.2 L1460.0,2641.2 L1462.5,2641.2 L1465.0,2641.2 L1467.4,2641.2 L1469.9,2641.2 L1472.4,2641.2 L1474.9,2641.2 L1477.3,2641.2 L1479.8,2641.2 L1482.3,2641.2 L1484.8,2641.2 L1487.2,2641.2 L1489.7,2641.2 L1492.2,2641.2 L1494.7,2641.2 L1497.1,2641.2 L1499.6,2641.2 L1502.1,2641.3 L1504.5,2641.3 L1507.0,2641.3 L1509.5,2641.3 L1512.0,2641.3 L1514.4,2641.3 L1516.9,2641.3 L1519.4,2641.3 L1521.9,2641.3 L1524.3,2641.3 L1526.8,2641.3 L1529.3,2641.3 L1531.8,2641.3 L1534.2,2641.3 L1536.7,2641.3 L1539.2,2641.3 L1541.6,2641.3 L1544.1,2641.3 L1546.6,2641.3 L1549.1,2641.3 L1551.5,2641.3 L1554.0,2641.3 L1556.5,2641.3 L1559.0,2641.3 L1561.4,2641.3 L1563.9,2641.3 L1566.4,2641.3 L1568.9,2641.3 L1571.3,2641.3 L1573.8,2641.3 L1576.3,2641.3 L1578.8,2641.3 L1581.2,2641.3 L1583.7,2641.3 L1586.2,2641.3 L1588.6,2641.3 L1591.1,2641.3 L1593.6,2641.3 L1596.1,2641.3 L1598.5,2641.3 L1601.0,2641.3 L1603.5,2641.3 L1606.0,2641.3 L1608.4,2641.3 L1610.9,2641.3 L1613.4,2641.3 L1615.9,2641.3 L1618.3,2641.3 L1620.8,2641.3" stroke="#00ff00" stroke-width="4.6" stroke-dasharray="21.5 33" stroke-linecap="round" stroke-dashoffset="0"/>
<path d="M136.7,2641.4 L139.2,2641.4 L141.6,2641.4 L144.1,2641.4 L146.6,2641.4 L149.1,2641.4 L151.5,2641.4 L154.0,2641.4 L156.5,2641.4 L159.0,2641.4 L161.4,2641.4 L163.9,2641.4 L166.4,2641.4 L168.9,2641.4 L171.3,2641.4 L173.8,2641.4 L176.3,2641.4 L178.7,2641.4 L181.2,2641.4 L183.7,2641.4 L186.2,2641.4 L188.6,2641.4 L191.1,2641.4 L193.6,2641.4 L196.1,2641.4 L198.5,2641.4 L201.0,2641.4 L203.5,2641.4 L206.0,2641.4 L208.4,2641.4 L210.9,2641.4 L213.4,2641.4 L215.9,2641.4 L218.3,2641.4 L220.8,2641.4 L223.3,2641.4 L225.7,2641.4 L228.2,2641.4 L230.7,2641.3 L233.2,2641.3 L235.6,2641.3 L238.1,2641.3 L240.6,2641.3 L243.1,2641.3 L245.5,2641.3 L248.0,2641.3 L250.5,2641.3 L253.0,2641.3 L255.4,2641.3 L257.9,2641.3 L260.4,2641.3 L262.8,2641.3 L265.3,2641.3 L267.8,2641.3 L270.3,2641.3 L272.7,2641.3 L275.2,2641.3 L277.7,2641.3 L280.2,2641.3 L282.6,2641.3 L285.1,2641.3 L287.6,2641.3 L290.1,2641.3 L292.5,2641.3 L295.0,2641.3 L297.5,2641.3 L300.0,2641.3 L302.4,2641.3 L304.9,2641.3 L307.4,2641.3 L309.8,2641.3 L312.3,2641.3 L314.8,2641.3 L317.3,2641.3 L319.7,2641.3 L322.2,2641.3 L324.7,2641.3 L327.2,2641.3 L329.6,2641.3 L332.1,2641.3 L334.6,2641.3 L337.1,2641.3 L339.5,2641.3 L342.0,2641.3 L344.5,2641.3 L346.9,2641.3 L349.4,2641.3 L351.9,2641.3 L354.4,2641.3 L356.8,2641.3 L359.3,2641.3 L361.8,2641.3 L364.3,2641.3 L366.7,2641.3 L369.2,2641.3 L371.7,2641.3 L374.2,2641.3 L376.6,2641.3 L379.1,2641.3 L381.6,2641.3 L384.0,2641.3 L386.5,2641.3 L389.0,2641.3 L391.5,2641.3 L393.9,2641.3 L396.4,2641.3 L398.9,2641.3 L401.4,2641.3 L403.8,2641.3 L406.3,2641.3 L408.8,2641.3 L411.3,2641.3 L413.7,2641.3 L416.2,2641.3 L418.7,2641.3 L421.2,2641.3 L423.6,2641.3 L426.1,2641.2 L428.6,2641.2 L431.0,2641.2 L433.5,2641.2 L436.0,2641.2 L438.5,2641.2 L440.9,2641.2 L443.4,2641.2 L445.9,2641.2 L448.4,2641.2 L450.8,2641.2 L453.3,2641.2 L455.8,2641.2 L458.3,2641.2 L460.7,2641.2 L463.2,2641.2 L465.7,2641.2 L468.1,2641.2 L470.6,2641.2 L473.1,2641.2 L475.6,2641.2 L478.0,2641.2 L480.5,2641.2 L483.0,2641.2 L485.5,2641.2 L487.9,2641.2 L490.4,2641.2 L492.9,2641.2 L495.4,2641.2 L497.8,2641.2 L500.3,2641.2 L502.8,2641.2 L505.3,2641.2 L507.7,2641.2 L510.2,2641.2 L512.7,2641.2 L515.1,2641.2 L517.6,2641.2 L520.1,2641.2 L522.6,2641.2 L525.0,2641.2 L527.5,2641.2 L530.0,2641.1 L532.5,2641.1 L534.9,2641.1 L537.4,2641.1 L539.9,2641.1 L542.4,2641.1 L544.8,2641.1 L547.3,2641.1 L549.8,2641.1 L552.2,2641.1 L554.7,2641.1 L557.2,2641.1 L559.7,2641.1 L562.1,2641.1 L564.6,2641.1 L567.1,2641.1 L569.6,2641.1 L572.0,2641.1 L574.5,2641.1 L577.0,2641.1 L579.5,2641.1 L581.9,2641.1 L584.4,2641.1 L586.9,2641.1 L589.4,2641.1 L591.8,2641.1 L594.3,2641.1 L596.8,2641.1 L599.2,2641.0 L601.7,2641.0 L604.2,2641.0 L606.7,2641.0 L609.1,2641.0 L611.6,2641.0 L614.1,2641.0 L616.6,2641.0 L619.0,2641.0 L621.5,2641.0 L624.0,2641.0 L626.5,2641.0 L628.9,2641.0 L631.4,2641.0 L633.9,2641.0 L636.3,2641.0 L638.8,2641.0 L641.3,2641.0 L643.8,2641.0 L646.2,2640.9 L648.7,2640.9 L651.2,2640.9 L653.7,2640.9 L656.1,2640.9 L658.6,2640.9 L661.1,2640.9 L663.6,2640.9 L666.0,2640.9 L668.5,2640.9 L671.0,2640.9 L673.4,2640.9 L675.9,2640.9 L678.4,2640.9 L680.9,2640.9 L683.3,2640.8 L685.8,2640.8 L688.3,2640.8 L690.8,2640.8 L693.2,2640.8 L695.7,2640.8 L698.2,2640.8 L700.7,2640.8 L703.1,2640.8 L705.6,2640.8 L708.1,2640.8 L710.6,2640.7 L713.0,2640.7 L715.5,2640.7 L718.0,2640.7 L720.4,2640.7 L722.9,2640.7 L725.4,2640.7 L727.9,2640.7 L730.3,2640.7 L732.8,2640.7 L735.3,2640.6 L737.8,2640.6 L740.2,2640.6 L742.7,2640.6 L745.2,2640.6 L747.7,2640.6 L750.1,2640.6 L752.6,2640.6 L755.1,2640.5 L757.5,2640.5 L760.0,2640.5 L762.5,2640.5 L765.0,2640.5 L767.4,2640.5 L769.9,2640.5 L772.4,2640.4 L774.9,2640.4 L777.3,2640.4 L779.8,2640.4 L782.3,2640.4 L784.8,2640.4 L787.2,2640.3 L789.7,2640.3 L792.2,2640.3 L794.7,2640.3 L797.1,2640.3 L799.6,2640.2 L802.1,2640.2 L804.5,2640.2 L807.0,2640.2 L809.5,2640.2 L812.0,2640.1 L814.4,2640.1 L816.9,2640.1 L819.4,2640.1 L821.9,2640.0 L824.3,2640.0 L826.8,2640.0 L829.3,2639.9 L831.8,2639.9 L834.2,2639.9 L836.7,2639.9 L839.2,2639.8 L841.6,2639.8 L844.1,2639.8 L846.6,2639.7 L849.1,2639.7 L851.5,2639.7 L854.0,2639.6 L856.5,2639.6 L859.0,2639.5 L861.4,2639.5 L863.9,2639.5 L866.4,2639.4 L868.9,2639.4 L871.3,2639.3 L873.8,2639.3 L876.3,2639.2 L878.8,2639.2 L881.2,2639.1 L883.7,2639.1 L886.2,2639.0 L888.6,2639.0 L891.1,2638.9 L893.6,2638.8 L896.1,2638.8 L898.5,2638.7 L901.0,2638.6 L903.5,2638.6 L906.0,2638.5 L908.4,2638.4 L910.9,2638.3 L913.4,2638.2 L915.9,2638.2 L918.3,2638.1 L920.8,2638.0 L923.3,2637.9 L925.7,2637.8 L928.2,2637.7 L930.7,2637.5 L933.2,2637.4 L935.6,2637.3 L938.1,2637.2 L940.6,2637.0 L943.1,2636.9 L945.5,2636.8 L948.0,2636.6 L950.5,2636.4 L953.0,2636.3 L955.4,2636.1 L957.9,2635.9 L960.4,2635.7 L962.8,2635.5 L965.3,2635.3 L967.8,2635.0 L970.3,2634.8 L972.7,2634.5 L975.2,2634.3 L977.7,2634.0 L980.2,2633.6 L982.6,2633.3 L985.1,2633.0 L987.6,2632.6 L990.1,2632.2 L992.5,2631.8 L995.0,2631.3 L997.5,2630.8 L1000.0,2630.3 L1002.4,2629.7 L1004.9,2629.1 L1007.4,2628.4 L1009.8,2627.7 L1012.3,2627.0 L1014.8,2626.1 L1017.3,2625.2 L1019.7,2624.2 L1022.2,2623.1 L1024.7,2621.9 L1027.2,2620.6 L1029.6,2619.1 L1032.1,2617.5 L1034.6,2615.7 L1037.1,2613.7 L1039.5,2611.5 L1042.0,2609.0 L1044.5,2606.1 L1046.9,2602.9 L1049.4,2599.2 L1051.9,2595.0 L1054.4,2590.1 L1056.8,2584.4 L1059.3,2577.8 L1061.8,2569.9 L1064.3,2560.6 L1066.7,2549.4 L1069.2,2535.8 L1071.7,2519.2 L1074.2,2498.5 L1076.6,2472.6 L1079.1,2439.6 L1081.6,2397.2 L1084.1,2342.3 L1086.5,2270.8 L1089.0,2178.6 L1091.5,2063.7 L1093.9,1931.6 L1096.4,1803.8 L1098.9,1721.0 L1101.4,1721.0 L1103.8,1803.8 L1106.3,1931.6 L1108.8,2063.7 L1111.3,2178.6 L1113.7,2270.8 L1116.2,2342.3 L1118.7,2397.2 L1121.2,2439.6 L1123.6,2472.6 L1126.1,2498.5 L1128.6,2519.2 L1131.0,2535.8 L1133.5,2549.4 L1136.0,2560.6 L1138.5,2569.9 L1140.9,2577.8 L1143.4,2584.4 L1145.9,2590.1 L1148.4,2595.0 L1150.8,2599.2 L1153.3,2602.9 L1155.8,2606.1 L1158.3,2609.0 L1160.7,2611.5 L1163.2,2613.7 L1165.7,2615.7 L1168.1,2617.5 L1170.6,2619.1 L1173.1,2620.6 L1175.6,2621.9 L1178.0,2623.1 L1180.5,2624.2 L1183.0,2625.2 L1185.5,2626.1 L1187.9,2627.0 L1190.4,2627.7 L1192.9,2628.4 L1195.4,2629.1 L1197.8,2629.7 L1200.3,2630.3 L1202.8,2630.8 L1205.3,2631.3 L1207.7,2631.8 L1210.2,2632.2 L1212.7,2632.6 L1215.1,2633.0 L1217.6,2633.3 L1220.1,2633.6 L1222.6,2634.0 L1225.0,2634.3 L1227.5,2634.5 L1230.0,2634.8 L1232.5,2635.0 L1234.9,2635.3 L1237.4,2635.5 L1239.9,2635.7 L1242.4,2635.9 L1244.8,2636.1 L1247.3,2636.3 L1249.8,2636.4 L1252.2,2636.6 L1254.7,2636.8 L1257.2,2636.9 L1259.7,2637.0 L1262.1,2637.2 L1264.6,2637.3 L1267.1,2637.4 L1269.6,2637.5 L1272.0,2637.7 L1274.5,2637.8 L1277.0,2637.9 L1279.5,2638.0 L1281.9,2638.1 L1284.4,2638.2 L1286.9,2638.2 L1289.4,2638.3 L1291.8,2638.4 L1294.3,2638.5 L1296.8,2638.6 L1299.2,2638.6 L1301.7,2638.7 L1304.2,2638.8 L1306.7,2638.8 L1309.1,2638.9 L1311.6,2639.0 L1314.1,2639.0 L1316.6,2639.1 L1319.0,2639.1 L1321.5,2639.2 L1324.0,2639.2 L1326.5,2639.3 L1328.9,2639.3 L1331.4,2639.4 L1333.9,2639.4 L1336.3,2639.5 L1338.8,2639.5 L1341.3,2639.5 L1343.8,2639.6 L1346.2,2639.6 L1348.7,2639.7 L1351.2,2639.7 L1353.7,2639.7 L1356.1,2639.8 L1358.6,2639.8 L1361.1,2639.8 L1363.6,2639.9 L1366.0,2639.9 L1368.5,2639.9 L1371.0,2639.9 L1373.5,2640.0 L1375.9,2640.0 L1378.4,2640.0 L1380.9,2640.1 L1383.3,2640.1 L1385.8,2640.1 L1388.3,2640.1 L1390.8,2640.2 L1393.2,2640.2 L1395.7,2640.2 L1398.2,2640.2 L1400.7,2640.2 L1403.1,2640.3 L1405.6,2640.3 L1408.1,2640.3 L1410.6,2640.3 L1413.0,2640.3 L1415.5,2640.4 L1418.0,2640.4 L1420.4,2640.4 L1422.9,2640.4 L1425.4,2640.4 L1427.9,2640.4 L1430.3,2640.5 L1432.8,2640.5 L1435.3,2640.5 L1437.8,2640.5 L1440.2,2640.5 L1442.7,2640.5 L1445.2,2640.5 L1447.7,2640.6 L1450.1,2640.6 L1452.6,2640.6 L1455.1,2640.6 L1457.5,2640.6 L1460.0,2640.6 L1462.5,2640.6 L1465.0,2640.6 L1467.4,2640.7 L1469.9,2640.7 L1472.4,2640.7 L1474.9,2640.7 L1477.3,2640.7 L1479.8,2640.7 L1482.3,2640.7 L1484.8,2640.7 L1487.2,2640.7 L1489.7,2640.7 L1492.2,2640.8 L1494.7,2640.8 L1497.1,2640.8 L1499.6,2640.8 L1502.1,2640.8 L1504.5,2640.8 L1507.0,2640.8 L1509.5,2640.8 L1512.0,2640.8 L1514.4,2640.8 L1516.9,2640.8 L1519.4,2640.9 L1521.9,2640.9 L1524.3,2640.9 L1526.8,2640.9 L1529.3,2640.9 L1531.8,2640.9 L1534.2,2640.9 L1536.7,2640.9 L1539.2,2640.9 L1541.6,2640.9 L1544.1,2640.9 L1546.6,2640.9 L1549.1,2640.9 L1551.5,2640.9 L1554.0,2640.9 L1556.5,2641.0 L1559.0,2641.0 L1561.4,2641.0 L1563.9,2641.0 L1566.4,2641.0 L1568.9,2641.0 L1571.3,2641.0 L1573.8,2641.0 L1576.3,2641.0 L1578.8,2641.0 L1581.2,2641.0 L1583.7,2641.0 L1586.2,2641.0 L1588.6,2641.0 L1591.1,2641.0 L1593.6,2641.0 L1596.1,2641.0 L1598.5,2641.0 L1601.0,2641.0 L1603.5,2641.1 L1606.0,2641.1 L1608.4,2641.1 L1610.9,2641.1 L1613.4,2641.1 L1615.9,2641.1 L1618.3,2641.1 L1620.8,2641.1" stroke="#ff80e6" stroke-width="4.6" stroke-dasharray="21.5 33" stroke-linecap="round" stroke-dashoffset="0"/>
<path d="M136.7,2641.5 L139.2,2641.5 L141.6,2641.5 L144.1,2641.5 L146.6,2641.5 L149.1,2641.5 L151.5,2641.5 L154.0,2641.5 L156.5,2641.5 L159.0,2641.5 L161.4,2641.5 L163.9,2641.5 L166.4,2641.5 L168.9,2641.5 L171.3,2641.5 L173.8,2641.5 L176.3,2641.5 L178.7,2641.5 L181.2,2641.5 L183.7,2641.5 L186.2,2641.5 L188.6,2641.5 L191.1,2641.5 L193.6,2641.5 L196.1,2641.5 L198.5,2641.5 L201.0,2641.5 L203.5,2641.5 L206.0,2641.5 L208.4,2641.5 L210.9,2641.5 L213.4,2641.5 L215.9,2641.5 L218.3,2641.5 L220.8,2641.5 L223.3,2641.5 L225.7,2641.5 L228.2,2641.5 L230.7,2641.5 L233.2,2641.5 L235.6,2641.5 L238.1,2641.5 L240.6,2641.5 L243.1,2641.5 L245.5,2641.5 L248.0,2641.5 L250.5,2641.5 L253.0,2641.5 L255.4,2641.5 L257.9,2641.5 L260.4,2641.5 L262.8,2641.5 L265.3,2641.5 L267.8,2641.5 L270.3,2641.5 L272.7,2641.5 L275.2,2641.5 L277.7,2641.5 L280.2,2641.5 L282.6,2641.5 L285.1,2641.5 L287.6,2641.5 L290.1,2641.5 L292.5,2641.5 L295.0,2641.5 L297.5,2641.5 L300.0,2641.5 L302.4,2641.5 L304.9,2641.5 L307.4,2641.5 L309.8,2641.5 L312.3,2641.5 L314.8,2641.5 L317.3,2641.5 L319.7,2641.5 L322.2,2641.5 L324.7,2641.5 L327.2,2641.5 L329.6,2641.5 L332.1,2641.5 L334.6,2641.5 L337.1,2641.5 L339.5,2641.5 L342.0,2641.5 L344.5,2641.5 L346.9,2641.5 L349.4,2641.5 L351.9,2641.5 L354.4,2641.5 L356.8,2641.5 L359.3,2641.5 L361.8,2641.5 L364.3,2641.5 L366.7,2641.5 L369.2,2641.5 L371.7,2641.5 L374.2,2641.5 L376.6,2641.5 L379.1,2641.5 L381.6,2641.5 L384.0,2641.5 L386.5,2641.5 L389.0,2641.5 L391.5,2641.5 L393.9,2641.5 L396.4,2641.5 L398.9,2641.5 L401.4,2641.5 L403.8,2641.5 L406.3,2641.5 L408.8,2641.5 L411.3,2641.5 L413.7,2641.5 L416.2,2641.5 L418.7,2641.5 L421.2,2641.5 L423.6,2641.5 L426.1,2641.5 L428.6,2641.5 L431.0,2641.5 L433.5,2641.5 L436.0,2641.5 L438.5,2641.5 L440.9,2641.5 L443.4,2641.5 L445.9,2641.5 L448.4,2641.5 L450.8,2641.5 L453.3,2641.5 L455.8,2641.5 L458.3,2641.5 L460.7,2641.5 L463.2,2641.5 L465.7,2641.5 L468.1,2641.5 L470.6,2641.5 L473.1,2641.5 L475.6,2641.5 L478.0,2641.5 L480.5,2641.5 L483.0,2641.5 L485.5,2641.5 L487.9,2641.5 L490.4,2641.5 L492.9,2641.5 L495.4,2641.5 L497.8,2641.5 L500.3,2641.5 L502.8,2641.5 L505.3,2641.5 L507.7,2641.5 L510.2,2641.5 L512.7,2641.5 L515.1,2641.5 L517.6,2641.5 L520.1,2641.5 L522.6,2641.5 L525.0,2641.5 L527.5,2641.5 L530.0,2641.5 L532.5,2641.5 L534.9,2641.5 L537.4,2641.5 L539.9,2641.5 L542.4,2641.5 L544.8,2641.5 L547.3,2641.5 L549.8,2641.5 L552.2,2641.5 L554.7,2641.5 L557.2,2641.5 L559.7,2641.5 L562.1,2641.5 L564.6,2641.5 L567.1,2641.5 L569.6,2641.5 L572.0,2641.5 L574.5,2641.5 L577.0,2641.5 L579.5,2641.5 L581.9,2641.5 L584.4,2641.5 L586.9,2641.5 L589.4,2641.5 L591.8,2641.5 L594.3,2641.5 L596.8,2641.5 L599.2,2641.5 L601.7,2641.5 L604.2,2641.5 L606.7,2641.5 L609.1,2641.5 L611.6,2641.5 L614.1,2641.5 L616.6,2641.5 L619.0,2641.5 L621.5,2641.5 L624.0,2641.5 L626.5,2641.5 L628.9,2641.5 L631.4,2641.5 L633.9,2641.5 L636.3,2641.5 L638.8,2641.5 L641.3,2641.5 L643.8,2641.5 L646.2,2641.5 L648.7,2641.5 L651.2,2641.5 L653.7,2641.5 L656.1,2641.5 L658.6,2641.5 L661.1,2641.5 L663.6,2641.5 L666.0,2641.5 L668.5,2641.5 L671.0,2641.5 L673.4,2641.5 L675.9,2641.5 L678.4,2641.5 L680.9,2641.5 L683.3,2641.5 L685.8,2641.5 L688.3,2641.5 L690.8,2641.5 L693.2,2641.5 L695.7,2641.5 L698.2,2641.5 L700.7,2641.5 L703.1,2641.5 L705.6,2641.5 L708.1,2641.5 L710.6,2641.5 L713.0,2641.5 L715.5,2641.5 L718.0,2641.5 L720.4,2641.5 L722.9,2641.5 L725.4,2641.5 L727.9,2641.5 L730.3,2641.5 L732.8,2641.5 L735.3,2641.5 L737.8,2641.5 L740.2,2641.5 L742.7,2641.5 L745.2,2641.5 L747.7,2641.5 L750.1,2641.5 L752.6,2641.5 L755.1,2641.5 L757.5,2641.5 L760.0,2641.5 L762.5,2641.5 L765.0,2641.5 L767.4,2641.5 L769.9,2641.4 L772.4,2641.4 L774.9,2641.4 L777.3,2641.4 L779.8,2641.4 L782.3,2641.4 L784.8,2641.4 L787.2,2641.4 L789.7,2641.4 L792.2,2641.4 L794.7,2641.4 L797.1,2641.4 L799.6,2641.4 L802.1,2641.4 L804.5,2641.4 L807.0,2641.4 L809.5,2641.4 L812.0,2641.4 L814.4,2641.4 L816.9,2641.4 L819.4,2641.4 L821.9,2641.4 L824.3,2641.4 L826.8,2641.4 L829.3,2641.4 L831.8,2641.4 L834.2,2641.4 L836.7,2641.4 L839.2,2641.4 L841.6,2641.4 L844.1,2641.4 L846.6,2641.4 L849.1,2641.4 L851.5,2641.4 L854.0,2641.4 L856.5,2641.4 L859.0,2641.4 L861.4,2641.4 L863.9,2641.4 L866.4,2641.4 L868.9,2641.4 L871.3,2641.4 L873.8,2641.4 L876.3,2641.4 L878.8,2641.4 L881.2,2641.4 L883.7,2641.4 L886.2,2641.4 L888.6,2641.4 L891.1,2641.4 L893.6,2641.4 L896.1,2641.4 L898.5,2641.4 L901.0,2641.4 L903.5,2641.4 L906.0,2641.4 L908.4,2641.4 L910.9,2641.4 L913.4,2641.4 L915.9,2641.4 L918.3,2641.4 L920.8,2641.4 L923.3,2641.4 L925.7,2641.4 L928.2,2641.4 L930.7,2641.3 L933.2,2641.3 L935.6,2641.3 L938.1,2641.3 L940.6,2641.3 L943.1,2641.3 L945.5,2641.3 L948.0,2641.3 L950.5,2641.3 L953.0,2641.3 L955.4,2641.3 L957.9,2641.3 L960.4,2641.3 L962.8,2641.3 L965.3,2641.3 L967.8,2641.3 L970.3,2641.3 L972.7,2641.3 L975.2,2641.3 L977.7,2641.3 L980.2,2641.2 L982.6,2641.2 L985.1,2641.2 L987.6,2641.2 L990.1,2641.2 L992.5,2641.2 L995.0,2641.2 L997.5,2641.2 L1000.0,2641.2 L1002.4,2641.2 L1004.9,2641.1 L1007.4,2641.1 L1009.8,2641.1 L1012.3,2641.1 L1014.8,2641.1 L1017.3,2641.1 L1019.7,2641.1 L1022.2,2641.0 L1024.7,2641.0 L1027.2,2641.0 L1029.6,2641.0 L1032.1,2641.0 L1034.6,2640.9 L1037.1,2640.9 L1039.5,2640.9 L1042.0,2640.9 L1044.5,2640.8 L1046.9,2640.8 L1049.4,2640.8 L1051.9,2640.7 L1054.4,2640.7 L1056.8,2640.6 L1059.3,2640.6 L1061.8,2640.5 L1064.3,2640.5 L1066.7,2640.4 L1069.2,2640.3 L1071.7,2640.3 L1074.2,2640.2 L1076.6,2640.1 L1079.1,2640.0 L1081.6,2639.9 L1084.1,2639.8 L1086.5,2639.6 L1089.0,2639.5 L1091.5,2639.3 L1093.9,2639.1 L1096.4,2638.9 L1098.9,2638.6 L1101.4,2638.3 L1103.8,2638.0 L1106.3,2637.5 L1108.8,2637.1 L1111.3,2636.5 L1113.7,2635.8 L1116.2,2635.0 L1118.7,2634.0 L1121.2,2632.8 L1123.6,2631.3 L1126.1,2629.4 L1128.6,2627.0 L1131.0,2624.0 L1133.5,2620.2 L1136.0,2615.5 L1138.5,2610.0 L1140.9,2603.9 L1143.4,2598.4 L1145.9,2595.0 L1148.4,2595.0 L1150.8,2598.4 L1153.3,2603.9 L1155.8,2610.0 L1158.3,2615.5 L1160.7,2620.2 L1163.2,2624.0 L1165.7,2627.0 L1168.1,2629.4 L1170.6,2631.3 L1173.1,2632.8 L1175.6,2634.0 L1178.0,2635.0 L1180.5,2635.8 L1183.0,2636.5 L1185.5,2637.1 L1187.9,2637.5 L1190.4,2638.0 L1192.9,2638.3 L1195.4,2638.6 L1197.8,2638.9 L1200.3,2639.1 L1202.8,2639.3 L1205.3,2639.5 L1207.7,2639.6 L1210.2,2639.8 L1212.7,2639.9 L1215.1,2640.0 L1217.6,2640.1 L1220.1,2640.2 L1222.6,2640.3 L1225.0,2640.3 L1227.5,2640.4 L1230.0,2640.5 L1232.5,2640.5 L1234.9,2640.6 L1237.4,2640.6 L1239.9,2640.7 L1242.4,2640.7 L1244.8,2640.8 L1247.3,2640.8 L1249.8,2640.8 L1252.2,2640.9 L1254.7,2640.9 L1257.2,2640.9 L1259.7,2640.9 L1262.1,2641.0 L1264.6,2641.0 L1267.1,2641.0 L1269.6,2641.0 L1272.0,2641.0 L1274.5,2641.1 L1277.0,2641.1 L1279.5,2641.1 L1281.9,2641.1 L1284.4,2641.1 L1286.9,2641.1 L1289.4,2641.1 L1291.8,2641.2 L1294.3,2641.2 L1296.8,2641.2 L1299.2,2641.2 L1301.7,2641.2 L1304.2,2641.2 L1306.7,2641.2 L1309.1,2641.2 L1311.6,2641.2 L1314.1,2641.2 L1316.6,2641.3 L1319.0,2641.3 L1321.5,2641.3 L1324.0,2641.3 L1326.5,2641.3 L1328.9,2641.3 L1331.4,2641.3 L1333.9,2641.3 L1336.3,2641.3 L1338.8,2641.3 L1341.3,2641.3 L1343.8,2641.3 L1346.2,2641.3 L1348.7,2641.3 L1351.2,2641.3 L1353.7,2641.3 L1356.1,2641.3 L1358.6,2641.3 L1361.1,2641.3 L1363.6,2641.3 L1366.0,2641.4 L1368.5,2641.4 L1371.0,2641.4 L1373.5,2641.4 L1375.9,2641.4 L1378.4,2641.4 L1380.9,2641.4 L1383.3,2641.4 L1385.8,2641.4 L1388.3,2641.4 L1390.8,2641.4 L1393.2,2641.4 L1395.7,2641.4 L1398.2,2641.4 L1400.7,2641.4 L1403.1,2641.4 L1405.6,2641.4 L1408.1,2641.4 L1410.6,2641.4 L1413.0,2641.4 L1415.5,2641.4 L1418.0,2641.4 L1420.4,2641.4 L1422.9,2641.4 L1425.4,2641.4 L1427.9,2641.4 L1430.3,2641.4 L1432.8,2641.4 L1435.3,2641.4 L1437.8,2641.4 L1440.2,2641.4 L1442.7,2641.4 L1445.2,2641.4 L1447.7,2641.4 L1450.1,2641.4 L1452.6,2641.4 L1455.1,2641.4 L1457.5,2641.4 L1460.0,2641.4 L1462.5,2641.4 L1465.0,2641.4 L1467.4,2641.4 L1469.9,2641.4 L1472.4,2641.4 L1474.9,2641.4 L1477.3,2641.4 L1479.8,2641.4 L1482.3,2641.4 L1484.8,2641.4 L1487.2,2641.4 L1489.7,2641.4 L1492.2,2641.4 L1494.7,2641.4 L1497.1,2641.4 L1499.6,2641.4 L1502.1,2641.4 L1504.5,2641.4 L1507.0,2641.4 L1509.5,2641.4 L1512.0,2641.4 L1514.4,2641.4 L1516.9,2641.4 L1519.4,2641.4 L1521.9,2641.4 L1524.3,2641.4 L1526.8,2641.5 L1529.3,2641.5 L1531.8,2641.5 L1534.2,2641.5 L1536.7,2641.5 L1539.2,2641.5 L1541.6,2641.5 L1544.1,2641.5 L1546.6,2641.5 L1549.1,2641.5 L1551.5,2641.5 L1554.0,2641.5 L1556.5,2641.5 L1559.0,2641.5 L1561.4,2641.5 L1563.9,2641.5 L1566.4,2641.5 L1568.9,2641.5 L1571.3,2641.5 L1573.8,2641.5 L1576.3,2641.5 L1578.8,2641.5 L1581.2,2641.5 L1583.7,2641.5 L1586.2,2641.5 L1588.6,2641.5 L1591.1,2641.5 L1593.6,2641.5 L1596.1,2641.5 L1598.5,2641.5 L1601.0,2641.5 L1603.5,2641.5 L1606.0,2641.5 L1608.4,2641.5 L1610.9,2641.5 L1613.4,2641.5 L1615.9,2641.5 L1618.3,2641.5 L1620.8,2641.5" stroke="#8000ff" stroke-width="4.6" stroke-dasharray="21.5 33" stroke-linecap="round" stroke-dashoffset="0"/>
<g fill="#ff0000" stroke="none"><circle cx="153.8" cy="2639.0" r="6.9"/><circle cx="178.2" cy="2638.3" r="6.9"/><circle cx="201.4" cy="2638.3" r="6.9"/><circle cx="224.3" cy="2638.5" r="6.9"/><circle cx="246.7" cy="2644.0" r="6.9"/><circle cx="269.3" cy="2647.6" r="6.9"/><circle cx="292.6" cy="2649.3" r="6.9"/><circle cx="315.4" cy="2646.6" r="6.9"/><circle cx="337.1" cy="2646.2" r="6.9"/><circle cx="357.5" cy="2645.5" r="6.9"/><circle cx="380.9" cy="2645.8" r="6.9"/><circle cx="404.9" cy="2646.0" r="6.9"/><circle cx="424.7" cy="2647.3" r="6.9"/><circle cx="447.2" cy="2645.9" r="6.9"/><circle cx="470.2" cy="2645.9" r="6.9"/><circle cx="492.9" cy="2645.5" r="6.9"/><circle cx="516.5" cy="2640.4" r="6.9"/><circle cx="539.8" cy="2640.1" r="6.9"/><circle cx="562.0" cy="2638.2" r="6.9"/><circle cx="585.6" cy="2637.7" r="6.9"/><circle cx="607.9" cy="2637.8" r="6.9"/><circle cx="629.5" cy="2636.1" r="6.9"/><circle cx="653.7" cy="2635.5" r="6.9"/><circle cx="677.4" cy="2633.9" r="6.9"/><circle cx="699.1" cy="2630.8" r="6.9"/><circle cx="721.7" cy="2625.9" r="6.9"/><circle cx="741.8" cy="2619.3" r="6.9"/><circle cx="761.4" cy="2605.8" r="6.9"/><circle cx="775.3" cy="2585.4" r="6.9"/><circle cx="784.5" cy="2562.2" r="6.9"/><circle cx="791.5" cy="2538.2" r="6.9"/><circle cx="797.4" cy="2514.0" r="6.9"/><circle cx="803.1" cy="2489.6" r="6.9"/><circle cx="811.4" cy="2466.3" r="6.9"/><circle cx="823.1" cy="2484.7" r="6.9"/><circle cx="829.1" cy="2508.9" r="6.9"/><circle cx="834.9" cy="2533.2" r="6.9"/><circle cx="841.3" cy="2557.4" r="6.9"/><circle cx="850.5" cy="2580.6" r="6.9"/><circle cx="863.7" cy="2601.5" r="6.9"/><circle cx="881.2" cy="2617.7" r="6.9"/><circle cx="903.6" cy="2618.1" r="6.9"/><circle cx="925.4" cy="2622.8" r="6.9"/><circle cx="948.9" cy="2624.9" r="6.9"/><circle cx="973.0" cy="2625.3" r="6.9"/><circle cx="996.3" cy="2624.9" r="6.9"/><circle cx="1019.0" cy="2619.9" r="6.9"/><circle cx="1039.3" cy="2608.2" r="6.9"/><circle cx="1053.5" cy="2588.5" r="6.9"/><circle cx="1062.3" cy="2565.2" r="6.9"/><circle cx="1067.8" cy="2540.9" r="6.9"/><circle cx="1071.8" cy="2516.2" r="6.9"/><circle cx="1074.7" cy="2491.4" r="6.9"/><circle cx="1076.9" cy="2466.5" r="6.9"/><circle cx="1078.8" cy="2441.5" r="6.9"/><circle cx="1080.3" cy="2416.6" r="6.9"/><circle cx="1081.7" cy="2391.6" r="6.9"/><circle cx="1082.9" cy="2366.6" r="6.9"/><circle cx="1084.0" cy="2341.7" r="6.9"/><circle cx="1084.9" cy="2316.7" r="6.9"/><circle cx="1085.7" cy="2291.7" r="6.9"/><circle cx="1086.5" cy="2266.7" r="6.9"/><circle cx="1087.3" cy="2241.7" r="6.9"/><circle cx="1088.0" cy="2216.7" r="6.9"/><circle cx="1088.6" cy="2191.7" r="6.9"/><circle cx="1089.2" cy="2166.8" r="6.9"/><circle cx="1089.8" cy="2141.8" r="6.9"/><circle cx="1090.3" cy="2116.8" r="6.9"/><circle cx="1090.8" cy="2091.8" r="6.9"/><circle cx="1091.3" cy="2066.8" r="6.9"/><circle cx="1091.8" cy="2041.8" r="6.9"/><circle cx="1092.3" cy="2016.8" r="6.9"/><circle cx="1092.8" cy="1991.8" r="6.9"/><circle cx="1093.2" cy="1966.8" r="6.9"/><circle cx="1093.7" cy="1941.8" r="6.9"/><circle cx="1094.1" cy="1916.8" r="6.9"/><circle cx="1094.6" cy="1891.8" r="6.9"/><circle cx="1095.1" cy="1866.8" r="6.9"/><circle cx="1095.6" cy="1841.8" r="6.9"/><circle cx="1096.1" cy="1816.8" r="6.9"/><circle cx="1096.6" cy="1791.8" r="6.9"/><circle cx="1097.2" cy="1766.8" r="6.9"/><circle cx="1097.9" cy="1741.8" r="6.9"/><circle cx="1099.0" cy="1716.9" r="6.9"/><circle cx="1101.5" cy="1718.7" r="6.9"/><circle cx="1102.4" cy="1743.7" r="6.9"/><circle cx="1103.1" cy="1768.7" r="6.9"/><circle cx="1103.7" cy="1793.7" r="6.9"/><circle cx="1104.2" cy="1818.7" r="6.9"/><circle cx="1104.8" cy="1843.7" r="6.9"/><circle cx="1105.2" cy="1868.7" r="6.9"/><circle cx="1105.7" cy="1893.7" r="6.9"/><circle cx="1106.2" cy="1918.7" r="6.9"/><circle cx="1106.6" cy="1943.7" r="6.9"/><circle cx="1107.1" cy="1968.7" r="6.9"/><circle cx="1107.6" cy="1993.7" r="6.9"/><circle cx="1108.0" cy="2018.7" r="6.9"/><circle cx="1108.5" cy="2043.7" r="6.9"/><circle cx="1109.0" cy="2068.7" r="6.9"/><circle cx="1109.5" cy="2093.7" r="6.9"/><circle cx="1110.0" cy="2118.6" r="6.9"/><circle cx="1110.6" cy="2143.6" r="6.9"/><circle cx="1111.2" cy="2168.6" r="6.9"/><circle cx="1111.8" cy="2193.6" r="6.9"/><circle cx="1112.5" cy="2218.6" r="6.9"/><circle cx="1113.2" cy="2243.6" r="6.9"/><circle cx="1113.9" cy="2268.6" r="6.9"/><circle cx="1114.7" cy="2293.6" r="6.9"/><circle cx="1115.6" cy="2318.6" r="6.9"/><circle cx="1116.6" cy="2343.5" r="6.9"/><circle cx="1117.7" cy="2368.5" r="6.9"/><circle cx="1118.9" cy="2393.5" r="6.9"/><circle cx="1120.4" cy="2418.4" r="6.9"/><circle cx="1122.2" cy="2443.4" r="6.9"/><circle cx="1124.3" cy="2468.3" r="6.9"/><circle cx="1127.0" cy="2493.1" r="6.9"/><circle cx="1131.4" cy="2517.8" r="6.9"/><circle cx="1142.3" cy="2539.0" r="6.9"/><circle cx="1152.7" cy="2560.6" r="6.9"/><circle cx="1159.7" cy="2584.6" r="6.9"/><circle cx="1170.7" cy="2606.8" r="6.9"/><circle cx="1189.6" cy="2621.3" r="6.9"/><circle cx="1212.5" cy="2627.1" r="6.9"/><circle cx="1235.2" cy="2629.5" r="6.9"/><circle cx="1256.6" cy="2631.2" r="6.9"/><circle cx="1278.4" cy="2632.2" r="6.9"/><circle cx="1302.4" cy="2632.9" r="6.9"/><circle cx="1325.0" cy="2633.4" r="6.9"/><circle cx="1348.7" cy="2635.0" r="6.9"/><circle cx="1372.6" cy="2635.5" r="6.9"/><circle cx="1396.3" cy="2635.0" r="6.9"/><circle cx="1420.3" cy="2634.6" r="6.9"/><circle cx="1443.5" cy="2634.5" r="6.9"/><circle cx="1467.1" cy="2636.4" r="6.9"/><circle cx="1488.8" cy="2635.0" r="6.9"/><circle cx="1511.9" cy="2635.7" r="6.9"/><circle cx="1535.3" cy="2635.2" r="6.9"/><circle cx="1558.8" cy="2635.5" r="6.9"/><circle cx="1580.9" cy="2635.6" r="6.9"/><circle cx="1604.3" cy="2635.6" r="6.9"/></g>
</g>
<text x="191.0" y="1653.3" font-size="88.6" text-anchor="start" >(b)</text>
<text x="163.8" y="1810.6" font-size="88.8" text-anchor="start" >Standard graphite</text>
<text x="612.5" y="2385.4" font-size="89.0" text-anchor="start" >D</text>
<text x="1253.5" y="1716.7" font-size="89.0" text-anchor="start" >G</text>
<line x1="684.9" y1="2376.3" x2="778.3" y2="2441.3" stroke="#000" stroke-width="3.7" stroke-linecap="round"/><polygon points="799.6,2456.2 770.1,2446.0 779.8,2432.1" fill="#000"/>
<line x1="1230.1" y1="1692.8" x2="1135.6" y2="1701.3" stroke="#000" stroke-width="3.7" stroke-linecap="round"/><polygon points="1109.7,1703.6 1138.8,1692.5 1140.3,1709.4" fill="#000"/>
<clipPath id="clip3"><rect x="137.4" y="2927.3" width="1486.1" height="1093.0"/></clipPath>
<rect x="137.4" y="2927.3" width="1486.1" height="1093.0" fill="none" stroke="#000" stroke-width="4.5" stroke-linejoin="round"/>
<path d="M137.4,4020.3 v23 M261.2,4020.3 v12 M385.1,4020.3 v23 M508.9,4020.3 v12 M632.8,4020.3 v23 M756.6,4020.3 v12 M880.4,4020.3 v23 M1004.3,4020.3 v12 M1128.1,4020.3 v23 M1252.0,4020.3 v12 M1375.8,4020.3 v23 M1499.7,4020.3 v12 M1623.5,4020.3 v23" stroke="#000" stroke-width="4.4" stroke-linecap="round" fill="none"/>
<g clip-path="url(#clip3)" fill="none" stroke-linejoin="round">
<path d="M137.4,4014.6 L138.0,4014.6 L138.6,4014.6 L139.3,4014.6 L139.9,4014.6 L140.5,4014.6 L141.1,4014.5 L141.7,4014.5 L142.4,4014.5 L143.0,4014.5 L143.6,4014.5 L144.2,4014.5 L144.8,4014.5 L145.4,4014.5 L146.1,4014.5 L146.7,4014.5 L147.3,4014.5 L147.9,4014.5 L148.5,4014.4 L149.2,4014.4 L149.8,4014.4 L150.4,4014.4 L151.0,4014.4 L151.6,4014.4 L152.3,4014.4 L152.9,4014.4 L153.5,4014.4 L154.1,4014.3 L154.7,4014.3 L155.4,4014.3 L156.0,4014.3 L156.6,4014.3 L157.2,4014.3 L157.8,4014.3 L158.5,4014.3 L159.1,4014.2 L159.7,4014.2 L160.3,4014.2 L160.9,4014.2 L161.5,4014.2 L162.2,4014.2 L162.8,4014.2 L163.4,4014.1 L164.0,4014.1 L164.6,4014.1 L165.3,4014.1 L165.9,4014.1 L166.5,4014.1 L167.1,4014.1 L167.7,4014.0 L168.4,4014.0 L169.0,4014.0 L169.6,4014.0 L170.2,4014.0 L170.8,4013.9 L171.5,4013.9 L172.1,4013.9 L172.7,4013.9 L173.3,4013.9 L173.9,4013.9 L174.6,4013.8 L175.2,4013.8 L175.8,4013.8 L176.4,4013.8 L177.0,4013.8 L177.6,4013.7 L178.3,4013.7 L178.9,4013.7 L179.5,4013.7 L180.1,4013.7 L180.7,4013.6 L181.4,4013.6 L182.0,4013.6 L182.6,4013.6 L183.2,4013.6 L183.8,4013.5 L184.5,4013.5 L185.1,4013.5 L185.7,4013.5 L186.3,4013.5 L186.9,4013.4 L187.6,4013.4 L188.2,4013.4 L188.8,4013.4 L189.4,4013.3 L190.0,4013.3 L190.7,4013.3 L191.3,4013.3 L191.9,4013.3 L192.5,4013.2 L193.1,4013.2 L193.7,4013.2 L194.4,4013.2 L195.0,4013.1 L195.6,4013.1 L196.2,4013.1 L196.8,4013.1 L197.5,4013.0 L198.1,4013.0 L198.7,4013.0 L199.3,4013.0 L199.9,4012.9 L200.6,4012.9 L201.2,4012.9 L201.8,4012.9 L202.4,4012.8 L203.0,4012.8 L203.7,4012.8 L204.3,4012.8 L204.9,4012.7 L205.5,4012.7 L206.1,4012.7 L206.8,4012.7 L207.4,4012.6 L208.0,4012.6 L208.6,4012.6 L209.2,4012.6 L209.8,4012.5 L210.5,4012.5 L211.1,4012.5 L211.7,4012.5 L212.3,4012.4 L212.9,4012.4 L213.6,4012.4 L214.2,4012.4 L214.8,4012.3 L215.4,4012.3 L216.0,4012.3 L216.7,4012.3 L217.3,4012.2 L217.9,4012.2 L218.5,4012.2 L219.1,4012.1 L219.8,4012.1 L220.4,4012.1 L221.0,4012.1 L221.6,4012.0 L222.2,4012.0 L222.9,4012.0 L223.5,4012.0 L224.1,4011.9 L224.7,4011.9 L225.3,4011.9 L225.9,4011.8 L226.6,4011.8 L227.2,4011.8 L227.8,4011.8 L228.4,4011.7 L229.0,4011.7 L229.7,4011.7 L230.3,4011.6 L230.9,4011.6 L231.5,4011.6 L232.1,4011.6 L232.8,4011.5 L233.4,4011.5 L234.0,4011.5 L234.6,4011.5 L235.2,4011.4 L235.9,4011.4 L236.5,4011.4 L237.1,4011.3 L237.7,4011.3 L238.3,4011.3 L239.0,4011.3 L239.6,4011.2 L240.2,4011.2 L240.8,4011.2 L241.4,4011.1 L242.0,4011.1 L242.7,4011.1 L243.3,4011.1 L243.9,4011.0 L244.5,4011.0 L245.1,4011.0 L245.8,4010.9 L246.4,4010.9 L247.0,4010.9 L247.6,4010.9 L248.2,4010.8 L248.9,4010.8 L249.5,4010.8 L250.1,4010.7 L250.7,4010.7 L251.3,4010.7 L252.0,4010.7 L252.6,4010.6 L253.2,4010.6 L253.8,4010.6 L254.4,4010.5 L255.0,4010.5 L255.7,4010.5 L256.3,4010.5 L256.9,4010.4 L257.5,4010.4 L258.1,4010.4 L258.8,4010.4 L259.4,4010.3 L260.0,4010.3 L260.6,4010.3 L261.2,4010.2 L261.9,4010.2 L262.5,4010.2 L263.1,4010.2 L263.7,4010.1 L264.3,4010.1 L265.0,4010.1 L265.6,4010.0 L266.2,4010.0 L266.8,4010.0 L267.4,4010.0 L268.1,4009.9 L268.7,4009.9 L269.3,4009.9 L269.9,4009.9 L270.5,4009.8 L271.1,4009.8 L271.8,4009.8 L272.4,4009.8 L273.0,4009.7 L273.6,4009.7 L274.2,4009.7 L274.9,4009.6 L275.5,4009.6 L276.1,4009.6 L276.7,4009.6 L277.3,4009.5 L278.0,4009.5 L278.6,4009.5 L279.2,4009.5 L279.8,4009.4 L280.4,4009.4 L281.1,4009.4 L281.7,4009.4 L282.3,4009.3 L282.9,4009.3 L283.5,4009.3 L284.2,4009.3 L284.8,4009.2 L285.4,4009.2 L286.0,4009.2 L286.6,4009.2 L287.2,4009.1 L287.9,4009.1 L288.5,4009.1 L289.1,4009.1 L289.7,4009.0 L290.3,4009.0 L291.0,4009.0 L291.6,4009.0 L292.2,4008.9 L292.8,4008.9 L293.4,4008.9 L294.1,4008.9 L294.7,4008.8 L295.3,4008.8 L295.9,4008.8 L296.5,4008.8 L297.2,4008.7 L297.8,4008.7 L298.4,4008.7 L299.0,4008.7 L299.6,4008.7 L300.3,4008.6 L300.9,4008.6 L301.5,4008.6 L302.1,4008.6 L302.7,4008.5 L303.3,4008.5 L304.0,4008.5 L304.6,4008.5 L305.2,4008.5 L305.8,4008.4 L306.4,4008.4 L307.1,4008.4 L307.7,4008.4 L308.3,4008.3 L308.9,4008.3 L309.5,4008.3 L310.2,4008.3 L310.8,4008.3 L311.4,4008.2 L312.0,4008.2 L312.6,4008.2 L313.3,4008.2 L313.9,4008.2 L314.5,4008.1 L315.1,4008.1 L315.7,4008.1 L316.4,4008.1 L317.0,4008.1 L317.6,4008.0 L318.2,4008.0 L318.8,4008.0 L319.4,4008.0 L320.1,4008.0 L320.7,4007.9 L321.3,4007.9 L321.9,4007.9 L322.5,4007.9 L323.2,4007.9 L323.8,4007.9 L324.4,4007.8 L325.0,4007.8 L325.6,4007.8 L326.3,4007.8 L326.9,4007.8 L327.5,4007.7 L328.1,4007.7 L328.7,4007.7 L329.4,4007.7 L330.0,4007.7 L330.6,4007.6 L331.2,4007.6 L331.8,4007.6 L332.5,4007.6 L333.1,4007.6 L333.7,4007.5 L334.3,4007.5 L334.9,4007.5 L335.5,4007.5 L336.2,4007.5 L336.8,4007.4 L337.4,4007.4 L338.0,4007.4 L338.6,4007.4 L339.3,4007.4 L339.9,4007.3 L340.5,4007.3 L341.1,4007.3 L341.7,4007.3 L342.4,4007.2 L343.0,4007.2 L343.6,4007.2 L344.2,4007.2 L344.8,4007.1 L345.5,4007.1 L346.1,4007.1 L346.7,4007.1 L347.3,4007.1 L347.9,4007.0 L348.6,4007.0 L349.2,4007.0 L349.8,4007.0 L350.4,4006.9 L351.0,4006.9 L351.6,4006.9 L352.3,4006.9 L352.9,4006.8 L353.5,4006.8 L354.1,4006.8 L354.7,4006.7 L355.4,4006.7 L356.0,4006.7 L356.6,4006.7 L357.2,4006.6 L357.8,4006.6 L358.5,4006.6 L359.1,4006.6 L359.7,4006.5 L360.3,4006.5 L360.9,4006.5 L361.6,4006.4 L362.2,4006.4 L362.8,4006.4 L363.4,4006.4 L364.0,4006.3 L364.6,4006.3 L365.3,4006.3 L365.9,4006.2 L366.5,4006.2 L367.1,4006.2 L367.7,4006.1 L368.4,4006.1 L369.0,4006.1 L369.6,4006.0 L370.2,4006.0 L370.8,4006.0 L371.5,4005.9 L372.1,4005.9 L372.7,4005.9 L373.3,4005.8 L373.9,4005.8 L374.6,4005.8 L375.2,4005.7 L375.8,4005.7 L376.4,4005.7 L377.0,4005.6 L377.7,4005.6 L378.3,4005.6 L378.9,4005.5 L379.5,4005.5 L380.1,4005.5 L380.7,4005.4 L381.4,4005.4 L382.0,4005.3 L382.6,4005.3 L383.2,4005.3 L383.8,4005.2 L384.5,4005.2 L385.1,4005.1 L385.7,4005.1 L386.3,4005.1 L386.9,4005.0 L387.6,4005.0 L388.2,4004.9 L388.8,4004.9 L389.4,4004.9 L390.0,4004.8 L390.7,4004.8 L391.3,4004.7 L391.9,4004.7 L392.5,4004.6 L393.1,4004.6 L393.8,4004.6 L394.4,4004.5 L395.0,4004.5 L395.6,4004.4 L396.2,4004.4 L396.8,4004.3 L397.5,4004.3 L398.1,4004.2 L398.7,4004.2 L399.3,4004.1 L399.9,4004.1 L400.6,4004.0 L401.2,4004.0 L401.8,4003.9 L402.4,4003.9 L403.0,4003.8 L403.7,4003.8 L404.3,4003.7 L404.9,4003.7 L405.5,4003.6 L406.1,4003.6 L406.8,4003.5 L407.4,4003.5 L408.0,4003.4 L408.6,4003.4 L409.2,4003.3 L409.9,4003.3 L410.5,4003.2 L411.1,4003.1 L411.7,4003.1 L412.3,4003.0 L412.9,4003.0 L413.6,4002.9 L414.2,4002.9 L414.8,4002.8 L415.4,4002.7 L416.0,4002.7 L416.7,4002.6 L417.3,4002.6 L417.9,4002.5 L418.5,4002.4 L419.1,4002.4 L419.8,4002.3 L420.4,4002.2 L421.0,4002.2 L421.6,4002.1 L422.2,4002.0 L422.9,4002.0 L423.5,4001.9 L424.1,4001.8 L424.7,4001.8 L425.3,4001.7 L426.0,4001.6 L426.6,4001.6 L427.2,4001.5 L427.8,4001.4 L428.4,4001.4 L429.0,4001.3 L429.7,4001.2 L430.3,4001.1 L430.9,4001.1 L431.5,4001.0 L432.1,4000.9 L432.8,4000.8 L433.4,4000.8 L434.0,4000.7 L434.6,4000.6 L435.2,4000.5 L435.9,4000.5 L436.5,4000.4 L437.1,4000.3 L437.7,4000.2 L438.3,4000.1 L439.0,4000.0 L439.6,4000.0 L440.2,3999.9 L440.8,3999.8 L441.4,3999.7 L442.1,3999.6 L442.7,3999.5 L443.3,3999.5 L443.9,3999.4 L444.5,3999.3 L445.1,3999.2 L445.8,3999.1 L446.4,3999.0 L447.0,3998.9 L447.6,3998.8 L448.2,3998.7 L448.9,3998.6 L449.5,3998.5 L450.1,3998.5 L450.7,3998.4 L451.3,3998.3 L452.0,3998.2 L452.6,3998.1 L453.2,3998.0 L453.8,3997.9 L454.4,3997.8 L455.1,3997.7 L455.7,3997.6 L456.3,3997.5 L456.9,3997.4 L457.5,3997.3 L458.1,3997.1 L458.8,3997.0 L459.4,3996.9 L460.0,3996.8 L460.6,3996.7 L461.2,3996.6 L461.9,3996.5 L462.5,3996.4 L463.1,3996.3 L463.7,3996.2 L464.3,3996.0 L465.0,3995.9 L465.6,3995.8 L466.2,3995.7 L466.8,3995.6 L467.4,3995.5 L468.1,3995.3 L468.7,3995.2 L469.3,3995.1 L469.9,3995.0 L470.5,3994.9 L471.2,3994.7 L471.8,3994.6 L472.4,3994.5 L473.0,3994.4 L473.6,3994.2 L474.2,3994.1 L474.9,3994.0 L475.5,3993.8 L476.1,3993.7 L476.7,3993.6 L477.3,3993.4 L478.0,3993.3 L478.6,3993.2 L479.2,3993.0 L479.8,3992.9 L480.4,3992.8 L481.1,3992.6 L481.7,3992.5 L482.3,3992.3 L482.9,3992.2 L483.5,3992.1 L484.2,3991.9 L484.8,3991.8 L485.4,3991.6 L486.0,3991.5 L486.6,3991.3 L487.3,3991.2 L487.9,3991.0 L488.5,3990.9 L489.1,3990.7 L489.7,3990.6 L490.3,3990.4 L491.0,3990.3 L491.6,3990.1 L492.2,3989.9 L492.8,3989.8 L493.4,3989.6 L494.1,3989.5 L494.7,3989.3 L495.3,3989.1 L495.9,3989.0 L496.5,3988.8 L497.2,3988.6 L497.8,3988.5 L498.4,3988.3 L499.0,3988.1 L499.6,3987.9 L500.3,3987.8 L500.9,3987.6 L501.5,3987.4 L502.1,3987.2 L502.7,3987.1 L503.4,3986.9 L504.0,3986.7 L504.6,3986.5 L505.2,3986.3 L505.8,3986.2 L506.4,3986.0 L507.1,3985.8 L507.7,3985.6 L508.3,3985.4 L508.9,3985.2 L509.5,3985.0 L510.2,3984.8 L510.8,3984.6 L511.4,3984.4 L512.0,3984.2 L512.6,3984.1 L513.3,3983.9 L513.9,3983.6 L514.5,3983.4 L515.1,3983.2 L515.7,3983.0 L516.4,3982.8 L517.0,3982.6 L517.6,3982.4 L518.2,3982.2 L518.8,3982.0 L519.5,3981.8 L520.1,3981.6 L520.7,3981.4 L521.3,3981.1 L521.9,3980.9 L522.5,3980.7 L523.2,3980.5 L523.8,3980.3 L524.4,3980.0 L525.0,3979.8 L525.6,3979.6 L526.3,3979.4 L526.9,3979.1 L527.5,3978.9 L528.1,3978.7 L528.7,3978.4 L529.4,3978.2 L530.0,3978.0 L530.6,3977.7 L531.2,3977.5 L531.8,3977.2 L532.5,3977.0 L533.1,3976.8 L533.7,3976.5 L534.3,3976.3 L534.9,3976.0 L535.6,3975.8 L536.2,3975.5 L536.8,3975.3 L537.4,3975.0 L538.0,3974.8 L538.6,3974.5 L539.3,3974.3 L539.9,3974.0 L540.5,3973.7 L541.1,3973.5 L541.7,3973.2 L542.4,3972.9 L543.0,3972.7 L543.6,3972.4 L544.2,3972.1 L544.8,3971.9 L545.5,3971.6 L546.1,3971.3 L546.7,3971.1 L547.3,3970.8 L547.9,3970.5 L548.6,3970.2 L549.2,3969.9 L549.8,3969.7 L550.4,3969.4 L551.0,3969.1 L551.7,3968.8 L552.3,3968.5 L552.9,3968.2 L553.5,3967.9 L554.1,3967.6 L554.7,3967.3 L555.4,3967.0 L556.0,3966.8 L556.6,3966.5 L557.2,3966.2 L557.8,3965.9 L558.5,3965.5 L559.1,3965.2 L559.7,3964.9 L560.3,3964.6 L560.9,3964.3 L561.6,3964.0 L562.2,3963.7 L562.8,3963.4 L563.4,3963.1 L564.0,3962.8 L564.7,3962.4 L565.3,3962.1 L565.9,3961.8 L566.5,3961.5 L567.1,3961.1 L567.7,3960.8 L568.4,3960.5 L569.0,3960.2 L569.6,3959.8 L570.2,3959.5 L570.8,3959.2 L571.5,3958.8 L572.1,3958.5 L572.7,3958.2 L573.3,3957.8 L573.9,3957.5 L574.6,3957.1 L575.2,3956.8 L575.8,3956.4 L576.4,3956.1 L577.0,3955.7 L577.7,3955.4 L578.3,3955.0 L578.9,3954.7 L579.5,3954.3 L580.1,3954.0 L580.8,3953.6 L581.4,3953.3 L582.0,3952.9 L582.6,3952.5 L583.2,3952.2 L583.8,3951.8 L584.5,3951.4 L585.1,3951.1 L585.7,3950.7 L586.3,3950.3 L586.9,3950.0 L587.6,3949.6 L588.2,3949.2 L588.8,3948.8 L589.4,3948.5 L590.0,3948.1 L590.7,3947.7 L591.3,3947.3 L591.9,3946.9 L592.5,3946.6 L593.1,3946.2 L593.8,3945.8 L594.4,3945.4 L595.0,3945.0 L595.6,3944.6 L596.2,3944.2 L596.9,3943.8 L597.5,3943.4 L598.1,3943.0 L598.7,3942.6 L599.3,3942.2 L599.9,3941.8 L600.6,3941.4 L601.2,3941.0 L601.8,3940.6 L602.4,3940.2 L603.0,3939.8 L603.7,3939.4 L604.3,3939.0 L604.9,3938.6 L605.5,3938.1 L606.1,3937.7 L606.8,3937.3 L607.4,3936.9 L608.0,3936.5 L608.6,3936.1 L609.2,3935.6 L609.9,3935.2 L610.5,3934.8 L611.1,3934.4 L611.7,3933.9 L612.3,3933.5 L613.0,3933.1 L613.6,3932.6 L614.2,3932.2 L614.8,3931.8 L615.4,3931.3 L616.0,3930.9 L616.7,3930.5 L617.3,3930.0 L617.9,3929.6 L618.5,3929.2 L619.1,3928.7 L619.8,3928.3 L620.4,3927.8 L621.0,3927.4 L621.6,3926.9 L622.2,3926.5 L622.9,3926.0 L623.5,3925.6 L624.1,3925.1 L624.7,3924.7 L625.3,3924.2 L626.0,3923.8 L626.6,3923.3 L627.2,3922.9 L627.8,3922.4 L628.4,3922.0 L629.1,3921.5 L629.7,3921.0 L630.3,3920.6 L630.9,3920.1 L631.5,3919.7 L632.1,3919.2 L632.8,3918.7 L633.4,3918.3 L634.0,3917.8 L634.6,3917.3 L635.2,3916.9 L635.9,3916.4 L636.5,3915.9 L637.1,3915.5 L637.7,3915.0 L638.3,3914.5 L639.0,3914.0 L639.6,3913.6 L640.2,3913.1 L640.8,3912.6 L641.4,3912.1 L642.1,3911.7 L642.7,3911.2 L643.3,3910.7 L643.9,3910.2 L644.5,3909.8 L645.2,3909.3 L645.8,3908.8 L646.4,3908.3 L647.0,3907.8 L647.6,3907.4 L648.2,3906.9 L648.9,3906.4 L649.5,3905.9 L650.1,3905.4 L650.7,3904.9 L651.3,3904.4 L652.0,3904.0 L652.6,3903.5 L653.2,3903.0 L653.8,3902.5 L654.4,3902.0 L655.1,3901.5 L655.7,3901.0 L656.3,3900.5 L656.9,3900.1 L657.5,3899.6 L658.2,3899.1 L658.8,3898.6 L659.4,3898.1 L660.0,3897.6 L660.6,3897.1 L661.3,3896.6 L661.9,3896.1 L662.5,3895.6 L663.1,3895.1 L663.7,3894.6 L664.3,3894.2 L665.0,3893.7 L665.6,3893.2 L666.2,3892.7 L666.8,3892.2 L667.4,3891.7 L668.1,3891.2 L668.7,3890.7 L669.3,3890.2 L669.9,3889.7 L670.5,3889.2 L671.2,3888.7 L671.8,3888.2 L672.4,3887.7 L673.0,3887.2 L673.6,3886.8 L674.3,3886.3 L674.9,3885.8 L675.5,3885.3 L676.1,3884.8 L676.7,3884.3 L677.3,3883.8 L678.0,3883.3 L678.6,3882.8 L679.2,3882.3 L679.8,3881.8 L680.4,3881.3 L681.1,3880.8 L681.7,3880.4 L682.3,3879.9 L682.9,3879.4 L683.5,3878.9 L684.2,3878.4 L684.8,3877.9 L685.4,3877.4 L686.0,3876.9 L686.6,3876.4 L687.3,3876.0 L687.9,3875.5 L688.5,3875.0 L689.1,3874.5 L689.7,3874.0 L690.4,3873.5 L691.0,3873.1 L691.6,3872.6 L692.2,3872.1 L692.8,3871.6 L693.4,3871.1 L694.1,3870.7 L694.7,3870.2 L695.3,3869.7 L695.9,3869.2 L696.5,3868.7 L697.2,3868.3 L697.8,3867.8 L698.4,3867.3 L699.0,3866.9 L699.6,3866.4 L700.3,3865.9 L700.9,3865.4 L701.5,3865.0 L702.1,3864.5 L702.7,3864.0 L703.4,3863.6 L704.0,3863.1 L704.6,3862.6 L705.2,3862.2 L705.8,3861.7 L706.5,3861.3 L707.1,3860.8 L707.7,3860.3 L708.3,3859.9 L708.9,3859.4 L709.5,3859.0 L710.2,3858.5 L710.8,3858.0 L711.4,3857.6 L712.0,3857.1 L712.6,3856.7 L713.3,3856.2 L713.9,3855.8 L714.5,3855.3 L715.1,3854.9 L715.7,3854.4 L716.4,3854.0 L717.0,3853.5 L717.6,3853.1 L718.2,3852.6 L718.8,3852.2 L719.5,3851.7 L720.1,3851.3 L720.7,3850.8 L721.3,3850.4 L721.9,3849.9 L722.6,3849.5 L723.2,3849.0 L723.8,3848.6 L724.4,3848.1 L725.0,3847.6 L725.6,3847.2 L726.3,3846.7 L726.9,3846.3 L727.5,3845.8 L728.1,3845.3 L728.7,3844.9 L729.4,3844.4 L730.0,3843.9 L730.6,3843.4 L731.2,3843.0 L731.8,3842.5 L732.5,3842.0 L733.1,3841.5 L733.7,3841.0 L734.3,3840.5 L734.9,3840.0 L735.6,3839.5 L736.2,3838.9 L736.8,3838.4 L737.4,3837.9 L738.0,3837.3 L738.7,3836.8 L739.3,3836.2 L739.9,3835.6 L740.5,3835.1 L741.1,3834.5 L741.7,3833.9 L742.4,3833.3 L743.0,3832.6 L743.6,3832.0 L744.2,3831.4 L744.8,3830.7 L745.5,3830.0 L746.1,3829.3 L746.7,3828.6 L747.3,3827.9 L747.9,3827.1 L748.6,3826.4 L749.2,3825.6 L749.8,3824.8 L750.4,3824.0 L751.0,3823.2 L751.7,3822.3 L752.3,3821.4 L752.9,3820.5 L753.5,3819.6 L754.1,3818.7 L754.8,3817.7 L755.4,3816.7 L756.0,3815.7 L756.6,3814.7 L757.2,3813.6 L757.8,3812.5 L758.5,3811.4 L759.1,3810.2 L759.7,3809.1 L760.3,3807.9 L760.9,3806.6 L761.6,3805.4 L762.2,3804.1 L762.8,3802.8 L763.4,3801.4 L764.0,3800.1 L764.7,3798.7 L765.3,3797.2 L765.9,3795.8 L766.5,3794.3 L767.1,3792.8 L767.8,3791.2 L768.4,3789.6 L769.0,3788.0 L769.6,3786.4 L770.2,3784.7 L770.9,3783.0 L771.5,3781.3 L772.1,3779.6 L772.7,3777.8 L773.3,3776.0 L773.9,3774.2 L774.6,3772.4 L775.2,3770.5 L775.8,3768.7 L776.4,3766.8 L777.0,3764.9 L777.7,3762.9 L778.3,3761.0 L778.9,3759.1 L779.5,3757.1 L780.1,3755.1 L780.8,3753.1 L781.4,3751.2 L782.0,3749.2 L782.6,3747.2 L783.2,3745.2 L783.9,3743.2 L784.5,3741.2 L785.1,3739.2 L785.7,3737.2 L786.3,3735.3 L786.9,3733.3 L787.6,3731.4 L788.2,3729.5 L788.8,3727.6 L789.4,3725.7 L790.0,3723.9 L790.7,3722.0 L791.3,3720.2 L791.9,3718.5 L792.5,3716.8 L793.1,3715.1 L793.8,3713.4 L794.4,3711.8 L795.0,3710.2 L795.6,3708.7 L796.2,3707.3 L796.9,3705.8 L797.5,3704.5 L798.1,3703.2 L798.7,3701.9 L799.3,3700.7 L800.0,3699.6 L800.6,3698.5 L801.2,3697.5 L801.8,3696.5 L802.4,3695.7 L803.0,3694.8 L803.7,3694.1 L804.3,3693.4 L804.9,3692.8 L805.5,3692.3 L806.1,3691.9 L806.8,3691.5 L807.4,3691.2 L808.0,3691.0 L808.6,3690.9 L809.2,3690.8 L809.9,3690.8 L810.5,3690.9 L811.1,3691.1 L811.7,3691.3 L812.3,3691.6 L813.0,3692.0 L813.6,3692.5 L814.2,3693.0 L814.8,3693.7 L815.4,3694.4 L816.1,3695.1 L816.7,3696.0 L817.3,3696.9 L817.9,3697.9 L818.5,3698.9 L819.1,3700.0 L819.8,3701.2 L820.4,3702.4 L821.0,3703.7 L821.6,3705.1 L822.2,3706.5 L822.9,3708.0 L823.5,3709.5 L824.1,3711.1 L824.7,3712.7 L825.3,3714.3 L826.0,3716.0 L826.6,3717.8 L827.2,3719.6 L827.8,3721.4 L828.4,3723.3 L829.1,3725.1 L829.7,3727.1 L830.3,3729.0 L830.9,3731.0 L831.5,3733.0 L832.2,3735.0 L832.8,3737.0 L833.4,3739.0 L834.0,3741.1 L834.6,3743.2 L835.2,3745.2 L835.9,3747.3 L836.5,3749.4 L837.1,3751.5 L837.7,3753.6 L838.3,3755.6 L839.0,3757.7 L839.6,3759.8 L840.2,3761.8 L840.8,3763.9 L841.4,3765.9 L842.1,3767.9 L842.7,3769.9 L843.3,3771.9 L843.9,3773.9 L844.5,3775.9 L845.2,3777.8 L845.8,3779.7 L846.4,3781.6 L847.0,3783.5 L847.6,3785.3 L848.3,3787.1 L848.9,3788.9 L849.5,3790.7 L850.1,3792.4 L850.7,3794.1 L851.3,3795.8 L852.0,3797.4 L852.6,3799.0 L853.2,3800.6 L853.8,3802.2 L854.4,3803.7 L855.1,3805.2 L855.7,3806.7 L856.3,3808.1 L856.9,3809.5 L857.5,3810.9 L858.2,3812.2 L858.8,3813.6 L859.4,3814.9 L860.0,3816.1 L860.6,3817.3 L861.3,3818.5 L861.9,3819.7 L862.5,3820.9 L863.1,3822.0 L863.7,3823.1 L864.4,3824.1 L865.0,3825.2 L865.6,3826.2 L866.2,3827.2 L866.8,3828.1 L867.4,3829.1 L868.1,3830.0 L868.7,3830.9 L869.3,3831.8 L869.9,3832.6 L870.5,3833.5 L871.2,3834.3 L871.8,3835.1 L872.4,3835.9 L873.0,3836.6 L873.6,3837.4 L874.3,3838.1 L874.9,3838.8 L875.5,3839.5 L876.1,3840.2 L876.7,3840.8 L877.4,3841.5 L878.0,3842.1 L878.6,3842.8 L879.2,3843.4 L879.8,3844.0 L880.4,3844.6 L881.1,3845.1 L881.7,3845.7 L882.3,3846.3 L882.9,3846.8 L883.5,3847.4 L884.2,3847.9 L884.8,3848.4 L885.4,3849.0 L886.0,3849.5 L886.6,3850.0 L887.3,3850.5 L887.9,3851.0 L888.5,3851.5 L889.1,3852.0 L889.7,3852.4 L890.4,3852.9 L891.0,3853.4 L891.6,3853.9 L892.2,3854.3 L892.8,3854.8 L893.5,3855.2 L894.1,3855.7 L894.7,3856.1 L895.3,3856.6 L895.9,3857.0 L896.5,3857.5 L897.2,3857.9 L897.8,3858.3 L898.4,3858.8 L899.0,3859.2 L899.6,3859.6 L900.3,3860.1 L900.9,3860.5 L901.5,3860.9 L902.1,3861.4 L902.7,3861.8 L903.4,3862.2 L904.0,3862.6 L904.6,3863.1 L905.2,3863.5 L905.8,3863.9 L906.5,3864.3 L907.1,3864.7 L907.7,3865.2 L908.3,3865.6 L908.9,3866.0 L909.6,3866.4 L910.2,3866.8 L910.8,3867.2 L911.4,3867.6 L912.0,3868.1 L912.6,3868.5 L913.3,3868.9 L913.9,3869.3 L914.5,3869.7 L915.1,3870.1 L915.7,3870.5 L916.4,3870.9 L917.0,3871.3 L917.6,3871.8 L918.2,3872.2 L918.8,3872.6 L919.5,3873.0 L920.1,3873.4 L920.7,3873.8 L921.3,3874.2 L921.9,3874.6 L922.6,3875.0 L923.2,3875.4 L923.8,3875.8 L924.4,3876.2 L925.0,3876.6 L925.7,3877.0 L926.3,3877.4 L926.9,3877.8 L927.5,3878.2 L928.1,3878.6 L928.7,3879.0 L929.4,3879.4 L930.0,3879.8 L930.6,3880.2 L931.2,3880.6 L931.8,3880.9 L932.5,3881.3 L933.1,3881.7 L933.7,3882.1 L934.3,3882.5 L934.9,3882.9 L935.6,3883.3 L936.2,3883.6 L936.8,3884.0 L937.4,3884.4 L938.0,3884.8 L938.7,3885.2 L939.3,3885.5 L939.9,3885.9 L940.5,3886.3 L941.1,3886.7 L941.8,3887.0 L942.4,3887.4 L943.0,3887.8 L943.6,3888.1 L944.2,3888.5 L944.8,3888.9 L945.5,3889.2 L946.1,3889.6 L946.7,3889.9 L947.3,3890.3 L947.9,3890.6 L948.6,3891.0 L949.2,3891.3 L949.8,3891.7 L950.4,3892.0 L951.0,3892.4 L951.7,3892.7 L952.3,3893.1 L952.9,3893.4 L953.5,3893.7 L954.1,3894.1 L954.8,3894.4 L955.4,3894.7 L956.0,3895.0 L956.6,3895.4 L957.2,3895.7 L957.9,3896.0 L958.5,3896.3 L959.1,3896.6 L959.7,3897.0 L960.3,3897.3 L960.9,3897.6 L961.6,3897.9 L962.2,3898.2 L962.8,3898.5 L963.4,3898.8 L964.0,3899.1 L964.7,3899.3 L965.3,3899.6 L965.9,3899.9 L966.5,3900.2 L967.1,3900.5 L967.8,3900.8 L968.4,3901.0 L969.0,3901.3 L969.6,3901.6 L970.2,3901.8 L970.9,3902.1 L971.5,3902.3 L972.1,3902.6 L972.7,3902.8 L973.3,3903.1 L974.0,3903.3 L974.6,3903.6 L975.2,3903.8 L975.8,3904.0 L976.4,3904.2 L977.0,3904.5 L977.7,3904.7 L978.3,3904.9 L978.9,3905.1 L979.5,3905.3 L980.1,3905.5 L980.8,3905.7 L981.4,3905.9 L982.0,3906.1 L982.6,3906.3 L983.2,3906.4 L983.9,3906.6 L984.5,3906.8 L985.1,3906.9 L985.7,3907.1 L986.3,3907.2 L987.0,3907.4 L987.6,3907.5 L988.2,3907.7 L988.8,3907.8 L989.4,3907.9 L990.0,3908.0 L990.7,3908.1 L991.3,3908.3 L991.9,3908.4 L992.5,3908.4 L993.1,3908.5 L993.8,3908.6 L994.4,3908.7 L995.0,3908.7 L995.6,3908.8 L996.2,3908.9 L996.9,3908.9 L997.5,3908.9 L998.1,3909.0 L998.7,3909.0 L999.3,3909.0 L1000.0,3909.0 L1000.6,3909.0 L1001.2,3909.0 L1001.8,3908.9 L1002.4,3908.9 L1003.1,3908.9 L1003.7,3908.8 L1004.3,3908.7 L1004.9,3908.7 L1005.5,3908.6 L1006.1,3908.5 L1006.8,3908.4 L1007.4,3908.2 L1008.0,3908.1 L1008.6,3908.0 L1009.2,3907.8 L1009.9,3907.6 L1010.5,3907.4 L1011.1,3907.2 L1011.7,3907.0 L1012.3,3906.8 L1013.0,3906.6 L1013.6,3906.3 L1014.2,3906.0 L1014.8,3905.7 L1015.4,3905.4 L1016.1,3905.1 L1016.7,3904.8 L1017.3,3904.4 L1017.9,3904.0 L1018.5,3903.6 L1019.2,3903.2 L1019.8,3902.8 L1020.4,3902.3 L1021.0,3901.8 L1021.6,3901.3 L1022.2,3900.8 L1022.9,3900.3 L1023.5,3899.7 L1024.1,3899.1 L1024.7,3898.5 L1025.3,3897.9 L1026.0,3897.2 L1026.6,3896.5 L1027.2,3895.8 L1027.8,3895.0 L1028.4,3894.2 L1029.1,3893.4 L1029.7,3892.6 L1030.3,3891.7 L1030.9,3890.8 L1031.5,3889.9 L1032.2,3888.9 L1032.8,3887.9 L1033.4,3886.9 L1034.0,3885.8 L1034.6,3884.7 L1035.3,3883.6 L1035.9,3882.4 L1036.5,3881.2 L1037.1,3879.9 L1037.7,3878.6 L1038.3,3877.3 L1039.0,3875.9 L1039.6,3874.5 L1040.2,3873.0 L1040.8,3871.5 L1041.4,3870.0 L1042.1,3868.4 L1042.7,3866.8 L1043.3,3865.1 L1043.9,3863.3 L1044.5,3861.5 L1045.2,3859.7 L1045.8,3857.8 L1046.4,3855.9 L1047.0,3853.9 L1047.6,3851.8 L1048.3,3849.7 L1048.9,3847.6 L1049.5,3845.4 L1050.1,3843.1 L1050.7,3840.8 L1051.4,3838.4 L1052.0,3836.0 L1052.6,3833.5 L1053.2,3831.0 L1053.8,3828.4 L1054.4,3825.7 L1055.1,3823.0 L1055.7,3820.2 L1056.3,3817.4 L1056.9,3814.4 L1057.5,3811.5 L1058.2,3808.4 L1058.8,3805.3 L1059.4,3802.2 L1060.0,3799.0 L1060.6,3795.7 L1061.3,3792.3 L1061.9,3788.9 L1062.5,3785.4 L1063.1,3781.8 L1063.7,3778.2 L1064.4,3774.5 L1065.0,3770.7 L1065.6,3766.8 L1066.2,3762.9 L1066.8,3758.8 L1067.5,3754.7 L1068.1,3750.4 L1068.7,3746.0 L1069.3,3741.5 L1069.9,3736.8 L1070.5,3731.9 L1071.2,3726.8 L1071.8,3721.5 L1072.4,3715.8 L1073.0,3709.8 L1073.6,3703.4 L1074.3,3696.6 L1074.9,3689.2 L1075.5,3681.3 L1076.1,3672.7 L1076.7,3663.3 L1077.4,3653.1 L1078.0,3641.9 L1078.6,3629.7 L1079.2,3616.4 L1079.8,3601.8 L1080.5,3586.0 L1081.1,3568.8 L1081.7,3550.1 L1082.3,3530.1 L1082.9,3508.5 L1083.6,3485.5 L1084.2,3461.1 L1084.8,3435.4 L1085.4,3408.5 L1086.0,3380.6 L1086.6,3351.8 L1087.3,3322.4 L1087.9,3292.7 L1088.5,3262.9 L1089.1,3233.4 L1089.7,3204.5 L1090.4,3176.6 L1091.0,3150.0 L1091.6,3125.1 L1092.2,3102.2 L1092.8,3081.7 L1093.5,3063.9 L1094.1,3048.9 L1094.7,3037.0 L1095.3,3028.3 L1095.9,3023.0 L1096.6,3021.0 L1097.2,3022.2 L1097.8,3026.7 L1098.4,3034.3 L1099.0,3044.7 L1099.6,3057.7 L1100.3,3073.0 L1100.9,3090.3 L1101.5,3109.3 L1102.1,3129.6 L1102.7,3150.9 L1103.4,3172.8 L1104.0,3195.0 L1104.6,3217.2 L1105.2,3239.2 L1105.8,3260.6 L1106.5,3281.4 L1107.1,3301.2 L1107.7,3320.0 L1108.3,3337.7 L1108.9,3354.2 L1109.6,3369.4 L1110.2,3383.5 L1110.8,3396.4 L1111.4,3408.1 L1112.0,3418.8 L1112.7,3428.4 L1113.3,3437.2 L1113.9,3445.1 L1114.5,3452.2 L1115.1,3458.8 L1115.7,3464.7 L1116.4,3470.2 L1117.0,3475.4 L1117.6,3480.2 L1118.2,3484.8 L1118.8,3489.2 L1119.5,3493.5 L1120.1,3497.6 L1120.7,3501.8 L1121.3,3505.9 L1121.9,3510.1 L1122.6,3514.3 L1123.2,3518.6 L1123.8,3522.9 L1124.4,3527.3 L1125.0,3531.8 L1125.7,3536.3 L1126.3,3541.0 L1126.9,3545.7 L1127.5,3550.5 L1128.1,3555.4 L1128.8,3560.3 L1129.4,3565.4 L1130.0,3570.5 L1130.6,3575.6 L1131.2,3580.8 L1131.8,3586.1 L1132.5,3591.4 L1133.1,3596.8 L1133.7,3602.1 L1134.3,3607.5 L1134.9,3613.0 L1135.6,3618.4 L1136.2,3623.9 L1136.8,3629.3 L1137.4,3634.8 L1138.0,3640.2 L1138.7,3645.7 L1139.3,3651.1 L1139.9,3656.6 L1140.5,3662.0 L1141.1,3667.4 L1141.8,3672.7 L1142.4,3678.1 L1143.0,3683.4 L1143.6,3688.7 L1144.2,3693.9 L1144.9,3699.1 L1145.5,3704.3 L1146.1,3709.4 L1146.7,3714.5 L1147.3,3719.5 L1147.9,3724.5 L1148.6,3729.4 L1149.2,3734.3 L1149.8,3739.1 L1150.4,3743.9 L1151.0,3748.6 L1151.7,3753.3 L1152.3,3757.9 L1152.9,3762.4 L1153.5,3766.9 L1154.1,3771.4 L1154.8,3775.7 L1155.4,3780.0 L1156.0,3784.3 L1156.6,3788.5 L1157.2,3792.6 L1157.9,3796.7 L1158.5,3800.7 L1159.1,3804.6 L1159.7,3808.5 L1160.3,3812.3 L1161.0,3816.0 L1161.6,3819.7 L1162.2,3823.4 L1162.8,3826.9 L1163.4,3830.4 L1164.0,3833.9 L1164.7,3837.2 L1165.3,3840.5 L1165.9,3843.8 L1166.5,3847.0 L1167.1,3850.1 L1167.8,3853.2 L1168.4,3856.2 L1169.0,3859.1 L1169.6,3862.0 L1170.2,3864.9 L1170.9,3867.7 L1171.5,3870.4 L1172.1,3873.0 L1172.7,3875.7 L1173.3,3878.2 L1174.0,3880.7 L1174.6,3883.2 L1175.2,3885.6 L1175.8,3887.9 L1176.4,3890.2 L1177.1,3892.4 L1177.7,3894.6 L1178.3,3896.8 L1178.9,3898.9 L1179.5,3900.9 L1180.1,3902.9 L1180.8,3904.9 L1181.4,3906.8 L1182.0,3908.7 L1182.6,3910.5 L1183.2,3912.3 L1183.9,3914.0 L1184.5,3915.7 L1185.1,3917.4 L1185.7,3919.0 L1186.3,3920.6 L1187.0,3922.2 L1187.6,3923.7 L1188.2,3925.2 L1188.8,3926.6 L1189.4,3928.0 L1190.1,3929.4 L1190.7,3930.7 L1191.3,3932.0 L1191.9,3933.3 L1192.5,3934.5 L1193.2,3935.8 L1193.8,3936.9 L1194.4,3938.1 L1195.0,3939.2 L1195.6,3940.3 L1196.2,3941.4 L1196.9,3942.4 L1197.5,3943.5 L1198.1,3944.4 L1198.7,3945.4 L1199.3,3946.4 L1200.0,3947.3 L1200.6,3948.2 L1201.2,3949.1 L1201.8,3949.9 L1202.4,3950.8 L1203.1,3951.6 L1203.7,3952.4 L1204.3,3953.1 L1204.9,3953.9 L1205.5,3954.6 L1206.2,3955.4 L1206.8,3956.1 L1207.4,3956.8 L1208.0,3957.4 L1208.6,3958.1 L1209.2,3958.7 L1209.9,3959.4 L1210.5,3960.0 L1211.1,3960.6 L1211.7,3961.1 L1212.3,3961.7 L1213.0,3962.3 L1213.6,3962.8 L1214.2,3963.4 L1214.8,3963.9 L1215.4,3964.4 L1216.1,3964.9 L1216.7,3965.4 L1217.3,3965.9 L1217.9,3966.3 L1218.5,3966.8 L1219.2,3967.2 L1219.8,3967.7 L1220.4,3968.1 L1221.0,3968.5 L1221.6,3968.9 L1222.3,3969.3 L1222.9,3969.7 L1223.5,3970.1 L1224.1,3970.5 L1224.7,3970.9 L1225.3,3971.2 L1226.0,3971.6 L1226.6,3972.0 L1227.2,3972.3 L1227.8,3972.6 L1228.4,3973.0 L1229.1,3973.3 L1229.7,3973.6 L1230.3,3973.9 L1230.9,3974.3 L1231.5,3974.6 L1232.2,3974.9 L1232.8,3975.2 L1233.4,3975.4 L1234.0,3975.7 L1234.6,3976.0 L1235.3,3976.3 L1235.9,3976.6 L1236.5,3976.8 L1237.1,3977.1 L1237.7,3977.3 L1238.4,3977.6 L1239.0,3977.9 L1239.6,3978.1 L1240.2,3978.3 L1240.8,3978.6 L1241.4,3978.8 L1242.1,3979.0 L1242.7,3979.3 L1243.3,3979.5 L1243.9,3979.7 L1244.5,3979.9 L1245.2,3980.2 L1245.8,3980.4 L1246.4,3980.6 L1247.0,3980.8 L1247.6,3981.0 L1248.3,3981.2 L1248.9,3981.4 L1249.5,3981.6 L1250.1,3981.8 L1250.7,3982.0 L1251.4,3982.2 L1252.0,3982.4 L1252.6,3982.6 L1253.2,3982.7 L1253.8,3982.9 L1254.5,3983.1 L1255.1,3983.3 L1255.7,3983.5 L1256.3,3983.6 L1256.9,3983.8 L1257.5,3984.0 L1258.2,3984.1 L1258.8,3984.3 L1259.4,3984.5 L1260.0,3984.6 L1260.6,3984.8 L1261.3,3985.0 L1261.9,3985.1 L1262.5,3985.3 L1263.1,3985.4 L1263.7,3985.6 L1264.4,3985.7 L1265.0,3985.9 L1265.6,3986.0 L1266.2,3986.2 L1266.8,3986.4 L1267.5,3986.5 L1268.1,3986.6 L1268.7,3986.8 L1269.3,3986.9 L1269.9,3987.1 L1270.6,3987.2 L1271.2,3987.4 L1271.8,3987.5 L1272.4,3987.7 L1273.0,3987.8 L1273.6,3987.9 L1274.3,3988.1 L1274.9,3988.2 L1275.5,3988.4 L1276.1,3988.5 L1276.7,3988.6 L1277.4,3988.8 L1278.0,3988.9 L1278.6,3989.0 L1279.2,3989.2 L1279.8,3989.3 L1280.5,3989.4 L1281.1,3989.6 L1281.7,3989.7 L1282.3,3989.8 L1282.9,3989.9 L1283.6,3990.1 L1284.2,3990.2 L1284.8,3990.3 L1285.4,3990.4 L1286.0,3990.6 L1286.7,3990.7 L1287.3,3990.8 L1287.9,3990.9 L1288.5,3991.0 L1289.1,3991.1 L1289.7,3991.2 L1290.4,3991.4 L1291.0,3991.5 L1291.6,3991.6 L1292.2,3991.7 L1292.8,3991.8 L1293.5,3991.9 L1294.1,3992.0 L1294.7,3992.1 L1295.3,3992.2 L1295.9,3992.3 L1296.6,3992.4 L1297.2,3992.5 L1297.8,3992.6 L1298.4,3992.7 L1299.0,3992.8 L1299.7,3992.9 L1300.3,3993.0 L1300.9,3993.1 L1301.5,3993.2 L1302.1,3993.3 L1302.8,3993.4 L1303.4,3993.5 L1304.0,3993.6 L1304.6,3993.7 L1305.2,3993.7 L1305.8,3993.8 L1306.5,3993.9 L1307.1,3994.0 L1307.7,3994.1 L1308.3,3994.2 L1308.9,3994.3 L1309.6,3994.4 L1310.2,3994.4 L1310.8,3994.5 L1311.4,3994.6 L1312.0,3994.7 L1312.7,3994.8 L1313.3,3994.8 L1313.9,3994.9 L1314.5,3995.0 L1315.1,3995.1 L1315.8,3995.2 L1316.4,3995.2 L1317.0,3995.3 L1317.6,3995.4 L1318.2,3995.5 L1318.8,3995.5 L1319.5,3995.6 L1320.1,3995.7 L1320.7,3995.8 L1321.3,3995.8 L1321.9,3995.9 L1322.6,3996.0 L1323.2,3996.0 L1323.8,3996.1 L1324.4,3996.2 L1325.0,3996.3 L1325.7,3996.3 L1326.3,3996.4 L1326.9,3996.5 L1327.5,3996.5 L1328.1,3996.6 L1328.8,3996.7 L1329.4,3996.7 L1330.0,3996.8 L1330.6,3996.8 L1331.2,3996.9 L1331.9,3997.0 L1332.5,3997.0 L1333.1,3997.1 L1333.7,3997.2 L1334.3,3997.2 L1334.9,3997.3 L1335.6,3997.3 L1336.2,3997.4 L1336.8,3997.5 L1337.4,3997.5 L1338.0,3997.6 L1338.7,3997.6 L1339.3,3997.7 L1339.9,3997.8 L1340.5,3997.8 L1341.1,3997.9 L1341.8,3997.9 L1342.4,3998.0 L1343.0,3998.0 L1343.6,3998.1 L1344.2,3998.1 L1344.9,3998.2 L1345.5,3998.2 L1346.1,3998.3 L1346.7,3998.4 L1347.3,3998.4 L1348.0,3998.5 L1348.6,3998.5 L1349.2,3998.6 L1349.8,3998.6 L1350.4,3998.7 L1351.0,3998.7 L1351.7,3998.8 L1352.3,3998.8 L1352.9,3998.9 L1353.5,3998.9 L1354.1,3999.0 L1354.8,3999.0 L1355.4,3999.1 L1356.0,3999.1 L1356.6,3999.1 L1357.2,3999.2 L1357.9,3999.2 L1358.5,3999.3 L1359.1,3999.3 L1359.7,3999.4 L1360.3,3999.4 L1361.0,3999.5 L1361.6,3999.5 L1362.2,3999.6 L1362.8,3999.6 L1363.4,3999.6 L1364.1,3999.7 L1364.7,3999.7 L1365.3,3999.8 L1365.9,3999.8 L1366.5,3999.9 L1367.1,3999.9 L1367.8,3999.9 L1368.4,4000.0 L1369.0,4000.0 L1369.6,4000.1 L1370.2,4000.1 L1370.9,4000.2 L1371.5,4000.2 L1372.1,4000.2 L1372.7,4000.3 L1373.3,4000.3 L1374.0,4000.3 L1374.6,4000.4 L1375.2,4000.4 L1375.8,4000.5 L1376.4,4000.5 L1377.1,4000.5 L1377.7,4000.6 L1378.3,4000.6 L1378.9,4000.7 L1379.5,4000.7 L1380.2,4000.7 L1380.8,4000.8 L1381.4,4000.8 L1382.0,4000.8 L1382.6,4000.9 L1383.2,4000.9 L1383.9,4000.9 L1384.5,4001.0 L1385.1,4001.0 L1385.7,4001.0 L1386.3,4001.1 L1387.0,4001.1 L1387.6,4001.2 L1388.2,4001.2 L1388.8,4001.2 L1389.4,4001.3 L1390.1,4001.3 L1390.7,4001.3 L1391.3,4001.4 L1391.9,4001.4 L1392.5,4001.4 L1393.2,4001.5 L1393.8,4001.5 L1394.4,4001.5 L1395.0,4001.5 L1395.6,4001.6 L1396.3,4001.6 L1396.9,4001.6 L1397.5,4001.7 L1398.1,4001.7 L1398.7,4001.7 L1399.3,4001.8 L1400.0,4001.8 L1400.6,4001.8 L1401.2,4001.9 L1401.8,4001.9 L1402.4,4001.9 L1403.1,4001.9 L1403.7,4002.0 L1404.3,4002.0 L1404.9,4002.0 L1405.5,4002.1 L1406.2,4002.1 L1406.8,4002.1 L1407.4,4002.1 L1408.0,4002.2 L1408.6,4002.2 L1409.3,4002.2 L1409.9,4002.3 L1410.5,4002.3 L1411.1,4002.3 L1411.7,4002.3 L1412.3,4002.4 L1413.0,4002.4 L1413.6,4002.4 L1414.2,4002.4 L1414.8,4002.5 L1415.4,4002.5 L1416.1,4002.5 L1416.7,4002.6 L1417.3,4002.6 L1417.9,4002.6 L1418.5,4002.6 L1419.2,4002.7 L1419.8,4002.7 L1420.4,4002.7 L1421.0,4002.7 L1421.6,4002.8 L1422.3,4002.8 L1422.9,4002.8 L1423.5,4002.8 L1424.1,4002.9 L1424.7,4002.9 L1425.4,4002.9 L1426.0,4002.9 L1426.6,4003.0 L1427.2,4003.0 L1427.8,4003.0 L1428.4,4003.0 L1429.1,4003.0 L1429.7,4003.1 L1430.3,4003.1 L1430.9,4003.1 L1431.5,4003.1 L1432.2,4003.2 L1432.8,4003.2 L1433.4,4003.2 L1434.0,4003.2 L1434.6,4003.3 L1435.3,4003.3 L1435.9,4003.3 L1436.5,4003.3 L1437.1,4003.3 L1437.7,4003.4 L1438.4,4003.4 L1439.0,4003.4 L1439.6,4003.4 L1440.2,4003.5 L1440.8,4003.5 L1441.5,4003.5 L1442.1,4003.5 L1442.7,4003.5 L1443.3,4003.6 L1443.9,4003.6 L1444.5,4003.6 L1445.2,4003.6 L1445.8,4003.6 L1446.4,4003.7 L1447.0,4003.7 L1447.6,4003.7 L1448.3,4003.7 L1448.9,4003.7 L1449.5,4003.8 L1450.1,4003.8 L1450.7,4003.8 L1451.4,4003.8 L1452.0,4003.8 L1452.6,4003.9 L1453.2,4003.9 L1453.8,4003.9 L1454.5,4003.9 L1455.1,4003.9 L1455.7,4004.0 L1456.3,4004.0 L1456.9,4004.0 L1457.6,4004.0 L1458.2,4004.0 L1458.8,4004.0 L1459.4,4004.1 L1460.0,4004.1 L1460.6,4004.1 L1461.3,4004.1 L1461.9,4004.1 L1462.5,4004.2 L1463.1,4004.2 L1463.7,4004.2 L1464.4,4004.2 L1465.0,4004.2 L1465.6,4004.2 L1466.2,4004.3 L1466.8,4004.3 L1467.5,4004.3 L1468.1,4004.3 L1468.7,4004.3 L1469.3,4004.4 L1469.9,4004.4 L1470.6,4004.4 L1471.2,4004.4 L1471.8,4004.4 L1472.4,4004.4 L1473.0,4004.5 L1473.7,4004.5 L1474.3,4004.5 L1474.9,4004.5 L1475.5,4004.5 L1476.1,4004.5 L1476.7,4004.6 L1477.4,4004.6 L1478.0,4004.6 L1478.6,4004.6 L1479.2,4004.6 L1479.8,4004.6 L1480.5,4004.6 L1481.1,4004.7 L1481.7,4004.7 L1482.3,4004.7 L1482.9,4004.7 L1483.6,4004.7 L1484.2,4004.7 L1484.8,4004.8 L1485.4,4004.8 L1486.0,4004.8 L1486.7,4004.8 L1487.3,4004.8 L1487.9,4004.8 L1488.5,4004.8 L1489.1,4004.9 L1489.8,4004.9 L1490.4,4004.9 L1491.0,4004.9 L1491.6,4004.9 L1492.2,4004.9 L1492.8,4004.9 L1493.5,4005.0 L1494.1,4005.0 L1494.7,4005.0 L1495.3,4005.0 L1495.9,4005.0 L1496.6,4005.0 L1497.2,4005.0 L1497.8,4005.1 L1498.4,4005.1 L1499.0,4005.1 L1499.7,4005.1 L1500.3,4005.1 L1500.9,4005.1 L1501.5,4005.1 L1502.1,4005.2 L1502.8,4005.2 L1503.4,4005.2 L1504.0,4005.2 L1504.6,4005.2 L1505.2,4005.2 L1505.9,4005.3 L1506.5,4005.3 L1507.1,4005.3 L1507.7,4005.3 L1508.3,4005.3 L1508.9,4005.3 L1509.6,4005.4 L1510.2,4005.4 L1510.8,4005.4 L1511.4,4005.4 L1512.0,4005.4 L1512.7,4005.4 L1513.3,4005.5 L1513.9,4005.5 L1514.5,4005.5 L1515.1,4005.5 L1515.8,4005.5 L1516.4,4005.6 L1517.0,4005.6 L1517.6,4005.6 L1518.2,4005.6 L1518.9,4005.6 L1519.5,4005.7 L1520.1,4005.7 L1520.7,4005.7 L1521.3,4005.7 L1521.9,4005.7 L1522.6,4005.8 L1523.2,4005.8 L1523.8,4005.8 L1524.4,4005.8 L1525.0,4005.8 L1525.7,4005.9 L1526.3,4005.9 L1526.9,4005.9 L1527.5,4005.9 L1528.1,4006.0 L1528.8,4006.0 L1529.4,4006.0 L1530.0,4006.0 L1530.6,4006.0 L1531.2,4006.1 L1531.9,4006.1 L1532.5,4006.1 L1533.1,4006.1 L1533.7,4006.2 L1534.3,4006.2 L1535.0,4006.2 L1535.6,4006.2 L1536.2,4006.3 L1536.8,4006.3 L1537.4,4006.3 L1538.0,4006.3 L1538.7,4006.3 L1539.3,4006.4 L1539.9,4006.4 L1540.5,4006.4 L1541.1,4006.4 L1541.8,4006.5 L1542.4,4006.5 L1543.0,4006.5 L1543.6,4006.5 L1544.2,4006.6 L1544.9,4006.6 L1545.5,4006.6 L1546.1,4006.6 L1546.7,4006.7 L1547.3,4006.7 L1548.0,4006.7 L1548.6,4006.7 L1549.2,4006.8 L1549.8,4006.8 L1550.4,4006.8 L1551.1,4006.8 L1551.7,4006.9 L1552.3,4006.9 L1552.9,4006.9 L1553.5,4006.9 L1554.1,4007.0 L1554.8,4007.0 L1555.4,4007.0 L1556.0,4007.0 L1556.6,4007.1 L1557.2,4007.1 L1557.9,4007.1 L1558.5,4007.1 L1559.1,4007.2 L1559.7,4007.2 L1560.3,4007.2 L1561.0,4007.2 L1561.6,4007.3 L1562.2,4007.3 L1562.8,4007.3 L1563.4,4007.3 L1564.1,4007.3 L1564.7,4007.4 L1565.3,4007.4 L1565.9,4007.4 L1566.5,4007.4 L1567.2,4007.5 L1567.8,4007.5 L1568.4,4007.5 L1569.0,4007.5 L1569.6,4007.6 L1570.2,4007.6 L1570.9,4007.6 L1571.5,4007.6 L1572.1,4007.7 L1572.7,4007.7 L1573.3,4007.7 L1574.0,4007.7 L1574.6,4007.8 L1575.2,4007.8 L1575.8,4007.8 L1576.4,4007.8 L1577.1,4007.8 L1577.7,4007.9 L1578.3,4007.9 L1578.9,4007.9 L1579.5,4007.9 L1580.2,4008.0 L1580.8,4008.0 L1581.4,4008.0 L1582.0,4008.0 L1582.6,4008.0 L1583.3,4008.1 L1583.9,4008.1 L1584.5,4008.1 L1585.1,4008.1 L1585.7,4008.2 L1586.3,4008.2 L1587.0,4008.2 L1587.6,4008.2 L1588.2,4008.2 L1588.8,4008.3 L1589.4,4008.3 L1590.1,4008.3 L1590.7,4008.3 L1591.3,4008.3 L1591.9,4008.4 L1592.5,4008.4 L1593.2,4008.4 L1593.8,4008.4 L1594.4,4008.4 L1595.0,4008.4 L1595.6,4008.5 L1596.3,4008.5 L1596.9,4008.5 L1597.5,4008.5 L1598.1,4008.5 L1598.7,4008.6 L1599.4,4008.6 L1600.0,4008.6 L1600.6,4008.6 L1601.2,4008.6 L1601.8,4008.6 L1602.4,4008.7 L1603.1,4008.7 L1603.7,4008.7 L1604.3,4008.7 L1604.9,4008.7 L1605.5,4008.7 L1606.2,4008.7 L1606.8,4008.8 L1607.4,4008.8 L1608.0,4008.8 L1608.6,4008.8 L1609.3,4008.8 L1609.9,4008.8 L1610.5,4008.8 L1611.1,4008.9 L1611.7,4008.9 L1612.4,4008.9 L1613.0,4008.9 L1613.6,4008.9 L1614.2,4008.9 L1614.8,4008.9 L1615.5,4008.9 L1616.1,4008.9 L1616.7,4009.0 L1617.3,4009.0 L1617.9,4009.0 L1618.5,4009.0 L1619.2,4009.0 L1619.8,4009.0 L1620.4,4009.0 L1621.0,4009.0 L1621.6,4009.0 L1622.3,4009.0 L1622.9,4009.0 L1623.5,4009.1" stroke="#3c3c3c" stroke-width="4.2" stroke-linecap="round"/>
<path d="M137.4,4011.1 L139.9,4011.1 L142.4,4011.1 L144.8,4011.0 L147.3,4011.0 L149.8,4011.0 L152.3,4011.0 L154.7,4011.0 L157.2,4011.0 L159.7,4010.9 L162.2,4010.9 L164.6,4010.9 L167.1,4010.9 L169.6,4010.9 L172.1,4010.8 L174.6,4010.8 L177.0,4010.8 L179.5,4010.8 L182.0,4010.8 L184.5,4010.7 L186.9,4010.7 L189.4,4010.7 L191.9,4010.7 L194.4,4010.6 L196.8,4010.6 L199.3,4010.6 L201.8,4010.6 L204.3,4010.6 L206.8,4010.5 L209.2,4010.5 L211.7,4010.5 L214.2,4010.5 L216.7,4010.4 L219.1,4010.4 L221.6,4010.4 L224.1,4010.4 L226.6,4010.3 L229.0,4010.3 L231.5,4010.3 L234.0,4010.2 L236.5,4010.2 L239.0,4010.2 L241.4,4010.2 L243.9,4010.1 L246.4,4010.1 L248.9,4010.1 L251.3,4010.0 L253.8,4010.0 L256.3,4010.0 L258.8,4009.9 L261.2,4009.9 L263.7,4009.9 L266.2,4009.8 L268.7,4009.8 L271.1,4009.7 L273.6,4009.7 L276.1,4009.7 L278.6,4009.6 L281.1,4009.6 L283.5,4009.5 L286.0,4009.5 L288.5,4009.4 L291.0,4009.4 L293.4,4009.3 L295.9,4009.3 L298.4,4009.3 L300.9,4009.2 L303.3,4009.1 L305.8,4009.1 L308.3,4009.0 L310.8,4009.0 L313.3,4008.9 L315.7,4008.9 L318.2,4008.8 L320.7,4008.7 L323.2,4008.7 L325.6,4008.6 L328.1,4008.5 L330.6,4008.5 L333.1,4008.4 L335.5,4008.3 L338.0,4008.2 L340.5,4008.1 L343.0,4008.1 L345.5,4008.0 L347.9,4007.9 L350.4,4007.8 L352.9,4007.7 L355.4,4007.6 L357.8,4007.5 L360.3,4007.4 L362.8,4007.3 L365.3,4007.2 L367.7,4007.0 L370.2,4006.9 L372.7,4006.8 L375.2,4006.7 L377.7,4006.5 L380.1,4006.4 L382.6,4006.2 L385.1,4006.1 L387.6,4005.9 L390.0,4005.8 L392.5,4005.6 L395.0,4005.4 L397.5,4005.2 L399.9,4005.1 L402.4,4004.9 L404.9,4004.7 L407.4,4004.5 L409.9,4004.3 L412.3,4004.0 L414.8,4003.8 L417.3,4003.6 L419.8,4003.3 L422.2,4003.1 L424.7,4002.8 L427.2,4002.6 L429.7,4002.3 L432.1,4002.0 L434.6,4001.7 L437.1,4001.4 L439.6,4001.1 L442.1,4000.7 L444.5,4000.4 L447.0,4000.0 L449.5,3999.7 L452.0,3999.3 L454.4,3998.9 L456.9,3998.5 L459.4,3998.1 L461.9,3997.7 L464.3,3997.2 L466.8,3996.8 L469.3,3996.3 L471.8,3995.8 L474.2,3995.3 L476.7,3994.8 L479.2,3994.3 L481.7,3993.7 L484.2,3993.2 L486.6,3992.6 L489.1,3992.0 L491.6,3991.4 L494.1,3990.8 L496.5,3990.1 L499.0,3989.4 L501.5,3988.8 L504.0,3988.0 L506.4,3987.3 L508.9,3986.6 L511.4,3985.8 L513.9,3985.0 L516.4,3984.2 L518.8,3983.4 L521.3,3982.6 L523.8,3981.7 L526.3,3980.8 L528.7,3979.9 L531.2,3979.0 L533.7,3978.0 L536.2,3977.0 L538.6,3976.0 L541.1,3975.0 L543.6,3973.9 L546.1,3972.9 L548.6,3971.8 L551.0,3970.7 L553.5,3969.5 L556.0,3968.3 L558.5,3967.2 L560.9,3965.9 L563.4,3964.7 L565.9,3963.4 L568.4,3962.2 L570.8,3960.9 L573.3,3959.5 L575.8,3958.2 L578.3,3956.8 L580.8,3955.4 L583.2,3953.9 L585.7,3952.5 L588.2,3951.0 L590.7,3949.5 L593.1,3948.0 L595.6,3946.5 L598.1,3944.9 L600.6,3943.3 L603.0,3941.7 L605.5,3940.1 L608.0,3938.4 L610.5,3936.7 L613.0,3935.1 L615.4,3933.3 L617.9,3931.6 L620.4,3929.9 L622.9,3928.1 L625.3,3926.3 L627.8,3924.5 L630.3,3922.7 L632.8,3920.9 L635.2,3919.0 L637.7,3917.2 L640.2,3915.3 L642.7,3913.4 L645.2,3911.5 L647.6,3909.6 L650.1,3907.7 L652.6,3905.8 L655.1,3903.9 L657.5,3901.9 L660.0,3900.0 L662.5,3898.1 L665.0,3896.1 L667.4,3894.2 L669.9,3892.2 L672.4,3890.3 L674.9,3888.3 L677.3,3886.4 L679.8,3884.5 L682.3,3882.5 L684.8,3880.6 L687.3,3878.7 L689.7,3876.8 L692.2,3874.9 L694.7,3873.0 L697.2,3871.1 L699.6,3869.3 L702.1,3867.5 L704.6,3865.6 L707.1,3863.8 L709.5,3862.1 L712.0,3860.3 L714.5,3858.6 L717.0,3856.9 L719.5,3855.2 L721.9,3853.6 L724.4,3852.0 L726.9,3850.4 L729.4,3848.8 L731.8,3847.3 L734.3,3845.9 L736.8,3844.4 L739.3,3843.0 L741.7,3841.7 L744.2,3840.4 L746.7,3839.1 L749.2,3837.9 L751.7,3836.8 L754.1,3835.7 L756.6,3834.6 L759.1,3833.6 L761.6,3832.6 L764.0,3831.7 L766.5,3830.9 L769.0,3830.1 L771.5,3829.4 L773.9,3828.7 L776.4,3828.1 L778.9,3827.6 L781.4,3827.1 L783.9,3826.7 L786.3,3826.3 L788.8,3826.0 L791.3,3825.8 L793.8,3825.6 L796.2,3825.5 L798.7,3825.5 L801.2,3825.5 L803.7,3825.6 L806.1,3825.8 L808.6,3826.0 L811.1,3826.3 L813.6,3826.7 L816.1,3827.1 L818.5,3827.6 L821.0,3828.1 L823.5,3828.7 L826.0,3829.4 L828.4,3830.1 L830.9,3830.9 L833.4,3831.7 L835.9,3832.6 L838.3,3833.6 L840.8,3834.6 L843.3,3835.7 L845.8,3836.8 L848.3,3837.9 L850.7,3839.1 L853.2,3840.4 L855.7,3841.7 L858.2,3843.0 L860.6,3844.4 L863.1,3845.9 L865.6,3847.3 L868.1,3848.8 L870.5,3850.4 L873.0,3852.0 L875.5,3853.6 L878.0,3855.2 L880.4,3856.9 L882.9,3858.6 L885.4,3860.3 L887.9,3862.1 L890.4,3863.8 L892.8,3865.6 L895.3,3867.5 L897.8,3869.3 L900.3,3871.1 L902.7,3873.0 L905.2,3874.9 L907.7,3876.8 L910.2,3878.7 L912.6,3880.6 L915.1,3882.5 L917.6,3884.5 L920.1,3886.4 L922.6,3888.3 L925.0,3890.3 L927.5,3892.2 L930.0,3894.2 L932.5,3896.1 L934.9,3898.1 L937.4,3900.0 L939.9,3901.9 L942.4,3903.9 L944.8,3905.8 L947.3,3907.7 L949.8,3909.6 L952.3,3911.5 L954.8,3913.4 L957.2,3915.3 L959.7,3917.2 L962.2,3919.0 L964.7,3920.9 L967.1,3922.7 L969.6,3924.5 L972.1,3926.3 L974.6,3928.1 L977.0,3929.9 L979.5,3931.6 L982.0,3933.3 L984.5,3935.1 L987.0,3936.7 L989.4,3938.4 L991.9,3940.1 L994.4,3941.7 L996.9,3943.3 L999.3,3944.9 L1001.8,3946.5 L1004.3,3948.0 L1006.8,3949.5 L1009.2,3951.0 L1011.7,3952.5 L1014.2,3953.9 L1016.7,3955.4 L1019.2,3956.8 L1021.6,3958.2 L1024.1,3959.5 L1026.6,3960.9 L1029.1,3962.2 L1031.5,3963.4 L1034.0,3964.7 L1036.5,3965.9 L1039.0,3967.2 L1041.4,3968.3 L1043.9,3969.5 L1046.4,3970.7 L1048.9,3971.8 L1051.4,3972.9 L1053.8,3973.9 L1056.3,3975.0 L1058.8,3976.0 L1061.3,3977.0 L1063.7,3978.0 L1066.2,3979.0 L1068.7,3979.9 L1071.2,3980.8 L1073.6,3981.7 L1076.1,3982.6 L1078.6,3983.4 L1081.1,3984.2 L1083.6,3985.0 L1086.0,3985.8 L1088.5,3986.6 L1091.0,3987.3 L1093.5,3988.0 L1095.9,3988.8 L1098.4,3989.4 L1100.9,3990.1 L1103.4,3990.8 L1105.8,3991.4 L1108.3,3992.0 L1110.8,3992.6 L1113.3,3993.2 L1115.7,3993.7 L1118.2,3994.3 L1120.7,3994.8 L1123.2,3995.3 L1125.7,3995.8 L1128.1,3996.3 L1130.6,3996.8 L1133.1,3997.2 L1135.6,3997.7 L1138.0,3998.1 L1140.5,3998.5 L1143.0,3998.9 L1145.5,3999.3 L1147.9,3999.7 L1150.4,4000.0 L1152.9,4000.4 L1155.4,4000.7 L1157.9,4001.1 L1160.3,4001.4 L1162.8,4001.7 L1165.3,4002.0 L1167.8,4002.3 L1170.2,4002.6 L1172.7,4002.8 L1175.2,4003.1 L1177.7,4003.3 L1180.1,4003.6 L1182.6,4003.8 L1185.1,4004.0 L1187.6,4004.3 L1190.1,4004.5 L1192.5,4004.7 L1195.0,4004.9 L1197.5,4005.1 L1200.0,4005.2 L1202.4,4005.4 L1204.9,4005.6 L1207.4,4005.8 L1209.9,4005.9 L1212.3,4006.1 L1214.8,4006.2 L1217.3,4006.4 L1219.8,4006.5 L1222.3,4006.7 L1224.7,4006.8 L1227.2,4006.9 L1229.7,4007.0 L1232.2,4007.2 L1234.6,4007.3 L1237.1,4007.4 L1239.6,4007.5 L1242.1,4007.6 L1244.5,4007.7 L1247.0,4007.8 L1249.5,4007.9 L1252.0,4008.0 L1254.5,4008.1 L1256.9,4008.1 L1259.4,4008.2 L1261.9,4008.3 L1264.4,4008.4 L1266.8,4008.5 L1269.3,4008.5 L1271.8,4008.6 L1274.3,4008.7 L1276.7,4008.7 L1279.2,4008.8 L1281.7,4008.9 L1284.2,4008.9 L1286.7,4009.0 L1289.1,4009.0 L1291.6,4009.1 L1294.1,4009.1 L1296.6,4009.2 L1299.0,4009.3 L1301.5,4009.3 L1304.0,4009.3 L1306.5,4009.4 L1308.9,4009.4 L1311.4,4009.5 L1313.9,4009.5 L1316.4,4009.6 L1318.8,4009.6 L1321.3,4009.7 L1323.8,4009.7 L1326.3,4009.7 L1328.8,4009.8 L1331.2,4009.8 L1333.7,4009.9 L1336.2,4009.9 L1338.7,4009.9 L1341.1,4010.0 L1343.6,4010.0 L1346.1,4010.0 L1348.6,4010.1 L1351.0,4010.1 L1353.5,4010.1 L1356.0,4010.2 L1358.5,4010.2 L1361.0,4010.2 L1363.4,4010.2 L1365.9,4010.3 L1368.4,4010.3 L1370.9,4010.3 L1373.3,4010.4 L1375.8,4010.4 L1378.3,4010.4 L1380.8,4010.4 L1383.2,4010.5 L1385.7,4010.5 L1388.2,4010.5 L1390.7,4010.5 L1393.2,4010.6 L1395.6,4010.6 L1398.1,4010.6 L1400.6,4010.6 L1403.1,4010.6 L1405.5,4010.7 L1408.0,4010.7 L1410.5,4010.7 L1413.0,4010.7 L1415.4,4010.8 L1417.9,4010.8 L1420.4,4010.8 L1422.9,4010.8 L1425.4,4010.8 L1427.8,4010.9 L1430.3,4010.9 L1432.8,4010.9 L1435.3,4010.9 L1437.7,4010.9 L1440.2,4011.0 L1442.7,4011.0 L1445.2,4011.0 L1447.6,4011.0 L1450.1,4011.0 L1452.6,4011.0 L1455.1,4011.1 L1457.6,4011.1 L1460.0,4011.1 L1462.5,4011.1 L1465.0,4011.1 L1467.5,4011.1 L1469.9,4011.2 L1472.4,4011.2 L1474.9,4011.2 L1477.4,4011.2 L1479.8,4011.2 L1482.3,4011.2 L1484.8,4011.3 L1487.3,4011.3 L1489.8,4011.3 L1492.2,4011.3 L1494.7,4011.3 L1497.2,4011.3 L1499.7,4011.4 L1502.1,4011.4 L1504.6,4011.4 L1507.1,4011.4 L1509.6,4011.4 L1512.0,4011.4 L1514.5,4011.4 L1517.0,4011.4 L1519.5,4011.5 L1521.9,4011.5 L1524.4,4011.5 L1526.9,4011.5 L1529.4,4011.5 L1531.9,4011.5 L1534.3,4011.5 L1536.8,4011.6 L1539.3,4011.6 L1541.8,4011.6 L1544.2,4011.6 L1546.7,4011.6 L1549.2,4011.6 L1551.7,4011.6 L1554.1,4011.6 L1556.6,4011.6 L1559.1,4011.7 L1561.6,4011.7 L1564.1,4011.7 L1566.5,4011.7 L1569.0,4011.7 L1571.5,4011.7 L1574.0,4011.7 L1576.4,4011.7 L1578.9,4011.7 L1581.4,4011.8 L1583.9,4011.8 L1586.3,4011.8 L1588.8,4011.8 L1591.3,4011.8 L1593.8,4011.8 L1596.3,4011.8 L1598.7,4011.8 L1601.2,4011.8 L1603.7,4011.8 L1606.2,4011.9 L1608.6,4011.9 L1611.1,4011.9 L1613.6,4011.9 L1616.1,4011.9 L1618.5,4011.9 L1621.0,4011.9 L1623.5,4011.9" stroke="#0000ff" stroke-width="4.6" stroke-dasharray="21.5 33" stroke-linecap="round" stroke-dashoffset="10"/>
<path d="M137.4,4013.5 L139.9,4013.5 L142.4,4013.5 L144.8,4013.5 L147.3,4013.5 L149.8,4013.5 L152.3,4013.5 L154.7,4013.5 L157.2,4013.5 L159.7,4013.5 L162.2,4013.5 L164.6,4013.5 L167.1,4013.5 L169.6,4013.5 L172.1,4013.5 L174.6,4013.5 L177.0,4013.5 L179.5,4013.5 L182.0,4013.5 L184.5,4013.5 L186.9,4013.5 L189.4,4013.5 L191.9,4013.5 L194.4,4013.5 L196.8,4013.5 L199.3,4013.5 L201.8,4013.5 L204.3,4013.5 L206.8,4013.5 L209.2,4013.5 L211.7,4013.5 L214.2,4013.5 L216.7,4013.5 L219.1,4013.5 L221.6,4013.5 L224.1,4013.5 L226.6,4013.5 L229.0,4013.5 L231.5,4013.5 L234.0,4013.5 L236.5,4013.5 L239.0,4013.5 L241.4,4013.5 L243.9,4013.5 L246.4,4013.5 L248.9,4013.5 L251.3,4013.5 L253.8,4013.5 L256.3,4013.5 L258.8,4013.5 L261.2,4013.5 L263.7,4013.5 L266.2,4013.5 L268.7,4013.5 L271.1,4013.5 L273.6,4013.5 L276.1,4013.5 L278.6,4013.5 L281.1,4013.5 L283.5,4013.5 L286.0,4013.5 L288.5,4013.5 L291.0,4013.5 L293.4,4013.5 L295.9,4013.5 L298.4,4013.5 L300.9,4013.5 L303.3,4013.5 L305.8,4013.5 L308.3,4013.5 L310.8,4013.5 L313.3,4013.5 L315.7,4013.5 L318.2,4013.5 L320.7,4013.5 L323.2,4013.5 L325.6,4013.5 L328.1,4013.5 L330.6,4013.5 L333.1,4013.5 L335.5,4013.5 L338.0,4013.5 L340.5,4013.5 L343.0,4013.5 L345.5,4013.5 L347.9,4013.5 L350.4,4013.5 L352.9,4013.5 L355.4,4013.5 L357.8,4013.5 L360.3,4013.5 L362.8,4013.5 L365.3,4013.5 L367.7,4013.5 L370.2,4013.5 L372.7,4013.5 L375.2,4013.5 L377.7,4013.5 L380.1,4013.5 L382.6,4013.5 L385.1,4013.5 L387.6,4013.5 L390.0,4013.5 L392.5,4013.5 L395.0,4013.5 L397.5,4013.5 L399.9,4013.5 L402.4,4013.5 L404.9,4013.5 L407.4,4013.5 L409.9,4013.5 L412.3,4013.5 L414.8,4013.5 L417.3,4013.5 L419.8,4013.5 L422.2,4013.5 L424.7,4013.5 L427.2,4013.5 L429.7,4013.5 L432.1,4013.5 L434.6,4013.5 L437.1,4013.5 L439.6,4013.5 L442.1,4013.5 L444.5,4013.5 L447.0,4013.5 L449.5,4013.5 L452.0,4013.5 L454.4,4013.5 L456.9,4013.5 L459.4,4013.5 L461.9,4013.5 L464.3,4013.5 L466.8,4013.5 L469.3,4013.5 L471.8,4013.5 L474.2,4013.5 L476.7,4013.5 L479.2,4013.5 L481.7,4013.5 L484.2,4013.5 L486.6,4013.5 L489.1,4013.5 L491.6,4013.5 L494.1,4013.5 L496.5,4013.5 L499.0,4013.5 L501.5,4013.5 L504.0,4013.5 L506.4,4013.5 L508.9,4013.5 L511.4,4013.5 L513.9,4013.5 L516.4,4013.5 L518.8,4013.5 L521.3,4013.5 L523.8,4013.5 L526.3,4013.5 L528.7,4013.5 L531.2,4013.5 L533.7,4013.5 L536.2,4013.5 L538.6,4013.5 L541.1,4013.5 L543.6,4013.5 L546.1,4013.5 L548.6,4013.5 L551.0,4013.5 L553.5,4013.5 L556.0,4013.5 L558.5,4013.5 L560.9,4013.5 L563.4,4013.5 L565.9,4013.5 L568.4,4013.5 L570.8,4013.5 L573.3,4013.5 L575.8,4013.5 L578.3,4013.5 L580.8,4013.5 L583.2,4013.5 L585.7,4013.5 L588.2,4013.5 L590.7,4013.5 L593.1,4013.5 L595.6,4013.5 L598.1,4013.5 L600.6,4013.5 L603.0,4013.5 L605.5,4013.5 L608.0,4013.5 L610.5,4013.5 L613.0,4013.5 L615.4,4013.5 L617.9,4013.5 L620.4,4013.5 L622.9,4013.5 L625.3,4013.5 L627.8,4013.5 L630.3,4013.5 L632.8,4013.5 L635.2,4013.5 L637.7,4013.5 L640.2,4013.5 L642.7,4013.5 L645.2,4013.5 L647.6,4013.5 L650.1,4013.5 L652.6,4013.5 L655.1,4013.5 L657.5,4013.5 L660.0,4013.5 L662.5,4013.5 L665.0,4013.5 L667.4,4013.5 L669.9,4013.5 L672.4,4013.5 L674.9,4013.5 L677.3,4013.5 L679.8,4013.5 L682.3,4013.5 L684.8,4013.5 L687.3,4013.5 L689.7,4013.5 L692.2,4013.5 L694.7,4013.5 L697.2,4013.5 L699.6,4013.5 L702.1,4013.5 L704.6,4013.5 L707.1,4013.5 L709.5,4013.5 L712.0,4013.5 L714.5,4013.5 L717.0,4013.5 L719.5,4013.5 L721.9,4013.5 L724.4,4013.5 L726.9,4013.5 L729.4,4013.5 L731.8,4013.5 L734.3,4013.5 L736.8,4013.5 L739.3,4013.5 L741.7,4013.5 L744.2,4013.5 L746.7,4013.5 L749.2,4013.5 L751.7,4013.5 L754.1,4013.5 L756.6,4013.5 L759.1,4013.5 L761.6,4013.5 L764.0,4013.5 L766.5,4013.5 L769.0,4013.5 L771.5,4013.5 L773.9,4013.5 L776.4,4013.5 L778.9,4013.5 L781.4,4013.5 L783.9,4013.5 L786.3,4013.5 L788.8,4013.5 L791.3,4013.5 L793.8,4013.5 L796.2,4013.5 L798.7,4013.5 L801.2,4013.5 L803.7,4013.5 L806.1,4013.5 L808.6,4013.5 L811.1,4013.5 L813.6,4013.5 L816.1,4013.5 L818.5,4013.5 L821.0,4013.5 L823.5,4013.5 L826.0,4013.5 L828.4,4013.5 L830.9,4013.5 L833.4,4013.5 L835.9,4013.5 L838.3,4013.5 L840.8,4013.5 L843.3,4013.5 L845.8,4013.5 L848.3,4013.5 L850.7,4013.5 L853.2,4013.5 L855.7,4013.5 L858.2,4013.5 L860.6,4013.5 L863.1,4013.5 L865.6,4013.5 L868.1,4013.5 L870.5,4013.5 L873.0,4013.5 L875.5,4013.5 L878.0,4013.5 L880.4,4013.5 L882.9,4013.5 L885.4,4013.5 L887.9,4013.5 L890.4,4013.5 L892.8,4013.5 L895.3,4013.5 L897.8,4013.5 L900.3,4013.5 L902.7,4013.5 L905.2,4013.5 L907.7,4013.5 L910.2,4013.5 L912.6,4013.5 L915.1,4013.5 L917.6,4013.5 L920.1,4013.5 L922.6,4013.5 L925.0,4013.5 L927.5,4013.5 L930.0,4013.5 L932.5,4013.5 L934.9,4013.5 L937.4,4013.5 L939.9,4013.5 L942.4,4013.5 L944.8,4013.5 L947.3,4013.5 L949.8,4013.5 L952.3,4013.5 L954.8,4013.5 L957.2,4013.5 L959.7,4013.5 L962.2,4013.5 L964.7,4013.5 L967.1,4013.5 L969.6,4013.5 L972.1,4013.5 L974.6,4013.5 L977.0,4013.5 L979.5,4013.5 L982.0,4013.5 L984.5,4013.5 L987.0,4013.5 L989.4,4013.5 L991.9,4013.5 L994.4,4013.5 L996.9,4013.5 L999.3,4013.5 L1001.8,4013.5 L1004.3,4013.5 L1006.8,4013.5 L1009.2,4013.5 L1011.7,4013.5 L1014.2,4013.5 L1016.7,4013.5 L1019.2,4013.5 L1021.6,4013.5 L1024.1,4013.5 L1026.6,4013.5 L1029.1,4013.5 L1031.5,4013.5 L1034.0,4013.5 L1036.5,4013.5 L1039.0,4013.5 L1041.4,4013.5 L1043.9,4013.5 L1046.4,4013.5 L1048.9,4013.5 L1051.4,4013.5 L1053.8,4013.5 L1056.3,4013.5 L1058.8,4013.5 L1061.3,4013.5 L1063.7,4013.4 L1066.2,4013.1 L1068.7,4012.3 L1071.2,4010.1 L1073.6,4004.6 L1076.1,3992.6 L1078.6,3969.1 L1081.1,3928.2 L1083.6,3865.4 L1086.0,3781.1 L1088.5,3684.0 L1091.0,3591.2 L1093.5,3524.4 L1095.9,3501.6 L1098.4,3529.3 L1100.9,3599.6 L1103.4,3693.8 L1105.8,3790.4 L1108.3,3872.7 L1110.8,3933.3 L1113.3,3972.2 L1115.7,3994.3 L1118.2,4005.4 L1120.7,4010.4 L1123.2,4012.4 L1125.7,4013.2 L1128.1,4013.4 L1130.6,4013.5 L1133.1,4013.5 L1135.6,4013.5 L1138.0,4013.5 L1140.5,4013.5 L1143.0,4013.5 L1145.5,4013.5 L1147.9,4013.5 L1150.4,4013.5 L1152.9,4013.5 L1155.4,4013.5 L1157.9,4013.5 L1160.3,4013.5 L1162.8,4013.5 L1165.3,4013.5 L1167.8,4013.5 L1170.2,4013.5 L1172.7,4013.5 L1175.2,4013.5 L1177.7,4013.5 L1180.1,4013.5 L1182.6,4013.5 L1185.1,4013.5 L1187.6,4013.5 L1190.1,4013.5 L1192.5,4013.5 L1195.0,4013.5 L1197.5,4013.5 L1200.0,4013.5 L1202.4,4013.5 L1204.9,4013.5 L1207.4,4013.5 L1209.9,4013.5 L1212.3,4013.5 L1214.8,4013.5 L1217.3,4013.5 L1219.8,4013.5 L1222.3,4013.5 L1224.7,4013.5 L1227.2,4013.5 L1229.7,4013.5 L1232.2,4013.5 L1234.6,4013.5 L1237.1,4013.5 L1239.6,4013.5 L1242.1,4013.5 L1244.5,4013.5 L1247.0,4013.5 L1249.5,4013.5 L1252.0,4013.5 L1254.5,4013.5 L1256.9,4013.5 L1259.4,4013.5 L1261.9,4013.5 L1264.4,4013.5 L1266.8,4013.5 L1269.3,4013.5 L1271.8,4013.5 L1274.3,4013.5 L1276.7,4013.5 L1279.2,4013.5 L1281.7,4013.5 L1284.2,4013.5 L1286.7,4013.5 L1289.1,4013.5 L1291.6,4013.5 L1294.1,4013.5 L1296.6,4013.5 L1299.0,4013.5 L1301.5,4013.5 L1304.0,4013.5 L1306.5,4013.5 L1308.9,4013.5 L1311.4,4013.5 L1313.9,4013.5 L1316.4,4013.5 L1318.8,4013.5 L1321.3,4013.5 L1323.8,4013.5 L1326.3,4013.5 L1328.8,4013.5 L1331.2,4013.5 L1333.7,4013.5 L1336.2,4013.5 L1338.7,4013.5 L1341.1,4013.5 L1343.6,4013.5 L1346.1,4013.5 L1348.6,4013.5 L1351.0,4013.5 L1353.5,4013.5 L1356.0,4013.5 L1358.5,4013.5 L1361.0,4013.5 L1363.4,4013.5 L1365.9,4013.5 L1368.4,4013.5 L1370.9,4013.5 L1373.3,4013.5 L1375.8,4013.5 L1378.3,4013.5 L1380.8,4013.5 L1383.2,4013.5 L1385.7,4013.5 L1388.2,4013.5 L1390.7,4013.5 L1393.2,4013.5 L1395.6,4013.5 L1398.1,4013.5 L1400.6,4013.5 L1403.1,4013.5 L1405.5,4013.5 L1408.0,4013.5 L1410.5,4013.5 L1413.0,4013.5 L1415.4,4013.5 L1417.9,4013.5 L1420.4,4013.5 L1422.9,4013.5 L1425.4,4013.5 L1427.8,4013.5 L1430.3,4013.5 L1432.8,4013.5 L1435.3,4013.5 L1437.7,4013.5 L1440.2,4013.5 L1442.7,4013.5 L1445.2,4013.5 L1447.6,4013.5 L1450.1,4013.5 L1452.6,4013.5 L1455.1,4013.5 L1457.6,4013.5 L1460.0,4013.5 L1462.5,4013.5 L1465.0,4013.5 L1467.5,4013.5 L1469.9,4013.5 L1472.4,4013.5 L1474.9,4013.5 L1477.4,4013.5 L1479.8,4013.5 L1482.3,4013.5 L1484.8,4013.5 L1487.3,4013.5 L1489.8,4013.5 L1492.2,4013.5 L1494.7,4013.5 L1497.2,4013.5 L1499.7,4013.5 L1502.1,4013.5 L1504.6,4013.5 L1507.1,4013.5 L1509.6,4013.5 L1512.0,4013.5 L1514.5,4013.5 L1517.0,4013.5 L1519.5,4013.5 L1521.9,4013.5 L1524.4,4013.5 L1526.9,4013.5 L1529.4,4013.5 L1531.9,4013.5 L1534.3,4013.5 L1536.8,4013.5 L1539.3,4013.5 L1541.8,4013.5 L1544.2,4013.5 L1546.7,4013.5 L1549.2,4013.5 L1551.7,4013.5 L1554.1,4013.5 L1556.6,4013.5 L1559.1,4013.5 L1561.6,4013.5 L1564.1,4013.5 L1566.5,4013.5 L1569.0,4013.5 L1571.5,4013.5 L1574.0,4013.5 L1576.4,4013.5 L1578.9,4013.5 L1581.4,4013.5 L1583.9,4013.5 L1586.3,4013.5 L1588.8,4013.5 L1591.3,4013.5 L1593.8,4013.5 L1596.3,4013.5 L1598.7,4013.5 L1601.2,4013.5 L1603.7,4013.5 L1606.2,4013.5 L1608.6,4013.5 L1611.1,4013.5 L1613.6,4013.5 L1616.1,4013.5 L1618.5,4013.5 L1621.0,4013.5 L1623.5,4013.5" stroke="#ff00ff" stroke-width="4.6" stroke-dasharray="21.5 33" stroke-linecap="round" stroke-dashoffset="0"/>
<path d="M137.4,4013.0 L139.9,4013.0 L142.4,4013.0 L144.8,4013.0 L147.3,4013.0 L149.8,4013.0 L152.3,4013.0 L154.7,4013.0 L157.2,4013.0 L159.7,4013.0 L162.2,4013.0 L164.6,4012.9 L167.1,4012.9 L169.6,4012.9 L172.1,4012.9 L174.6,4012.9 L177.0,4012.9 L179.5,4012.9 L182.0,4012.9 L184.5,4012.9 L186.9,4012.9 L189.4,4012.9 L191.9,4012.9 L194.4,4012.9 L196.8,4012.9 L199.3,4012.9 L201.8,4012.9 L204.3,4012.9 L206.8,4012.9 L209.2,4012.9 L211.7,4012.9 L214.2,4012.9 L216.7,4012.9 L219.1,4012.9 L221.6,4012.9 L224.1,4012.9 L226.6,4012.9 L229.0,4012.9 L231.5,4012.9 L234.0,4012.9 L236.5,4012.9 L239.0,4012.9 L241.4,4012.8 L243.9,4012.8 L246.4,4012.8 L248.9,4012.8 L251.3,4012.8 L253.8,4012.8 L256.3,4012.8 L258.8,4012.8 L261.2,4012.8 L263.7,4012.8 L266.2,4012.8 L268.7,4012.8 L271.1,4012.8 L273.6,4012.8 L276.1,4012.8 L278.6,4012.8 L281.1,4012.8 L283.5,4012.8 L286.0,4012.8 L288.5,4012.8 L291.0,4012.8 L293.4,4012.8 L295.9,4012.8 L298.4,4012.8 L300.9,4012.7 L303.3,4012.7 L305.8,4012.7 L308.3,4012.7 L310.8,4012.7 L313.3,4012.7 L315.7,4012.7 L318.2,4012.7 L320.7,4012.7 L323.2,4012.7 L325.6,4012.7 L328.1,4012.7 L330.6,4012.7 L333.1,4012.7 L335.5,4012.7 L338.0,4012.7 L340.5,4012.7 L343.0,4012.7 L345.5,4012.7 L347.9,4012.7 L350.4,4012.6 L352.9,4012.6 L355.4,4012.6 L357.8,4012.6 L360.3,4012.6 L362.8,4012.6 L365.3,4012.6 L367.7,4012.6 L370.2,4012.6 L372.7,4012.6 L375.2,4012.6 L377.7,4012.6 L380.1,4012.6 L382.6,4012.6 L385.1,4012.6 L387.6,4012.6 L390.0,4012.6 L392.5,4012.5 L395.0,4012.5 L397.5,4012.5 L399.9,4012.5 L402.4,4012.5 L404.9,4012.5 L407.4,4012.5 L409.9,4012.5 L412.3,4012.5 L414.8,4012.5 L417.3,4012.5 L419.8,4012.5 L422.2,4012.5 L424.7,4012.5 L427.2,4012.4 L429.7,4012.4 L432.1,4012.4 L434.6,4012.4 L437.1,4012.4 L439.6,4012.4 L442.1,4012.4 L444.5,4012.4 L447.0,4012.4 L449.5,4012.4 L452.0,4012.4 L454.4,4012.4 L456.9,4012.3 L459.4,4012.3 L461.9,4012.3 L464.3,4012.3 L466.8,4012.3 L469.3,4012.3 L471.8,4012.3 L474.2,4012.3 L476.7,4012.3 L479.2,4012.3 L481.7,4012.3 L484.2,4012.2 L486.6,4012.2 L489.1,4012.2 L491.6,4012.2 L494.1,4012.2 L496.5,4012.2 L499.0,4012.2 L501.5,4012.2 L504.0,4012.2 L506.4,4012.2 L508.9,4012.1 L511.4,4012.1 L513.9,4012.1 L516.4,4012.1 L518.8,4012.1 L521.3,4012.1 L523.8,4012.1 L526.3,4012.1 L528.7,4012.0 L531.2,4012.0 L533.7,4012.0 L536.2,4012.0 L538.6,4012.0 L541.1,4012.0 L543.6,4012.0 L546.1,4012.0 L548.6,4011.9 L551.0,4011.9 L553.5,4011.9 L556.0,4011.9 L558.5,4011.9 L560.9,4011.9 L563.4,4011.9 L565.9,4011.8 L568.4,4011.8 L570.8,4011.8 L573.3,4011.8 L575.8,4011.8 L578.3,4011.8 L580.8,4011.8 L583.2,4011.7 L585.7,4011.7 L588.2,4011.7 L590.7,4011.7 L593.1,4011.7 L595.6,4011.6 L598.1,4011.6 L600.6,4011.6 L603.0,4011.6 L605.5,4011.6 L608.0,4011.6 L610.5,4011.5 L613.0,4011.5 L615.4,4011.5 L617.9,4011.5 L620.4,4011.5 L622.9,4011.4 L625.3,4011.4 L627.8,4011.4 L630.3,4011.4 L632.8,4011.4 L635.2,4011.3 L637.7,4011.3 L640.2,4011.3 L642.7,4011.3 L645.2,4011.2 L647.6,4011.2 L650.1,4011.2 L652.6,4011.2 L655.1,4011.1 L657.5,4011.1 L660.0,4011.1 L662.5,4011.1 L665.0,4011.0 L667.4,4011.0 L669.9,4011.0 L672.4,4011.0 L674.9,4010.9 L677.3,4010.9 L679.8,4010.9 L682.3,4010.8 L684.8,4010.8 L687.3,4010.8 L689.7,4010.7 L692.2,4010.7 L694.7,4010.7 L697.2,4010.6 L699.6,4010.6 L702.1,4010.6 L704.6,4010.5 L707.1,4010.5 L709.5,4010.5 L712.0,4010.4 L714.5,4010.4 L717.0,4010.3 L719.5,4010.3 L721.9,4010.3 L724.4,4010.2 L726.9,4010.2 L729.4,4010.1 L731.8,4010.1 L734.3,4010.1 L736.8,4010.0 L739.3,4010.0 L741.7,4009.9 L744.2,4009.9 L746.7,4009.8 L749.2,4009.8 L751.7,4009.7 L754.1,4009.7 L756.6,4009.6 L759.1,4009.6 L761.6,4009.5 L764.0,4009.4 L766.5,4009.4 L769.0,4009.3 L771.5,4009.3 L773.9,4009.2 L776.4,4009.1 L778.9,4009.1 L781.4,4009.0 L783.9,4008.9 L786.3,4008.9 L788.8,4008.8 L791.3,4008.7 L793.8,4008.7 L796.2,4008.6 L798.7,4008.5 L801.2,4008.4 L803.7,4008.4 L806.1,4008.3 L808.6,4008.2 L811.1,4008.1 L813.6,4008.0 L816.1,4007.9 L818.5,4007.8 L821.0,4007.7 L823.5,4007.6 L826.0,4007.5 L828.4,4007.4 L830.9,4007.3 L833.4,4007.2 L835.9,4007.1 L838.3,4007.0 L840.8,4006.9 L843.3,4006.7 L845.8,4006.6 L848.3,4006.5 L850.7,4006.4 L853.2,4006.2 L855.7,4006.1 L858.2,4006.0 L860.6,4005.8 L863.1,4005.7 L865.6,4005.5 L868.1,4005.3 L870.5,4005.2 L873.0,4005.0 L875.5,4004.8 L878.0,4004.7 L880.4,4004.5 L882.9,4004.3 L885.4,4004.1 L887.9,4003.9 L890.4,4003.7 L892.8,4003.4 L895.3,4003.2 L897.8,4003.0 L900.3,4002.7 L902.7,4002.5 L905.2,4002.2 L907.7,4002.0 L910.2,4001.7 L912.6,4001.4 L915.1,4001.1 L917.6,4000.8 L920.1,4000.5 L922.6,4000.2 L925.0,3999.8 L927.5,3999.5 L930.0,3999.1 L932.5,3998.7 L934.9,3998.3 L937.4,3997.9 L939.9,3997.5 L942.4,3997.0 L944.8,3996.5 L947.3,3996.1 L949.8,3995.5 L952.3,3995.0 L954.8,3994.5 L957.2,3993.9 L959.7,3993.3 L962.2,3992.6 L964.7,3992.0 L967.1,3991.3 L969.6,3990.5 L972.1,3989.8 L974.6,3988.9 L977.0,3988.1 L979.5,3987.2 L982.0,3986.2 L984.5,3985.2 L987.0,3984.1 L989.4,3983.0 L991.9,3981.8 L994.4,3980.5 L996.9,3979.1 L999.3,3977.6 L1001.8,3976.0 L1004.3,3974.2 L1006.8,3972.3 L1009.2,3970.3 L1011.7,3968.0 L1014.2,3965.6 L1016.7,3962.9 L1019.2,3959.9 L1021.6,3956.7 L1024.1,3953.1 L1026.6,3949.1 L1029.1,3944.8 L1031.5,3940.0 L1034.0,3934.6 L1036.5,3928.8 L1039.0,3922.3 L1041.4,3915.1 L1043.9,3907.3 L1046.4,3898.7 L1048.9,3889.3 L1051.4,3879.1 L1053.8,3867.9 L1056.3,3855.9 L1058.8,3842.8 L1061.3,3828.8 L1063.7,3813.8 L1066.2,3797.8 L1068.7,3780.8 L1071.2,3762.9 L1073.6,3744.1 L1076.1,3724.5 L1078.6,3704.2 L1081.1,3683.3 L1083.6,3662.1 L1086.0,3640.6 L1088.5,3619.4 L1091.0,3598.5 L1093.5,3578.5 L1095.9,3559.7 L1098.4,3542.5 L1100.9,3527.6 L1103.4,3515.2 L1105.8,3505.9 L1108.3,3499.9 L1110.8,3497.5 L1113.3,3498.8 L1115.7,3503.7 L1118.2,3512.1 L1120.7,3523.6 L1123.2,3537.8 L1125.7,3554.3 L1128.1,3572.7 L1130.6,3592.4 L1133.1,3613.0 L1135.6,3634.2 L1138.0,3655.6 L1140.5,3677.0 L1143.0,3698.0 L1145.5,3718.5 L1147.9,3738.3 L1150.4,3757.4 L1152.9,3775.6 L1155.4,3792.8 L1157.9,3809.1 L1160.3,3824.4 L1162.8,3838.7 L1165.3,3852.1 L1167.8,3864.4 L1170.2,3875.8 L1172.7,3886.3 L1175.2,3896.0 L1177.7,3904.8 L1180.1,3912.9 L1182.6,3920.2 L1185.1,3926.9 L1187.6,3932.9 L1190.1,3938.4 L1192.5,3943.4 L1195.0,3947.9 L1197.5,3952.0 L1200.0,3955.6 L1202.4,3959.0 L1204.9,3962.0 L1207.4,3964.8 L1209.9,3967.3 L1212.3,3969.6 L1214.8,3971.7 L1217.3,3973.7 L1219.8,3975.5 L1222.3,3977.1 L1224.7,3978.7 L1227.2,3980.1 L1229.7,3981.4 L1232.2,3982.6 L1234.6,3983.8 L1237.1,3984.9 L1239.6,3985.9 L1242.1,3986.9 L1244.5,3987.8 L1247.0,3988.7 L1249.5,3989.5 L1252.0,3990.3 L1254.5,3991.1 L1256.9,3991.8 L1259.4,3992.4 L1261.9,3993.1 L1264.4,3993.7 L1266.8,3994.3 L1269.3,3994.9 L1271.8,3995.4 L1274.3,3995.9 L1276.7,3996.4 L1279.2,3996.9 L1281.7,3997.3 L1284.2,3997.8 L1286.7,3998.2 L1289.1,3998.6 L1291.6,3999.0 L1294.1,3999.4 L1296.6,3999.7 L1299.0,4000.1 L1301.5,4000.4 L1304.0,4000.7 L1306.5,4001.0 L1308.9,4001.3 L1311.4,4001.6 L1313.9,4001.9 L1316.4,4002.2 L1318.8,4002.4 L1321.3,4002.7 L1323.8,4002.9 L1326.3,4003.1 L1328.8,4003.4 L1331.2,4003.6 L1333.7,4003.8 L1336.2,4004.0 L1338.7,4004.2 L1341.1,4004.4 L1343.6,4004.6 L1346.1,4004.8 L1348.6,4005.0 L1351.0,4005.1 L1353.5,4005.3 L1356.0,4005.5 L1358.5,4005.6 L1361.0,4005.8 L1363.4,4005.9 L1365.9,4006.1 L1368.4,4006.2 L1370.9,4006.3 L1373.3,4006.5 L1375.8,4006.6 L1378.3,4006.7 L1380.8,4006.8 L1383.2,4007.0 L1385.7,4007.1 L1388.2,4007.2 L1390.7,4007.3 L1393.2,4007.4 L1395.6,4007.5 L1398.1,4007.6 L1400.6,4007.7 L1403.1,4007.8 L1405.5,4007.9 L1408.0,4008.0 L1410.5,4008.1 L1413.0,4008.2 L1415.4,4008.2 L1417.9,4008.3 L1420.4,4008.4 L1422.9,4008.5 L1425.4,4008.6 L1427.8,4008.6 L1430.3,4008.7 L1432.8,4008.8 L1435.3,4008.9 L1437.7,4008.9 L1440.2,4009.0 L1442.7,4009.1 L1445.2,4009.1 L1447.6,4009.2 L1450.1,4009.3 L1452.6,4009.3 L1455.1,4009.4 L1457.6,4009.4 L1460.0,4009.5 L1462.5,4009.5 L1465.0,4009.6 L1467.5,4009.6 L1469.9,4009.7 L1472.4,4009.8 L1474.9,4009.8 L1477.4,4009.9 L1479.8,4009.9 L1482.3,4009.9 L1484.8,4010.0 L1487.3,4010.0 L1489.8,4010.1 L1492.2,4010.1 L1494.7,4010.2 L1497.2,4010.2 L1499.7,4010.3 L1502.1,4010.3 L1504.6,4010.3 L1507.1,4010.4 L1509.6,4010.4 L1512.0,4010.5 L1514.5,4010.5 L1517.0,4010.5 L1519.5,4010.6 L1521.9,4010.6 L1524.4,4010.6 L1526.9,4010.7 L1529.4,4010.7 L1531.9,4010.7 L1534.3,4010.8 L1536.8,4010.8 L1539.3,4010.8 L1541.8,4010.9 L1544.2,4010.9 L1546.7,4010.9 L1549.2,4010.9 L1551.7,4011.0 L1554.1,4011.0 L1556.6,4011.0 L1559.1,4011.1 L1561.6,4011.1 L1564.1,4011.1 L1566.5,4011.1 L1569.0,4011.2 L1571.5,4011.2 L1574.0,4011.2 L1576.4,4011.2 L1578.9,4011.3 L1581.4,4011.3 L1583.9,4011.3 L1586.3,4011.3 L1588.8,4011.3 L1591.3,4011.4 L1593.8,4011.4 L1596.3,4011.4 L1598.7,4011.4 L1601.2,4011.5 L1603.7,4011.5 L1606.2,4011.5 L1608.6,4011.5 L1611.1,4011.5 L1613.6,4011.6 L1616.1,4011.6 L1618.5,4011.6 L1621.0,4011.6 L1623.5,4011.6" stroke="#00ff00" stroke-width="4.6" stroke-dasharray="21.5 33" stroke-linecap="round" stroke-dashoffset="0"/>
<path d="M137.4,4013.5 L139.9,4013.5 L142.4,4013.5 L144.8,4013.5 L147.3,4013.5 L149.8,4013.5 L152.3,4013.5 L154.7,4013.5 L157.2,4013.5 L159.7,4013.5 L162.2,4013.5 L164.6,4013.5 L167.1,4013.5 L169.6,4013.5 L172.1,4013.5 L174.6,4013.5 L177.0,4013.5 L179.5,4013.5 L182.0,4013.5 L184.5,4013.5 L186.9,4013.5 L189.4,4013.5 L191.9,4013.5 L194.4,4013.5 L196.8,4013.5 L199.3,4013.5 L201.8,4013.5 L204.3,4013.5 L206.8,4013.5 L209.2,4013.5 L211.7,4013.5 L214.2,4013.5 L216.7,4013.5 L219.1,4013.5 L221.6,4013.5 L224.1,4013.5 L226.6,4013.5 L229.0,4013.5 L231.5,4013.5 L234.0,4013.5 L236.5,4013.5 L239.0,4013.5 L241.4,4013.5 L243.9,4013.5 L246.4,4013.5 L248.9,4013.5 L251.3,4013.5 L253.8,4013.5 L256.3,4013.5 L258.8,4013.5 L261.2,4013.5 L263.7,4013.5 L266.2,4013.5 L268.7,4013.5 L271.1,4013.5 L273.6,4013.5 L276.1,4013.5 L278.6,4013.5 L281.1,4013.5 L283.5,4013.5 L286.0,4013.5 L288.5,4013.5 L291.0,4013.5 L293.4,4013.5 L295.9,4013.5 L298.4,4013.5 L300.9,4013.5 L303.3,4013.5 L305.8,4013.5 L308.3,4013.5 L310.8,4013.5 L313.3,4013.5 L315.7,4013.5 L318.2,4013.5 L320.7,4013.5 L323.2,4013.5 L325.6,4013.5 L328.1,4013.5 L330.6,4013.5 L333.1,4013.5 L335.5,4013.5 L338.0,4013.5 L340.5,4013.5 L343.0,4013.5 L345.5,4013.5 L347.9,4013.5 L350.4,4013.5 L352.9,4013.5 L355.4,4013.5 L357.8,4013.5 L360.3,4013.5 L362.8,4013.5 L365.3,4013.5 L367.7,4013.5 L370.2,4013.5 L372.7,4013.5 L375.2,4013.5 L377.7,4013.5 L380.1,4013.5 L382.6,4013.5 L385.1,4013.5 L387.6,4013.5 L390.0,4013.5 L392.5,4013.5 L395.0,4013.5 L397.5,4013.5 L399.9,4013.5 L402.4,4013.5 L404.9,4013.5 L407.4,4013.5 L409.9,4013.5 L412.3,4013.5 L414.8,4013.5 L417.3,4013.5 L419.8,4013.5 L422.2,4013.5 L424.7,4013.5 L427.2,4013.5 L429.7,4013.5 L432.1,4013.5 L434.6,4013.5 L437.1,4013.5 L439.6,4013.5 L442.1,4013.5 L444.5,4013.5 L447.0,4013.5 L449.5,4013.5 L452.0,4013.5 L454.4,4013.5 L456.9,4013.5 L459.4,4013.5 L461.9,4013.5 L464.3,4013.5 L466.8,4013.5 L469.3,4013.5 L471.8,4013.5 L474.2,4013.5 L476.7,4013.5 L479.2,4013.5 L481.7,4013.5 L484.2,4013.5 L486.6,4013.5 L489.1,4013.5 L491.6,4013.5 L494.1,4013.5 L496.5,4013.5 L499.0,4013.5 L501.5,4013.5 L504.0,4013.5 L506.4,4013.5 L508.9,4013.5 L511.4,4013.5 L513.9,4013.5 L516.4,4013.5 L518.8,4013.5 L521.3,4013.5 L523.8,4013.5 L526.3,4013.5 L528.7,4013.5 L531.2,4013.5 L533.7,4013.5 L536.2,4013.5 L538.6,4013.5 L541.1,4013.5 L543.6,4013.5 L546.1,4013.5 L548.6,4013.5 L551.0,4013.5 L553.5,4013.5 L556.0,4013.5 L558.5,4013.5 L560.9,4013.5 L563.4,4013.5 L565.9,4013.5 L568.4,4013.5 L570.8,4013.5 L573.3,4013.5 L575.8,4013.5 L578.3,4013.5 L580.8,4013.5 L583.2,4013.5 L585.7,4013.5 L588.2,4013.5 L590.7,4013.5 L593.1,4013.5 L595.6,4013.5 L598.1,4013.5 L600.6,4013.5 L603.0,4013.5 L605.5,4013.5 L608.0,4013.5 L610.5,4013.5 L613.0,4013.5 L615.4,4013.5 L617.9,4013.5 L620.4,4013.5 L622.9,4013.5 L625.3,4013.5 L627.8,4013.5 L630.3,4013.5 L632.8,4013.5 L635.2,4013.5 L637.7,4013.5 L640.2,4013.5 L642.7,4013.5 L645.2,4013.5 L647.6,4013.5 L650.1,4013.5 L652.6,4013.5 L655.1,4013.5 L657.5,4013.5 L660.0,4013.5 L662.5,4013.5 L665.0,4013.5 L667.4,4013.5 L669.9,4013.5 L672.4,4013.5 L674.9,4013.5 L677.3,4013.5 L679.8,4013.5 L682.3,4013.5 L684.8,4013.5 L687.3,4013.5 L689.7,4013.5 L692.2,4013.5 L694.7,4013.5 L697.2,4013.5 L699.6,4013.5 L702.1,4013.5 L704.6,4013.5 L707.1,4013.4 L709.5,4013.4 L712.0,4013.4 L714.5,4013.3 L717.0,4013.3 L719.5,4013.2 L721.9,4013.1 L724.4,4012.9 L726.9,4012.7 L729.4,4012.4 L731.8,4012.0 L734.3,4011.6 L736.8,4011.0 L739.3,4010.2 L741.7,4009.3 L744.2,4008.1 L746.7,4006.6 L749.2,4004.9 L751.7,4002.8 L754.1,4000.4 L756.6,3997.5 L759.1,3994.1 L761.6,3990.2 L764.0,3985.9 L766.5,3981.0 L769.0,3975.6 L771.5,3969.7 L773.9,3963.3 L776.4,3956.5 L778.9,3949.4 L781.4,3942.1 L783.9,3934.6 L786.3,3927.1 L788.8,3919.8 L791.3,3912.7 L793.8,3906.1 L796.2,3900.1 L798.7,3894.9 L801.2,3890.5 L803.7,3887.1 L806.1,3884.8 L808.6,3883.6 L811.1,3883.6 L813.6,3884.8 L816.1,3887.1 L818.5,3890.5 L821.0,3894.9 L823.5,3900.1 L826.0,3906.1 L828.4,3912.7 L830.9,3919.8 L833.4,3927.1 L835.9,3934.6 L838.3,3942.1 L840.8,3949.4 L843.3,3956.5 L845.8,3963.3 L848.3,3969.7 L850.7,3975.6 L853.2,3981.0 L855.7,3985.9 L858.2,3990.2 L860.6,3994.1 L863.1,3997.5 L865.6,4000.4 L868.1,4002.8 L870.5,4004.9 L873.0,4006.6 L875.5,4008.1 L878.0,4009.3 L880.4,4010.2 L882.9,4011.0 L885.4,4011.6 L887.9,4012.0 L890.4,4012.4 L892.8,4012.7 L895.3,4012.9 L897.8,4013.1 L900.3,4013.2 L902.7,4013.3 L905.2,4013.3 L907.7,4013.4 L910.2,4013.4 L912.6,4013.4 L915.1,4013.5 L917.6,4013.5 L920.1,4013.5 L922.6,4013.5 L925.0,4013.5 L927.5,4013.5 L930.0,4013.5 L932.5,4013.5 L934.9,4013.5 L937.4,4013.5 L939.9,4013.5 L942.4,4013.5 L944.8,4013.5 L947.3,4013.5 L949.8,4013.5 L952.3,4013.5 L954.8,4013.5 L957.2,4013.5 L959.7,4013.5 L962.2,4013.5 L964.7,4013.5 L967.1,4013.5 L969.6,4013.5 L972.1,4013.5 L974.6,4013.5 L977.0,4013.5 L979.5,4013.5 L982.0,4013.5 L984.5,4013.5 L987.0,4013.5 L989.4,4013.5 L991.9,4013.5 L994.4,4013.5 L996.9,4013.5 L999.3,4013.5 L1001.8,4013.5 L1004.3,4013.5 L1006.8,4013.5 L1009.2,4013.5 L1011.7,4013.5 L1014.2,4013.5 L1016.7,4013.5 L1019.2,4013.5 L1021.6,4013.5 L1024.1,4013.5 L1026.6,4013.5 L1029.1,4013.5 L1031.5,4013.5 L1034.0,4013.5 L1036.5,4013.5 L1039.0,4013.5 L1041.4,4013.5 L1043.9,4013.5 L1046.4,4013.5 L1048.9,4013.5 L1051.4,4013.5 L1053.8,4013.5 L1056.3,4013.5 L1058.8,4013.5 L1061.3,4013.5 L1063.7,4013.5 L1066.2,4013.5 L1068.7,4013.5 L1071.2,4013.5 L1073.6,4013.5 L1076.1,4013.5 L1078.6,4013.5 L1081.1,4013.5 L1083.6,4013.5 L1086.0,4013.5 L1088.5,4013.5 L1091.0,4013.5 L1093.5,4013.5 L1095.9,4013.5 L1098.4,4013.5 L1100.9,4013.5 L1103.4,4013.5 L1105.8,4013.5 L1108.3,4013.5 L1110.8,4013.5 L1113.3,4013.5 L1115.7,4013.5 L1118.2,4013.5 L1120.7,4013.5 L1123.2,4013.5 L1125.7,4013.5 L1128.1,4013.5 L1130.6,4013.5 L1133.1,4013.5 L1135.6,4013.5 L1138.0,4013.5 L1140.5,4013.5 L1143.0,4013.5 L1145.5,4013.5 L1147.9,4013.5 L1150.4,4013.5 L1152.9,4013.5 L1155.4,4013.5 L1157.9,4013.5 L1160.3,4013.5 L1162.8,4013.5 L1165.3,4013.5 L1167.8,4013.5 L1170.2,4013.5 L1172.7,4013.5 L1175.2,4013.5 L1177.7,4013.5 L1180.1,4013.5 L1182.6,4013.5 L1185.1,4013.5 L1187.6,4013.5 L1190.1,4013.5 L1192.5,4013.5 L1195.0,4013.5 L1197.5,4013.5 L1200.0,4013.5 L1202.4,4013.5 L1204.9,4013.5 L1207.4,4013.5 L1209.9,4013.5 L1212.3,4013.5 L1214.8,4013.5 L1217.3,4013.5 L1219.8,4013.5 L1222.3,4013.5 L1224.7,4013.5 L1227.2,4013.5 L1229.7,4013.5 L1232.2,4013.5 L1234.6,4013.5 L1237.1,4013.5 L1239.6,4013.5 L1242.1,4013.5 L1244.5,4013.5 L1247.0,4013.5 L1249.5,4013.5 L1252.0,4013.5 L1254.5,4013.5 L1256.9,4013.5 L1259.4,4013.5 L1261.9,4013.5 L1264.4,4013.5 L1266.8,4013.5 L1269.3,4013.5 L1271.8,4013.5 L1274.3,4013.5 L1276.7,4013.5 L1279.2,4013.5 L1281.7,4013.5 L1284.2,4013.5 L1286.7,4013.5 L1289.1,4013.5 L1291.6,4013.5 L1294.1,4013.5 L1296.6,4013.5 L1299.0,4013.5 L1301.5,4013.5 L1304.0,4013.5 L1306.5,4013.5 L1308.9,4013.5 L1311.4,4013.5 L1313.9,4013.5 L1316.4,4013.5 L1318.8,4013.5 L1321.3,4013.5 L1323.8,4013.5 L1326.3,4013.5 L1328.8,4013.5 L1331.2,4013.5 L1333.7,4013.5 L1336.2,4013.5 L1338.7,4013.5 L1341.1,4013.5 L1343.6,4013.5 L1346.1,4013.5 L1348.6,4013.5 L1351.0,4013.5 L1353.5,4013.5 L1356.0,4013.5 L1358.5,4013.5 L1361.0,4013.5 L1363.4,4013.5 L1365.9,4013.5 L1368.4,4013.5 L1370.9,4013.5 L1373.3,4013.5 L1375.8,4013.5 L1378.3,4013.5 L1380.8,4013.5 L1383.2,4013.5 L1385.7,4013.5 L1388.2,4013.5 L1390.7,4013.5 L1393.2,4013.5 L1395.6,4013.5 L1398.1,4013.5 L1400.6,4013.5 L1403.1,4013.5 L1405.5,4013.5 L1408.0,4013.5 L1410.5,4013.5 L1413.0,4013.5 L1415.4,4013.5 L1417.9,4013.5 L1420.4,4013.5 L1422.9,4013.5 L1425.4,4013.5 L1427.8,4013.5 L1430.3,4013.5 L1432.8,4013.5 L1435.3,4013.5 L1437.7,4013.5 L1440.2,4013.5 L1442.7,4013.5 L1445.2,4013.5 L1447.6,4013.5 L1450.1,4013.5 L1452.6,4013.5 L1455.1,4013.5 L1457.6,4013.5 L1460.0,4013.5 L1462.5,4013.5 L1465.0,4013.5 L1467.5,4013.5 L1469.9,4013.5 L1472.4,4013.5 L1474.9,4013.5 L1477.4,4013.5 L1479.8,4013.5 L1482.3,4013.5 L1484.8,4013.5 L1487.3,4013.5 L1489.8,4013.5 L1492.2,4013.5 L1494.7,4013.5 L1497.2,4013.5 L1499.7,4013.5 L1502.1,4013.5 L1504.6,4013.5 L1507.1,4013.5 L1509.6,4013.5 L1512.0,4013.5 L1514.5,4013.5 L1517.0,4013.5 L1519.5,4013.5 L1521.9,4013.5 L1524.4,4013.5 L1526.9,4013.5 L1529.4,4013.5 L1531.9,4013.5 L1534.3,4013.5 L1536.8,4013.5 L1539.3,4013.5 L1541.8,4013.5 L1544.2,4013.5 L1546.7,4013.5 L1549.2,4013.5 L1551.7,4013.5 L1554.1,4013.5 L1556.6,4013.5 L1559.1,4013.5 L1561.6,4013.5 L1564.1,4013.5 L1566.5,4013.5 L1569.0,4013.5 L1571.5,4013.5 L1574.0,4013.5 L1576.4,4013.5 L1578.9,4013.5 L1581.4,4013.5 L1583.9,4013.5 L1586.3,4013.5 L1588.8,4013.5 L1591.3,4013.5 L1593.8,4013.5 L1596.3,4013.5 L1598.7,4013.5 L1601.2,4013.5 L1603.7,4013.5 L1606.2,4013.5 L1608.6,4013.5 L1611.1,4013.5 L1613.6,4013.5 L1616.1,4013.5 L1618.5,4013.5 L1621.0,4013.5 L1623.5,4013.5" stroke="#00f0ff" stroke-width="4.6" stroke-dasharray="21.5 33" stroke-linecap="round" stroke-dashoffset="27"/>
<g fill="#ff0000" stroke="none"><circle cx="155.3" cy="4012.4" r="6.9"/><circle cx="171.8" cy="4008.7" r="6.9"/><circle cx="190.7" cy="4014.1" r="6.9"/><circle cx="206.0" cy="4007.1" r="6.9"/><circle cx="221.1" cy="4010.0" r="6.9"/><circle cx="241.6" cy="4009.5" r="6.9"/><circle cx="259.6" cy="4008.2" r="6.9"/><circle cx="282.4" cy="4009.2" r="6.9"/><circle cx="300.7" cy="4007.6" r="6.9"/><circle cx="318.8" cy="4004.3" r="6.9"/><circle cx="337.7" cy="4009.3" r="6.9"/><circle cx="352.6" cy="4009.7" r="6.9"/><circle cx="368.1" cy="4005.1" r="6.9"/><circle cx="385.0" cy="4001.4" r="6.9"/><circle cx="397.4" cy="4006.2" r="6.9"/><circle cx="415.6" cy="4002.3" r="6.9"/><circle cx="433.1" cy="3996.0" r="6.9"/><circle cx="448.1" cy="3996.6" r="6.9"/><circle cx="460.3" cy="3996.9" r="6.9"/><circle cx="478.0" cy="3994.2" r="6.9"/><circle cx="489.0" cy="3987.5" r="6.9"/><circle cx="505.7" cy="3987.6" r="6.9"/><circle cx="522.8" cy="3979.6" r="6.9"/><circle cx="544.1" cy="3974.2" r="6.9"/><circle cx="562.9" cy="3963.6" r="6.9"/><circle cx="581.1" cy="3953.5" r="6.9"/><circle cx="596.9" cy="3942.3" r="6.9"/><circle cx="612.9" cy="3930.7" r="6.9"/><circle cx="630.9" cy="3918.4" r="6.9"/><circle cx="643.2" cy="3908.3" r="6.9"/><circle cx="658.4" cy="3894.5" r="6.9"/><circle cx="676.0" cy="3880.8" r="6.9"/><circle cx="695.0" cy="3867.4" r="6.9"/><circle cx="709.9" cy="3856.0" r="6.9"/><circle cx="720.3" cy="3851.2" r="6.9"/><circle cx="733.0" cy="3842.3" r="6.9"/><circle cx="747.9" cy="3828.7" r="6.9"/><circle cx="758.9" cy="3807.3" r="6.9"/><circle cx="769.7" cy="3787.3" r="6.9"/><circle cx="777.7" cy="3763.8" r="6.9"/><circle cx="784.1" cy="3739.6" r="6.9"/><circle cx="792.5" cy="3716.9" r="6.9"/><circle cx="803.5" cy="3694.8" r="6.9"/><circle cx="820.2" cy="3701.8" r="6.9"/><circle cx="829.4" cy="3724.9" r="6.9"/><circle cx="836.3" cy="3748.9" r="6.9"/><circle cx="843.9" cy="3772.7" r="6.9"/><circle cx="851.1" cy="3796.6" r="6.9"/><circle cx="861.7" cy="3819.2" r="6.9"/><circle cx="875.5" cy="3838.7" r="6.9"/><circle cx="891.3" cy="3854.2" r="6.9"/><circle cx="908.6" cy="3865.2" r="6.9"/><circle cx="926.4" cy="3876.2" r="6.9"/><circle cx="944.1" cy="3886.0" r="6.9"/><circle cx="964.9" cy="3894.8" r="6.9"/><circle cx="983.7" cy="3898.5" r="6.9"/><circle cx="1001.7" cy="3897.7" r="6.9"/><circle cx="1021.4" cy="3893.7" r="6.9"/><circle cx="1034.4" cy="3874.8" r="6.9"/><circle cx="1043.7" cy="3856.1" r="6.9"/><circle cx="1050.6" cy="3832.2" r="6.9"/><circle cx="1057.2" cy="3808.1" r="6.9"/><circle cx="1061.6" cy="3783.5" r="6.9"/><circle cx="1066.5" cy="3759.0" r="6.9"/><circle cx="1070.0" cy="3734.3" r="6.9"/><circle cx="1073.3" cy="3709.5" r="6.9"/><circle cx="1075.4" cy="3684.6" r="6.9"/><circle cx="1077.0" cy="3659.6" r="6.9"/><circle cx="1078.3" cy="3634.7" r="6.9"/><circle cx="1079.4" cy="3609.7" r="6.9"/><circle cx="1080.4" cy="3584.7" r="6.9"/><circle cx="1081.3" cy="3559.7" r="6.9"/><circle cx="1082.1" cy="3534.7" r="6.9"/><circle cx="1082.8" cy="3509.7" r="6.9"/><circle cx="1083.5" cy="3484.7" r="6.9"/><circle cx="1084.2" cy="3459.8" r="6.9"/><circle cx="1084.8" cy="3434.8" r="6.9"/><circle cx="1085.4" cy="3409.8" r="6.9"/><circle cx="1085.9" cy="3384.8" r="6.9"/><circle cx="1086.5" cy="3359.8" r="6.9"/><circle cx="1087.0" cy="3334.8" r="6.9"/><circle cx="1087.6" cy="3309.8" r="6.9"/><circle cx="1088.1" cy="3284.8" r="6.9"/><circle cx="1088.6" cy="3259.8" r="6.9"/><circle cx="1089.1" cy="3234.8" r="6.9"/><circle cx="1089.7" cy="3209.8" r="6.9"/><circle cx="1090.2" cy="3184.8" r="6.9"/><circle cx="1090.8" cy="3159.8" r="6.9"/><circle cx="1091.4" cy="3134.8" r="6.9"/><circle cx="1092.1" cy="3109.8" r="6.9"/><circle cx="1092.8" cy="3084.9" r="6.9"/><circle cx="1093.7" cy="3059.9" r="6.9"/><circle cx="1094.9" cy="3034.9" r="6.9"/><circle cx="1098.1" cy="3032.0" r="6.9"/><circle cx="1099.6" cy="3057.0" r="6.9"/><circle cx="1100.6" cy="3081.9" r="6.9"/><circle cx="1101.5" cy="3106.9" r="6.9"/><circle cx="1102.2" cy="3131.9" r="6.9"/><circle cx="1102.9" cy="3156.9" r="6.9"/><circle cx="1103.6" cy="3181.9" r="6.9"/><circle cx="1104.3" cy="3206.9" r="6.9"/><circle cx="1105.0" cy="3231.9" r="6.9"/><circle cx="1105.7" cy="3256.9" r="6.9"/><circle cx="1106.5" cy="3281.9" r="6.9"/><circle cx="1107.3" cy="3306.8" r="6.9"/><circle cx="1108.1" cy="3331.8" r="6.9"/><circle cx="1109.1" cy="3356.8" r="6.9"/><circle cx="1110.2" cy="3381.8" r="6.9"/><circle cx="1111.4" cy="3406.8" r="6.9"/><circle cx="1112.9" cy="3431.7" r="6.9"/><circle cx="1114.9" cy="3456.6" r="6.9"/><circle cx="1117.8" cy="3481.4" r="6.9"/><circle cx="1121.8" cy="3506.1" r="6.9"/><circle cx="1124.8" cy="3530.9" r="6.9"/><circle cx="1128.3" cy="3555.7" r="6.9"/><circle cx="1130.9" cy="3580.5" r="6.9"/><circle cx="1134.1" cy="3605.3" r="6.9"/><circle cx="1136.8" cy="3630.2" r="6.9"/><circle cx="1139.7" cy="3655.0" r="6.9"/><circle cx="1142.5" cy="3679.8" r="6.9"/><circle cx="1145.7" cy="3704.6" r="6.9"/><circle cx="1148.7" cy="3729.4" r="6.9"/><circle cx="1152.1" cy="3754.2" r="6.9"/><circle cx="1155.2" cy="3779.0" r="6.9"/><circle cx="1159.3" cy="3803.7" r="6.9"/><circle cx="1163.3" cy="3828.4" r="6.9"/><circle cx="1168.2" cy="3852.9" r="6.9"/><circle cx="1173.8" cy="3877.2" r="6.9"/><circle cx="1180.9" cy="3901.1" r="6.9"/><circle cx="1187.5" cy="3925.0" r="6.9"/><circle cx="1198.6" cy="3944.4" r="6.9"/><circle cx="1210.0" cy="3958.0" r="6.9"/><circle cx="1219.4" cy="3966.9" r="6.9"/><circle cx="1234.8" cy="3972.6" r="6.9"/><circle cx="1252.3" cy="3979.4" r="6.9"/><circle cx="1262.4" cy="3981.6" r="6.9"/><circle cx="1277.8" cy="3990.3" r="6.9"/><circle cx="1291.8" cy="3986.7" r="6.9"/><circle cx="1303.7" cy="3993.9" r="6.9"/><circle cx="1316.9" cy="3993.0" r="6.9"/><circle cx="1327.6" cy="3994.6" r="6.9"/><circle cx="1341.7" cy="3996.8" r="6.9"/><circle cx="1352.7" cy="3997.8" r="6.9"/><circle cx="1363.8" cy="3999.9" r="6.9"/><circle cx="1379.8" cy="4000.9" r="6.9"/><circle cx="1388.5" cy="3999.8" r="6.9"/><circle cx="1402.0" cy="4001.8" r="6.9"/><circle cx="1416.5" cy="4001.5" r="6.9"/><circle cx="1426.2" cy="4006.0" r="6.9"/><circle cx="1441.1" cy="3997.8" r="6.9"/><circle cx="1449.0" cy="3997.8" r="6.9"/><circle cx="1460.4" cy="4002.1" r="6.9"/><circle cx="1475.3" cy="4004.5" r="6.9"/><circle cx="1491.7" cy="4008.1" r="6.9"/><circle cx="1502.5" cy="4006.0" r="6.9"/><circle cx="1521.9" cy="4003.6" r="6.9"/><circle cx="1537.7" cy="4006.6" r="6.9"/><circle cx="1546.4" cy="4008.9" r="6.9"/><circle cx="1562.9" cy="4005.5" r="6.9"/><circle cx="1573.3" cy="4005.8" r="6.9"/><circle cx="1582.9" cy="4003.5" r="6.9"/><circle cx="1595.2" cy="4007.9" r="6.9"/><circle cx="1607.6" cy="4008.3" r="6.9"/><circle cx="1616.0" cy="4004.8" r="6.9"/></g>
</g>
<text x="191.0" y="3023.3" font-size="88.6" text-anchor="start" >(c)</text>
<text x="164.2" y="3183.0" font-size="88.8" text-anchor="start" >Anthracite sample</text>
<text x="597.0" y="3610.0" font-size="89.0" text-anchor="start" >D</text>
<text x="1259.0" y="3041.0" font-size="89.5" text-anchor="start" >G</text>
<line x1="677.6" y1="3602.9" x2="769.7" y2="3667.8" stroke="#000" stroke-width="3.7" stroke-linecap="round"/><polygon points="791.0,3682.8 761.6,3672.5 771.4,3658.6" fill="#000"/>
<line x1="1235.2" y1="3010.8" x2="1140.5" y2="3020.1" stroke="#000" stroke-width="3.7" stroke-linecap="round"/><polygon points="1114.6,3022.7 1143.6,3011.3 1145.3,3028.2" fill="#000"/>
<text x="107.2" y="1242.3" font-size="68.0" text-anchor="middle" >800</text>
<text x="373.4" y="1242.3" font-size="68.0" text-anchor="middle" >1000</text>
<text x="619.8" y="1242.3" font-size="68.0" text-anchor="middle" >1200</text>
<text x="866.8" y="1242.3" font-size="68.0" text-anchor="middle" >1400</text>
<text x="1115.4" y="1242.3" font-size="68.0" text-anchor="middle" >1600</text>
<text x="1361.7" y="1242.3" font-size="68.0" text-anchor="middle" >1800</text>
<text x="1606.4" y="1242.3" font-size="68.0" text-anchor="middle" >2000</text>
<text x="639.0" y="1315.6" font-size="68.1">Raman shift (cm<tspan font-size="38" dy="-37">−1</tspan><tspan dy="37">)</tspan></text>
<text transform="translate(90.8,607.3) rotate(-90)" font-size="68.5" text-anchor="middle">Intensity (a.u.)</text>
<text x="99.7" y="2742.8" font-size="68.0" text-anchor="middle" >800</text>
<text x="365.9" y="2742.8" font-size="68.0" text-anchor="middle" >1000</text>
<text x="612.7" y="2742.8" font-size="68.0" text-anchor="middle" >1200</text>
<text x="857.4" y="2742.8" font-size="68.0" text-anchor="middle" >1400</text>
<text x="1105.8" y="2742.8" font-size="68.0" text-anchor="middle" >1600</text>
<text x="1353.0" y="2742.8" font-size="68.0" text-anchor="middle" >1800</text>
<text x="1599.3" y="2742.8" font-size="68.0" text-anchor="middle" >2000</text>
<text x="593.9" y="2813.5" font-size="68.1">Raman shift (cm<tspan font-size="38" dy="-37">−1</tspan><tspan dy="37">)</tspan></text>
<text transform="translate(97.6,2142.2) rotate(-90)" font-size="68.5" text-anchor="middle">Intensity (a.u.)</text>
<text x="135.4" y="4109.6" font-size="68.0" text-anchor="middle" >800</text>
<text x="385.3" y="4109.6" font-size="68.0" text-anchor="middle" >1000</text>
<text x="631.6" y="4109.6" font-size="68.0" text-anchor="middle" >1200</text>
<text x="878.3" y="4109.6" font-size="68.0" text-anchor="middle" >1400</text>
<text x="1126.1" y="4109.6" font-size="68.0" text-anchor="middle" >1600</text>
<text x="1375.1" y="4109.6" font-size="68.0" text-anchor="middle" >1800</text>
<text x="1621.2" y="4109.6" font-size="68.0" text-anchor="middle" >2000</text>
<text x="674.0" y="4184.0" font-size="68.1">Raman shift (cm<tspan font-size="38" dy="-37">−1</tspan><tspan dy="37">)</tspan></text>
<text transform="translate(98.0,3518.5) rotate(-90)" font-size="68.5" text-anchor="middle">Intensity (a.u.)</text>
</svg></body></html>
